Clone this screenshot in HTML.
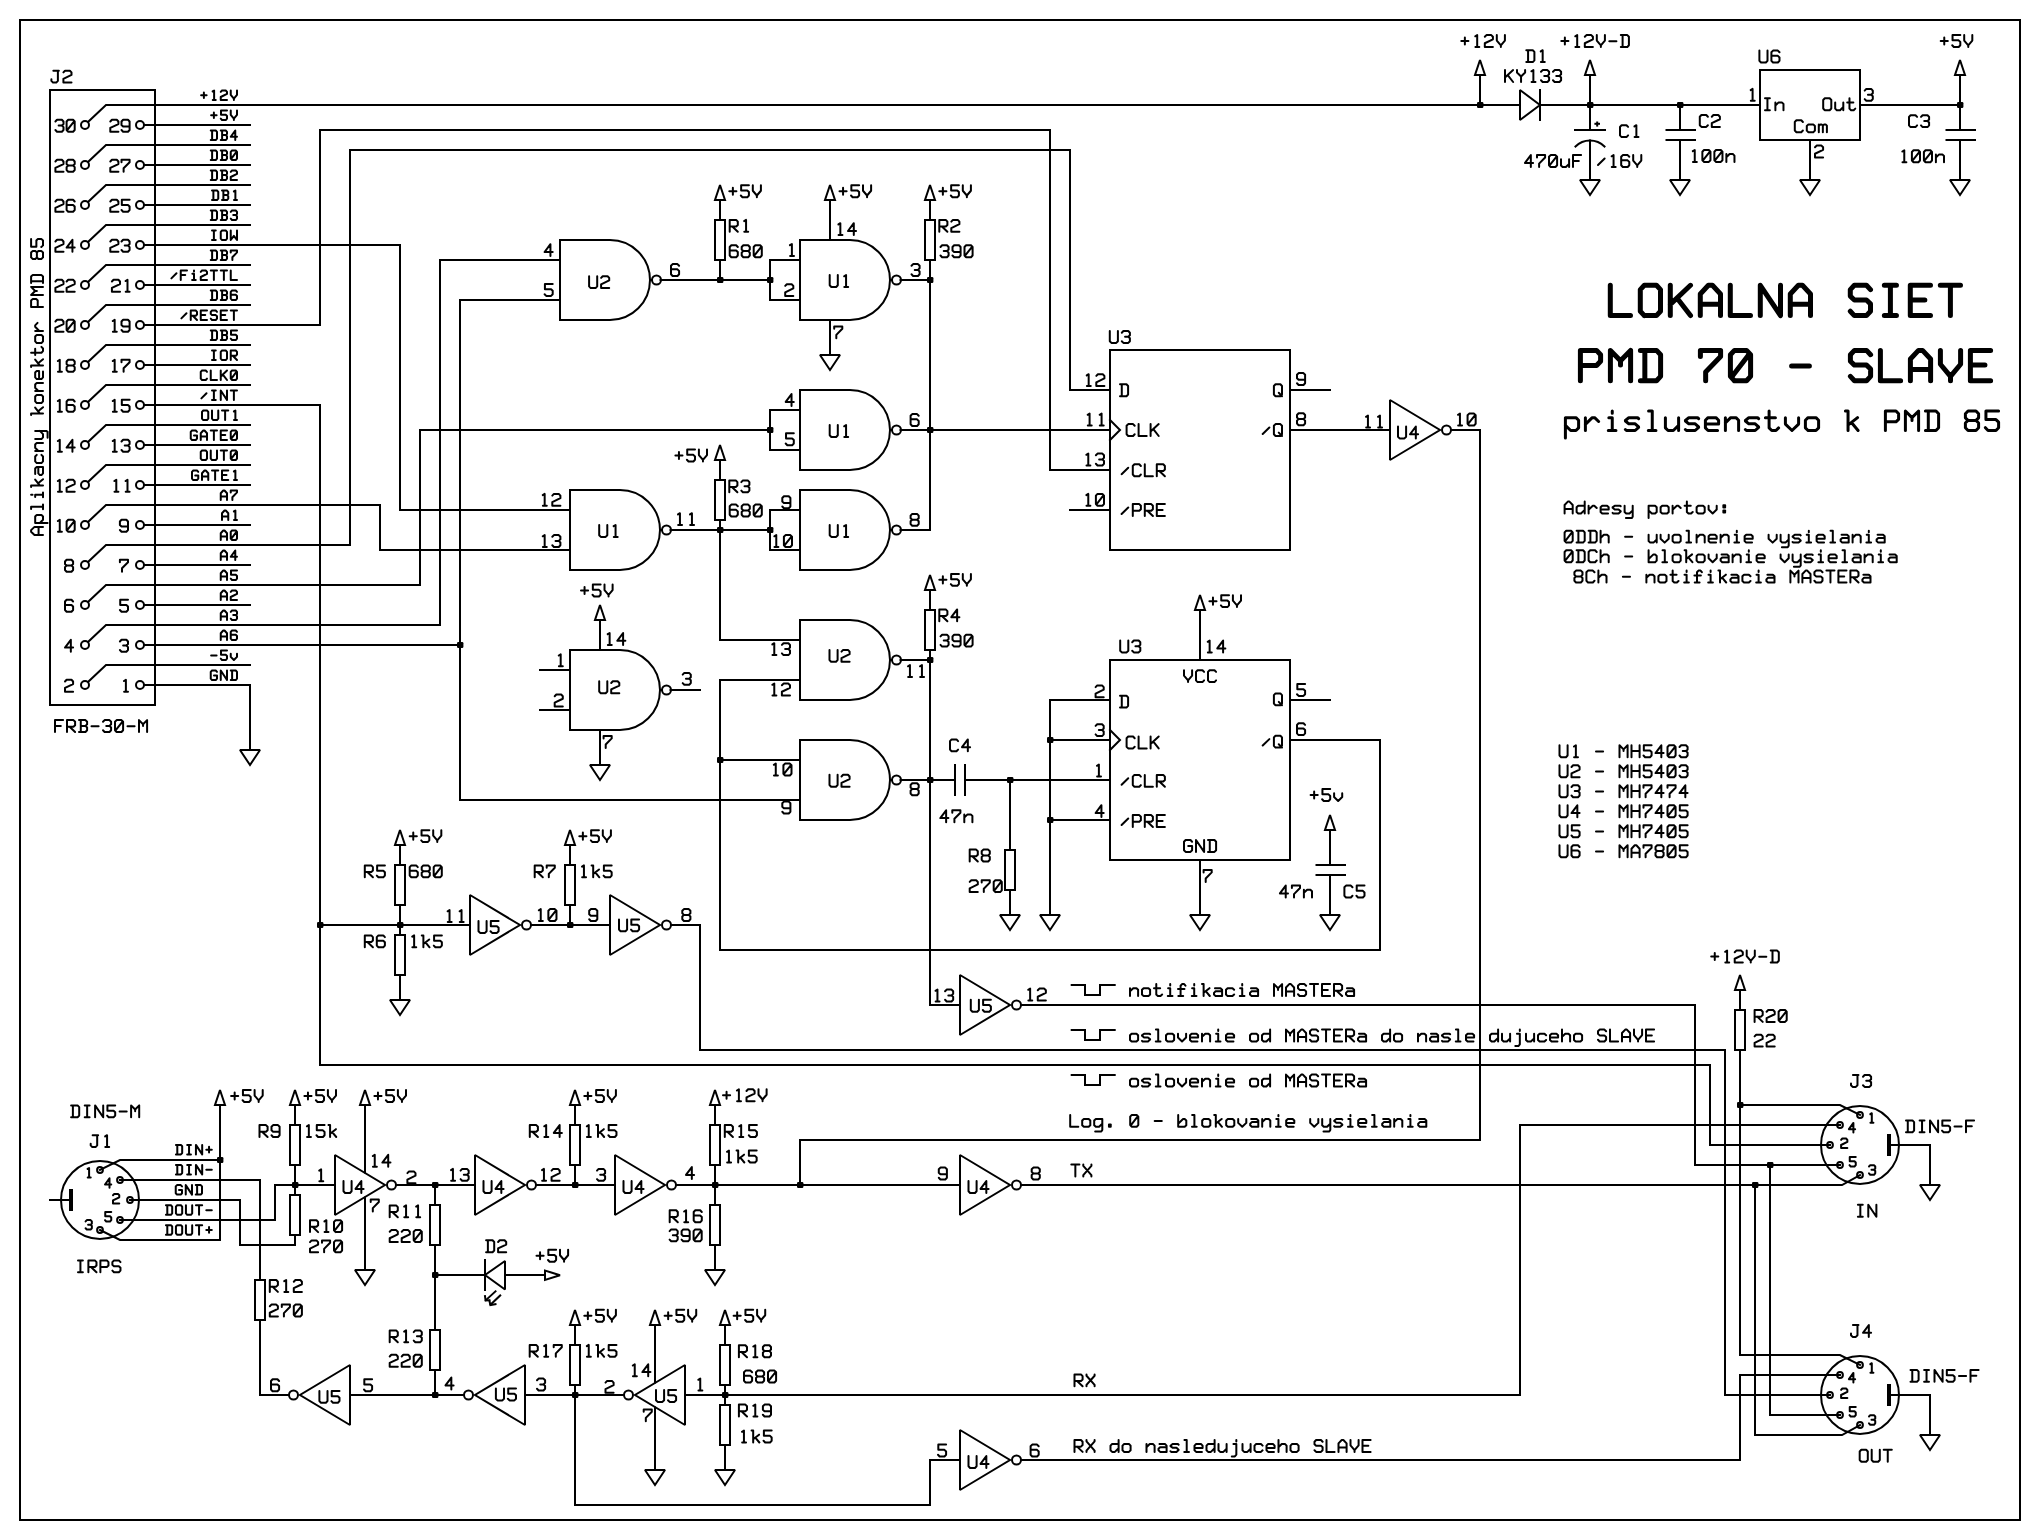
<!DOCTYPE html>
<html><head><meta charset="utf-8"><title>LOKALNA SIET PMD 70 - SLAVE</title>
<style>
html,body{margin:0;padding:0;background:#fff;width:2040px;height:1540px;overflow:hidden;}
svg{display:block;}
.w *{fill:none;stroke:#000;stroke-width:2;stroke-linecap:square;stroke-linejoin:miter;stroke-miterlimit:2;}
.w .d{fill:#000;stroke:none;}
.w .k{stroke-width:4;stroke-linecap:butt;}
body{font-family:"Liberation Mono",monospace;}
.g path{fill:none;stroke:#000;stroke-linecap:round;stroke-linejoin:round;}
</style></head>
<body>
<svg width="2040" height="1540" viewBox="0 0 2040 1540">
<rect x="0" y="0" width="2040" height="1540" fill="#fff"/>
<g class="w">
<rect x="20" y="20" width="2000" height="1500"/>
<rect x="50" y="90" width="105" height="615"/>
<circle cx="140" cy="125" r="4"/>
<circle cx="85" cy="125" r="4"/>
<polyline points="144.5,125 250,125"/>
<circle cx="140" cy="165" r="4"/>
<circle cx="85" cy="165" r="4"/>
<polyline points="144.5,165 250,165"/>
<polyline points="88.2,161.8 106,145 250,145"/>
<circle cx="140" cy="205" r="4"/>
<circle cx="85" cy="205" r="4"/>
<polyline points="144.5,205 250,205"/>
<polyline points="88.2,201.8 106,185 250,185"/>
<circle cx="140" cy="245" r="4"/>
<circle cx="85" cy="245" r="4"/>
<polyline points="88.2,241.8 106,225 250,225"/>
<circle cx="140" cy="285" r="4"/>
<circle cx="85" cy="285" r="4"/>
<polyline points="144.5,285 250,285"/>
<polyline points="88.2,281.8 106,265 250,265"/>
<circle cx="140" cy="325" r="4"/>
<circle cx="85" cy="325" r="4"/>
<polyline points="88.2,321.8 106,305 250,305"/>
<circle cx="140" cy="365" r="4"/>
<circle cx="85" cy="365" r="4"/>
<polyline points="144.5,365 250,365"/>
<polyline points="88.2,361.8 106,345 250,345"/>
<circle cx="140" cy="405" r="4"/>
<circle cx="85" cy="405" r="4"/>
<polyline points="88.2,401.8 106,385 250,385"/>
<circle cx="140" cy="445" r="4"/>
<circle cx="85" cy="445" r="4"/>
<polyline points="144.5,445 250,445"/>
<polyline points="88.2,441.8 106,425 250,425"/>
<circle cx="140" cy="485" r="4"/>
<circle cx="85" cy="485" r="4"/>
<polyline points="144.5,485 250,485"/>
<polyline points="88.2,481.8 106,465 250,465"/>
<circle cx="140" cy="525" r="4"/>
<circle cx="85" cy="525" r="4"/>
<polyline points="144.5,525 250,525"/>
<circle cx="140" cy="565" r="4"/>
<circle cx="85" cy="565" r="4"/>
<polyline points="144.5,565 250,565"/>
<circle cx="140" cy="605" r="4"/>
<circle cx="85" cy="605" r="4"/>
<polyline points="144.5,605 250,605"/>
<circle cx="140" cy="645" r="4"/>
<circle cx="85" cy="645" r="4"/>
<circle cx="140" cy="685" r="4"/>
<circle cx="85" cy="685" r="4"/>
<polyline points="88.2,681.8 106,665 250,665"/>
<polyline points="88.2,121.8 106,105 1520,105"/>
<polyline points="144.5,245 400,245 400,510 570,510"/>
<polyline points="144.5,325 320,325 320,130 1050,130 1050,470 1110,470"/>
<polyline points="144.5,405 320,405 320,1065 1710,1065 1710,1145 1830,1145"/>
<polyline points="88.2,521.8 106,505 380,505 380,550 570,550"/>
<polyline points="88.2,561.8 106,545 350,545 350,150 1070,150 1070,390 1110,390"/>
<polyline points="88.2,601.8 106,585 420,585 420,430 770,430"/>
<polyline points="88.2,641.8 106,625 440,625 440,260 560,260"/>
<polyline points="144.5,645 460,645"/>
<rect class="d" x="457" y="642" width="6.4" height="6" rx="1.2"/>
<polyline points="560,300 460,300 460,800 800,800"/>
<polyline points="144.5,685 250,685 250,750"/>
<polygon points="240,750 260,750 250,765"/>
<path d="M560,240 H610 A40,40 0 0 1 610,320 H560 Z"/>
<circle cx="656.5" cy="280" r="4.5"/>
<polyline points="650,280 652,280"/>
<polyline points="660.5,280 770,280"/>
<rect class="d" x="717" y="277" width="6.4" height="6" rx="1.2"/>
<rect class="d" x="767" y="277" width="6.4" height="6" rx="1.2"/>
<polyline points="800,260 770,260 770,300 800,300"/>
<polygon points="715,200 725,200 720,185"/>
<polyline points="720,200 720,220"/>
<rect x="715" y="220" width="10" height="40"/>
<polyline points="720,260 720,280"/>
<path d="M800,240 H850 A40,40 0 0 1 850,320 H800 Z"/>
<circle cx="896.5" cy="280" r="4.5"/>
<polyline points="890,280 892,280"/>
<polyline points="830,240 830,200"/>
<polygon points="825,200 835,200 830,185"/>
<polyline points="830,320 830,355"/>
<polygon points="820,355 840,355 830,370"/>
<polyline points="900.5,280 930,280"/>
<polygon points="925,200 935,200 930,185"/>
<polyline points="930,200 930,220"/>
<rect x="925" y="220" width="10" height="40"/>
<polyline points="930,260 930,530 900.5,530"/>
<rect class="d" x="927" y="277" width="6.4" height="6" rx="1.2"/>
<rect class="d" x="927" y="427" width="6.4" height="6" rx="1.2"/>
<path d="M800,390 H850 A40,40 0 0 1 850,470 H800 Z"/>
<circle cx="896.5" cy="430" r="4.5"/>
<polyline points="890,430 892,430"/>
<polyline points="800,410 770,410 770,450 800,450"/>
<rect class="d" x="767" y="427" width="6.4" height="6" rx="1.2"/>
<polyline points="900.5,430 1110,430"/>
<path d="M800,490 H850 A40,40 0 0 1 850,570 H800 Z"/>
<circle cx="896.5" cy="530" r="4.5"/>
<polyline points="890,530 892,530"/>
<polyline points="800,510 770,510 770,550 800,550"/>
<rect class="d" x="767" y="527" width="6.4" height="6" rx="1.2"/>
<path d="M570,490 H620 A40,40 0 0 1 620,570 H570 Z"/>
<circle cx="666.5" cy="530" r="4.5"/>
<polyline points="660,530 662,530"/>
<polyline points="670.5,530 770,530"/>
<rect class="d" x="717" y="527" width="6.4" height="6" rx="1.2"/>
<polygon points="715,460 725,460 720,445"/>
<polyline points="720,460 720,480"/>
<rect x="715" y="480" width="10" height="40"/>
<polyline points="720,520 720,640 800,640"/>
<path d="M570,650 H620 A40,40 0 0 1 620,730 H570 Z"/>
<circle cx="666.5" cy="690" r="4.5"/>
<polyline points="660,690 662,690"/>
<polyline points="540,670 570,670"/>
<polyline points="540,710 570,710"/>
<polyline points="670.5,690 700,690"/>
<polyline points="600,650 600,620"/>
<polygon points="595,620 605,620 600,605"/>
<polyline points="600,730 600,765"/>
<polygon points="590,765 610,765 600,780"/>
<path d="M800,620 H850 A40,40 0 0 1 850,700 H800 Z"/>
<circle cx="896.5" cy="660" r="4.5"/>
<polyline points="890,660 892,660"/>
<polyline points="720,680 800,680"/>
<polyline points="900.5,660 930,660"/>
<rect class="d" x="927" y="657" width="6.4" height="6" rx="1.2"/>
<polygon points="925,590 935,590 930,575"/>
<polyline points="930,590 930,610"/>
<rect x="925" y="610" width="10" height="40"/>
<polyline points="930,650 930,1005 960,1005"/>
<rect class="d" x="927" y="777" width="6.4" height="6" rx="1.2"/>
<path d="M800,740 H850 A40,40 0 0 1 850,820 H800 Z"/>
<circle cx="896.5" cy="780" r="4.5"/>
<polyline points="890,780 892,780"/>
<polyline points="720,760 800,760"/>
<rect class="d" x="717" y="757" width="6.4" height="6" rx="1.2"/>
<polyline points="900.5,780 955,780"/>
<polyline points="720,680 720,950 1380,950 1380,740 1290,740"/>
<polyline points="955,765 955,795"/>
<polyline points="965,765 965,795"/>
<polyline points="965,780 1110,780"/>
<rect class="d" x="1007" y="777" width="6.4" height="6" rx="1.2"/>
<polyline points="1010,780 1010,850"/>
<rect x="1005" y="850" width="10" height="40"/>
<polyline points="1010,890 1010,915"/>
<polygon points="1000,915 1020,915 1010,930"/>
<polyline points="1110,700 1050,700 1050,915"/>
<polygon points="1040,915 1060,915 1050,930"/>
<rect class="d" x="1047" y="737" width="6.4" height="6" rx="1.2"/>
<polyline points="1050,740 1110,740"/>
<rect class="d" x="1047" y="817" width="6.4" height="6" rx="1.2"/>
<polyline points="1050,820 1110,820"/>
<rect x="1110" y="350" width="180" height="200"/>
<polyline points="1110,420 1120,430 1110,440"/>
<polyline points="1070,510 1110,510"/>
<polyline points="1290,390 1330,390"/>
<polyline points="1290,430 1390,430"/>
<polygon points="1390,400 1390,460 1440,430"/>
<circle cx="1446.5" cy="430" r="4.5"/>
<polyline points="1451.5,430 1480,430 1480,1140 800,1140 800,1185"/>
<rect x="1110" y="660" width="180" height="200"/>
<polyline points="1110,730 1120,740 1110,750"/>
<polyline points="1200,660 1200,610"/>
<polygon points="1195,610 1205,610 1200,595"/>
<polyline points="1200,860 1200,915"/>
<polygon points="1190,915 1210,915 1200,930"/>
<polyline points="1290,700 1330,700"/>
<polygon points="1325,830 1335,830 1330,815"/>
<polyline points="1330,830 1330,865"/>
<polyline points="1316.5,865 1345,865"/>
<polyline points="1316.5,875 1345,875"/>
<polyline points="1330,875 1330,915"/>
<polygon points="1320,915 1340,915 1330,930"/>
<rect class="d" x="1477" y="102" width="6.4" height="6" rx="1.2"/>
<polyline points="1480,105 1480,75"/>
<polygon points="1475,75 1485,75 1480,60"/>
<polygon points="1520,90 1520,120 1540,105"/>
<polyline points="1540,90 1540,120"/>
<polyline points="1540,105 1760,105"/>
<rect class="d" x="1587" y="102" width="6.4" height="6" rx="1.2"/>
<polyline points="1590,105 1590,75"/>
<polygon points="1585,75 1595,75 1590,60"/>
<polyline points="1590,105 1590,130"/>
<polyline points="1575,130 1605,130"/>
<path d="M1575.5,146.5 A20.5,20.5 0 0 1 1604.5,146.5"/>
<polyline points="1590,140.5 1590,180"/>
<polygon points="1580,180 1600,180 1590,195"/>
<polyline points="1595.4,123.8 1599,123.8"/>
<polyline points="1597.2,122.5 1597.2,125.6"/>
<rect class="d" x="1677" y="102" width="6.4" height="6" rx="1.2"/>
<polyline points="1680,105 1680,130"/>
<polyline points="1666.5,130 1695,130"/>
<polyline points="1666.5,140 1695,140"/>
<polyline points="1680,140 1680,180"/>
<polygon points="1670,180 1690,180 1680,195"/>
<rect x="1760" y="70" width="100" height="70"/>
<polyline points="1810,140 1810,180"/>
<polygon points="1800,180 1820,180 1810,195"/>
<polyline points="1860,105 1960,105"/>
<rect class="d" x="1957" y="102" width="6.4" height="6" rx="1.2"/>
<polyline points="1960,105 1960,75"/>
<polygon points="1955,75 1965,75 1960,60"/>
<polyline points="1960,105 1960,130"/>
<polyline points="1946.5,130 1975,130"/>
<polyline points="1946.5,140 1975,140"/>
<polyline points="1960,140 1960,180"/>
<polygon points="1950,180 1970,180 1960,195"/>
<rect class="d" x="317" y="922" width="6.4" height="6" rx="1.2"/>
<polyline points="320,925 470,925"/>
<rect class="d" x="397" y="922" width="6.4" height="6" rx="1.2"/>
<polygon points="395,845 405,845 400,830"/>
<polyline points="400,845 400,865"/>
<rect x="395" y="865" width="10" height="40"/>
<polyline points="400,905 400,935"/>
<rect x="395" y="935" width="10" height="40"/>
<polyline points="400,975 400,1000"/>
<polygon points="390,1000 410,1000 400,1015"/>
<polygon points="470,895 470,955 520,925"/>
<circle cx="526.5" cy="925" r="4.5"/>
<polyline points="531.5,925 610,925"/>
<rect class="d" x="567" y="922" width="6.4" height="6" rx="1.2"/>
<polygon points="565,845 575,845 570,830"/>
<polyline points="570,845 570,865"/>
<rect x="565" y="865" width="10" height="40"/>
<polyline points="570,905 570,925"/>
<polygon points="610,895 610,955 660,925"/>
<circle cx="666.5" cy="925" r="4.5"/>
<polyline points="671.5,925 700,925 700,1050 1725,1050 1725,1395 1830,1395"/>
<polygon points="960,975 960,1035 1010,1005"/>
<circle cx="1016.5" cy="1005" r="4.5"/>
<polyline points="1021.5,1005 1695,1005 1695,1165 1840,1165"/>
<rect class="d" x="1767" y="1162" width="6.4" height="6" rx="1.2"/>
<polyline points="1770,1165 1770,1415 1840,1415"/>
<polyline points="1071.7,985 1085,985 1085,995 1100,995 1100,985 1114.7,985"/>
<polyline points="1071.7,1030 1085,1030 1085,1040 1100,1040 1100,1030 1114.7,1030"/>
<polyline points="1071.7,1075 1085,1075 1085,1085 1100,1085 1100,1075 1114.7,1075"/>
<circle cx="100" cy="1200" r="39"/>
<circle cx="100" cy="1170" r="2.9"/>
<circle cx="120" cy="1180" r="2.9"/>
<circle cx="130" cy="1200" r="2.9"/>
<circle cx="120" cy="1220" r="2.9"/>
<circle cx="100" cy="1230" r="2.9"/>
<polyline class="k" points="71,1189 71,1211"/>
<polyline points="50,1200 69,1200"/>
<polyline points="100,1170 120,1160 220,1160"/>
<rect class="d" x="217" y="1157" width="6.4" height="6" rx="1.2"/>
<polyline points="100,1230 120,1240 220,1240 220,1105"/>
<polygon points="215,1105 225,1105 220,1090"/>
<polyline points="120,1180 260,1180 260,1280"/>
<rect x="255" y="1280" width="10" height="40"/>
<polyline points="260,1320 260,1395 288.5,1395"/>
<polyline points="130,1200 240,1200 240,1245 295,1245 295,1235"/>
<polyline points="120,1220 275,1220 275,1185 335,1185"/>
<rect class="d" x="292" y="1182" width="6.4" height="6" rx="1.2"/>
<polygon points="290,1105 300,1105 295,1090"/>
<polyline points="295,1105 295,1125"/>
<rect x="290" y="1125" width="10" height="40"/>
<polyline points="295,1165 295,1195"/>
<rect x="290" y="1195" width="10" height="40"/>
<polygon points="335,1155 335,1215 385,1185"/>
<circle cx="391.5" cy="1185" r="4.5"/>
<polygon points="360,1105 370,1105 365,1090"/>
<polyline points="365,1105 365,1172.5"/>
<polyline points="365,1197.5 365,1270"/>
<polygon points="355,1270 375,1270 365,1285"/>
<polyline points="396.5,1185 475,1185"/>
<rect class="d" x="432" y="1182" width="6.4" height="6" rx="1.2"/>
<polyline points="435,1185 435,1205"/>
<rect x="430" y="1205" width="10" height="40"/>
<polyline points="435,1245 435,1330"/>
<rect x="430" y="1330" width="10" height="40"/>
<polyline points="435,1370 435,1395"/>
<rect class="d" x="432" y="1272" width="6.4" height="6" rx="1.2"/>
<rect class="d" x="432" y="1392" width="6.4" height="6" rx="1.2"/>
<polyline points="435,1275 485,1275"/>
<polyline points="485,1260 485,1290"/>
<polygon points="485,1275 505,1261 505,1289.5"/>
<polyline points="505,1275 545,1275"/>
<polygon points="545,1270.5 545,1280 560,1275.2"/>
<polyline points="495.5,1291.3 485.8,1300.2"/>
<polyline points="485,1296.2 485.6,1300.4 489.4,1300.2"/>
<polyline points="500.2,1295.5 490.6,1304.6"/>
<polyline points="489.4,1300.8 490.4,1305 495.5,1304.2"/>
<polygon points="475,1155 475,1215 525,1185"/>
<circle cx="531.5" cy="1185" r="4.5"/>
<polyline points="536.5,1185 615,1185"/>
<rect class="d" x="572" y="1182" width="6.4" height="6" rx="1.2"/>
<polygon points="570,1105 580,1105 575,1090"/>
<polyline points="575,1105 575,1125"/>
<rect x="570" y="1125" width="10" height="40"/>
<polyline points="575,1165 575,1185"/>
<polygon points="615,1155 615,1215 665,1185"/>
<circle cx="671.5" cy="1185" r="4.5"/>
<polyline points="676.5,1185 960,1185"/>
<rect class="d" x="712" y="1182" width="6.4" height="6" rx="1.2"/>
<rect class="d" x="797" y="1182" width="6.4" height="6" rx="1.2"/>
<polygon points="710,1105 720,1105 715,1090"/>
<polyline points="715,1105 715,1125"/>
<rect x="710" y="1125" width="10" height="40"/>
<polyline points="715,1165 715,1205"/>
<rect x="710" y="1205" width="10" height="40"/>
<polyline points="715,1245 715,1270"/>
<polygon points="705,1270 725,1270 715,1285"/>
<polygon points="960,1155 960,1215 1010,1185"/>
<circle cx="1016.5" cy="1185" r="4.5"/>
<polyline points="1021.5,1185 1842,1185 1860,1175"/>
<rect class="d" x="1752" y="1182" width="6.4" height="6" rx="1.2"/>
<polyline points="1755,1185 1755,1435 1842,1435 1860,1425"/>
<polygon points="350,1365 350,1425 300,1395"/>
<circle cx="293.5" cy="1395" r="4.5"/>
<polyline points="350,1395 463.5,1395"/>
<polygon points="525,1365 525,1425 475,1395"/>
<circle cx="468.5" cy="1395" r="4.5"/>
<polyline points="525,1395 623.5,1395"/>
<rect class="d" x="572" y="1392" width="6.4" height="6" rx="1.2"/>
<polygon points="570,1325 580,1325 575,1310"/>
<polyline points="575,1325 575,1345"/>
<rect x="570" y="1345" width="10" height="40"/>
<polyline points="575,1385 575,1505 930,1505 930,1460 960,1460"/>
<polygon points="685,1365 685,1425 635,1395"/>
<circle cx="628.5" cy="1395" r="4.5"/>
<polygon points="650,1325 660,1325 655,1310"/>
<polyline points="655,1325 655,1382.5"/>
<polyline points="655,1407.5 655,1470"/>
<polygon points="645,1470 665,1470 655,1485"/>
<polyline points="685,1395 1520,1395 1520,1125 1840,1125"/>
<rect class="d" x="722" y="1392" width="6.4" height="6" rx="1.2"/>
<polygon points="720,1325 730,1325 725,1310"/>
<polyline points="725,1325 725,1345"/>
<rect x="720" y="1345" width="10" height="40"/>
<polyline points="725,1385 725,1405"/>
<rect x="720" y="1405" width="10" height="40"/>
<polyline points="725,1445 725,1470"/>
<polygon points="715,1470 735,1470 725,1485"/>
<polygon points="960,1430 960,1490 1010,1460"/>
<circle cx="1016.5" cy="1460" r="4.5"/>
<polyline points="1021.5,1460 1740,1460 1740,1375 1840,1375"/>
<polygon points="1735,990 1745,990 1740,975"/>
<polyline points="1740,990 1740,1010"/>
<rect x="1735" y="1010" width="10" height="40"/>
<polyline points="1740,1050 1740,1355 1840,1355 1860,1365"/>
<rect class="d" x="1737" y="1102" width="6.4" height="6" rx="1.2"/>
<polyline points="1740,1105 1840,1105 1860,1115"/>
<circle cx="1860" cy="1145" r="39"/>
<circle cx="1860" cy="1115" r="2.9"/>
<circle cx="1840" cy="1125" r="2.9"/>
<circle cx="1830" cy="1145" r="2.9"/>
<circle cx="1840" cy="1165" r="2.9"/>
<circle cx="1860" cy="1175" r="2.9"/>
<polyline class="k" points="1889,1134 1889,1156"/>
<polyline points="1891,1145 1930,1145 1930,1185"/>
<polygon points="1920,1185 1940,1185 1930,1200"/>
<circle cx="1860" cy="1395" r="39"/>
<circle cx="1860" cy="1365" r="2.9"/>
<circle cx="1840" cy="1375" r="2.9"/>
<circle cx="1830" cy="1395" r="2.9"/>
<circle cx="1840" cy="1415" r="2.9"/>
<circle cx="1860" cy="1425" r="2.9"/>
<polyline class="k" points="1889,1384 1889,1406"/>
<polyline points="1891,1395 1930,1395 1930,1435"/>
<polygon points="1920,1435 1940,1435 1930,1450"/>
</g>
<g class="g" xml:space="preserve">
<g><title>J2</title><path stroke-width="2" d="M53.34,70.7 L58.85,70.7 M57.88,70.7 L57.88,80.9 L56.26,82.6 L53.02,82.6 L51.4,80.9 L51.4,79.2 M63.4,72.4 L65.02,70.7 L69.88,70.7 L71.5,72.4 L71.5,74.95 L63.4,78.86 L63.4,82.6 L71.5,82.6"/></g>
<g><title>FRB-30-M</title><path stroke-width="2" d="M63.1,720.1 L55,720.1 L55,732 M55,725.88 L60.83,725.88 M67,732 L67,720.1 L73.48,720.1 L75.1,721.8 L75.1,725.2 L73.48,726.73 L67,726.73 M69.59,726.73 L75.1,732 M79,720.1 L85.48,720.1 L87.1,721.8 L87.1,724.35 L85.48,725.88 L80.78,725.88 M85.48,725.88 L87.1,727.41 L87.1,730.3 L85.48,732 L79,732 M80.78,732 L80.78,720.1 M91.49,726.22 L98.61,726.22 M103,721.8 L104.62,720.1 L109.48,720.1 L111.1,721.8 L111.1,724.35 L109.48,725.88 L106.24,725.88 M109.48,725.88 L111.1,727.41 L111.1,730.3 L109.48,732 L104.62,732 L103,730.3 M116.62,732 L121.48,732 L123.1,730.3 L123.1,721.8 L121.48,720.1 L116.62,720.1 L115,721.8 L115,730.3 L116.62,732 M115.97,729.96 L122.13,722.14 M127.49,726.22 L134.61,726.22 M139,732 L139,720.1 L143.05,724.18 L147.1,720.1 L147.1,732 M143.05,724.18 L143.05,725.88"/></g>
<g><title>Aplikacny konektor PMD 85</title><path stroke-width="2" transform="rotate(-90 44 536)" d="M45,535 L45,526.5 L48.24,523.1 L49.86,523.1 L53.1,526.5 L53.1,535 M45,530.58 L53.1,530.58 M57,539.59 L57,527.18 L63.48,527.18 L65.1,528.74 L65.1,533.44 L63.48,535 L60.24,535 L57,531.87 M70.94,523.1 L73.21,523.1 L73.21,535 M70.78,535 L75.48,535 M83.11,527.18 L85.21,527.18 L85.21,535 M82.78,535 L87.48,535 M85.21,524.53 L85.21,523.1 M93,523.1 L94.62,523.1 L94.62,535 M100.45,527.18 L94.62,531.72 M96.73,530.15 L100.78,535 M105.97,527.18 L111.48,527.18 L113.1,528.74 L113.1,535 L106.62,535 L105,533.44 L105,531.87 L106.62,530.31 L113.1,530.31 M125.1,528.74 L123.48,527.18 L118.62,527.18 L117,528.74 L117,533.44 L118.62,535 L123.48,535 L125.1,533.44 M129,527.18 L129,535 M129,530.31 L132.24,527.18 L135.48,527.18 L137.1,528.74 L137.1,535 M141,527.18 L141,533.44 L142.62,535 L145.86,535 L149.1,531.87 M149.1,527.18 L149.1,538.19 L148.13,539.59 L142.3,539.59 M165,523.1 L166.62,523.1 L166.62,535 M172.45,527.18 L166.62,531.72 M168.73,530.15 L172.78,535 M178.62,535 L183.48,535 L185.1,533.44 L185.1,528.74 L183.48,527.18 L178.62,527.18 L177,528.74 L177,533.44 L178.62,535 M189,527.18 L189,535 M189,530.31 L192.24,527.18 L195.48,527.18 L197.1,528.74 L197.1,535 M201,531.09 L209.1,531.09 L209.1,528.74 L207.48,527.18 L202.62,527.18 L201,528.74 L201,533.44 L202.62,535 L208.45,535 M213,523.1 L214.62,523.1 L214.62,535 M220.45,527.18 L214.62,531.72 M216.73,530.15 L220.78,535 M227.27,523.1 L227.27,533.44 L228.89,535 L231.48,535 L233.1,533.44 M225,527.18 L231.16,527.18 M238.62,535 L243.48,535 L245.1,533.44 L245.1,528.74 L243.48,527.18 L238.62,527.18 L237,528.74 L237,533.44 L238.62,535 M249,527.18 L249,535 M249,531.25 L253.21,527.18 L254.67,527.18 L257.1,529.53 M273,535 L273,523.1 L279.48,523.1 L281.1,524.8 L281.1,528.2 L279.48,529.73 L273,529.73 M285,535 L285,523.1 L289.05,527.18 L293.1,523.1 L293.1,535 M289.05,527.18 L289.05,528.88 M297,523.1 L303.48,523.1 L305.1,524.8 L305.1,533.3 L303.48,535 L297,535 M298.78,535 L298.78,523.1 M322.62,528.88 L321,527.35 L321,524.8 L322.62,523.1 L327.48,523.1 L329.1,524.8 L329.1,527.35 L327.48,528.88 L322.62,528.88 L321,530.41 L321,533.3 L322.62,535 L327.48,535 L329.1,533.3 L329.1,530.41 L327.48,528.88 M341.1,523.1 L333.32,523.1 L333.32,528.37 L339.48,528.37 L341.1,529.9 L341.1,533.3 L339.48,535 L334.62,535 L333,533.3"/></g>
<g><title>+12V</title><path stroke-width="2" d="M201.12,95.24 L206.62,95.24 M203.88,92.38 L203.88,98.1 M212.62,91.43 L214.12,90.48 L214.12,100 M212.75,100 L215.75,100 M220.75,91.84 L222,90.48 L225.75,90.48 L227,91.84 L227,93.88 L220.75,97.01 L220.75,100 L227,100 M230.75,90.48 L230.75,94.83 L233.88,98.64 L237,94.83 L237,90.48 M233.88,98.64 L233.88,100"/></g>
<g><title>+5V</title><path stroke-width="2" d="M211.12,115.24 L216.62,115.24 M213.88,112.38 L213.88,118.1 M227,110.48 L221,110.48 L221,114.7 L225.75,114.7 L227,115.92 L227,118.64 L225.75,120 L222,120 L220.75,118.64 M230.75,110.48 L230.75,114.83 L233.88,118.64 L237,114.83 L237,110.48 M233.88,118.64 L233.88,120"/></g>
<g><title>DB4</title><path stroke-width="2" d="M210.75,130.48 L215.75,130.48 L217,131.84 L217,138.64 L215.75,140 L210.75,140 M212.12,140 L212.12,130.48 M220.75,130.48 L225.75,130.48 L227,131.84 L227,133.88 L225.75,135.1 L222.12,135.1 M225.75,135.1 L227,136.33 L227,138.64 L225.75,140 L220.75,140 M222.12,140 L222.12,130.48 M235.25,140 L235.25,130.48 L230.75,136.74 L237,136.74"/></g>
<g><title>DB0</title><path stroke-width="2" d="M210.75,150.48 L215.75,150.48 L217,151.84 L217,158.64 L215.75,160 L210.75,160 M212.12,160 L212.12,150.48 M220.75,150.48 L225.75,150.48 L227,151.84 L227,153.88 L225.75,155.1 L222.12,155.1 M225.75,155.1 L227,156.33 L227,158.64 L225.75,160 L220.75,160 M222.12,160 L222.12,150.48 M232,160 L235.75,160 L237,158.64 L237,151.84 L235.75,150.48 L232,150.48 L230.75,151.84 L230.75,158.64 L232,160 M231.5,158.37 L236.25,152.11"/></g>
<g><title>DB2</title><path stroke-width="2" d="M210.75,170.48 L215.75,170.48 L217,171.84 L217,178.64 L215.75,180 L210.75,180 M212.12,180 L212.12,170.48 M220.75,170.48 L225.75,170.48 L227,171.84 L227,173.88 L225.75,175.1 L222.12,175.1 M225.75,175.1 L227,176.33 L227,178.64 L225.75,180 L220.75,180 M222.12,180 L222.12,170.48 M230.75,171.84 L232,170.48 L235.75,170.48 L237,171.84 L237,173.88 L230.75,177.01 L230.75,180 L237,180"/></g>
<g><title>DB1</title><path stroke-width="2" d="M212,190.48 L217,190.48 L218.25,191.84 L218.25,198.64 L217,200 L212,200 M213.38,200 L213.38,190.48 M222,190.48 L227,190.48 L228.25,191.84 L228.25,193.88 L227,195.1 L223.38,195.1 M227,195.1 L228.25,196.33 L228.25,198.64 L227,200 L222,200 M223.38,200 L223.38,190.48 M233.88,191.43 L235.38,190.48 L235.38,200 M234,200 L237,200"/></g>
<g><title>DB3</title><path stroke-width="2" d="M210.75,210.48 L215.75,210.48 L217,211.84 L217,218.64 L215.75,220 L210.75,220 M212.12,220 L212.12,210.48 M220.75,210.48 L225.75,210.48 L227,211.84 L227,213.88 L225.75,215.1 L222.12,215.1 M225.75,215.1 L227,216.33 L227,218.64 L225.75,220 L220.75,220 M222.12,220 L222.12,210.48 M230.75,211.84 L232,210.48 L235.75,210.48 L237,211.84 L237,213.88 L235.75,215.1 L233.25,215.1 M235.75,215.1 L237,216.33 L237,218.64 L235.75,220 L232,220 L230.75,218.64"/></g>
<g><title>IOW</title><path stroke-width="2" d="M212,230.48 L215.75,230.48 M213.88,230.48 L213.88,240 M212,240 L215.75,240 M222,240 L225.75,240 L227,238.64 L227,231.84 L225.75,230.48 L222,230.48 L220.75,231.84 L220.75,238.64 L222,240 M230.75,230.48 L230.75,240 L233.88,235.92 L237,240 L237,230.48"/></g>
<g><title>DB7</title><path stroke-width="2" d="M210.75,250.48 L215.75,250.48 L217,251.84 L217,258.64 L215.75,260 L210.75,260 M212.12,260 L212.12,250.48 M220.75,250.48 L225.75,250.48 L227,251.84 L227,253.88 L225.75,255.1 L222.12,255.1 M225.75,255.1 L227,256.33 L227,258.64 L225.75,260 L220.75,260 M222.12,260 L222.12,250.48 M230.75,252.38 L230.75,250.48 L237,250.48 L237,252.38 L232.38,257.28 L232.38,260"/></g>
<g><title>/Fi2TTL</title><path stroke-width="2" d="M171.38,278.37 L176.5,273.2 M187,270.48 L180.75,270.48 L180.75,280 M180.75,275.1 L185.25,275.1 M192.38,273.74 L194,273.74 L194,280 M192.12,280 L195.75,280 M194,271.62 L194,270.48 M200.75,271.84 L202,270.48 L205.75,270.48 L207,271.84 L207,273.88 L200.75,277.01 L200.75,280 L207,280 M210.75,270.48 L217,270.48 M213.88,270.48 L213.88,280 M220.75,270.48 L227,270.48 M223.88,270.48 L223.88,280 M230.75,270.48 L230.75,280 L237,280"/></g>
<g><title>DB6</title><path stroke-width="2" d="M210.75,290.48 L215.75,290.48 L217,291.84 L217,298.64 L215.75,300 L210.75,300 M212.12,300 L212.12,290.48 M220.75,290.48 L225.75,290.48 L227,291.84 L227,293.88 L225.75,295.1 L222.12,295.1 M225.75,295.1 L227,296.33 L227,298.64 L225.75,300 L220.75,300 M222.12,300 L222.12,290.48 M237,291.84 L235.75,290.48 L232,290.48 L230.75,291.84 L230.75,298.64 L232,300 L235.75,300 L237,298.64 L237,295.92 L235.75,294.7 L230.75,294.7"/></g>
<g><title>/RESET</title><path stroke-width="2" d="M181.38,318.37 L186.5,313.2 M190.75,320 L190.75,310.48 L195.75,310.48 L197,311.84 L197,314.56 L195.75,315.78 L190.75,315.78 M192.75,315.78 L197,320 M207,310.48 L200.75,310.48 L200.75,320 L207,320 M200.75,315.1 L205.25,315.1 M217,311.84 L215.75,310.48 L212,310.48 L210.75,311.84 L210.75,313.88 L212,315.1 L215.75,315.1 L217,316.33 L217,318.64 L215.75,320 L212,320 L210.75,318.64 M227,310.48 L220.75,310.48 L220.75,320 L227,320 M220.75,315.1 L225.25,315.1 M230.75,310.48 L237,310.48 M233.88,310.48 L233.88,320"/></g>
<g><title>DB5</title><path stroke-width="2" d="M210.75,330.48 L215.75,330.48 L217,331.84 L217,338.64 L215.75,340 L210.75,340 M212.12,340 L212.12,330.48 M220.75,330.48 L225.75,330.48 L227,331.84 L227,333.88 L225.75,335.1 L222.12,335.1 M225.75,335.1 L227,336.33 L227,338.64 L225.75,340 L220.75,340 M222.12,340 L222.12,330.48 M237,330.48 L231,330.48 L231,334.7 L235.75,334.7 L237,335.92 L237,338.64 L235.75,340 L232,340 L230.75,338.64"/></g>
<g><title>IOR</title><path stroke-width="2" d="M212,350.48 L215.75,350.48 M213.88,350.48 L213.88,360 M212,360 L215.75,360 M222,360 L225.75,360 L227,358.64 L227,351.84 L225.75,350.48 L222,350.48 L220.75,351.84 L220.75,358.64 L222,360 M230.75,360 L230.75,350.48 L235.75,350.48 L237,351.84 L237,354.56 L235.75,355.78 L230.75,355.78 M232.75,355.78 L237,360"/></g>
<g><title>CLK0</title><path stroke-width="2" d="M207,371.84 L205.75,370.48 L202,370.48 L200.75,371.84 L200.75,378.64 L202,380 L205.75,380 L207,378.64 M210.75,370.48 L210.75,380 L217,380 M220.75,380 L220.75,370.48 M227,370.48 L220.75,376.46 M222.88,374.56 L227,380 M232,380 L235.75,380 L237,378.64 L237,371.84 L235.75,370.48 L232,370.48 L230.75,371.84 L230.75,378.64 L232,380 M231.5,378.37 L236.25,372.11"/></g>
<g><title>/INT</title><path stroke-width="2" d="M201.38,398.37 L206.5,393.2 M212,390.48 L215.75,390.48 M213.88,390.48 L213.88,400 M212,400 L215.75,400 M220.75,400 L220.75,390.48 L227,400 L227,390.48 M230.75,390.48 L237,390.48 M233.88,390.48 L233.88,400"/></g>
<g><title>OUT1</title><path stroke-width="2" d="M203.25,420 L207,420 L208.25,418.64 L208.25,411.84 L207,410.48 L203.25,410.48 L202,411.84 L202,418.64 L203.25,420 M212,410.48 L212,418.64 L213.25,420 L217,420 L218.25,418.64 L218.25,410.48 M222,410.48 L228.25,410.48 M225.12,410.48 L225.12,420 M233.88,411.43 L235.38,410.48 L235.38,420 M234,420 L237,420"/></g>
<g><title>GATE0</title><path stroke-width="2" d="M197,431.84 L195.75,430.48 L192,430.48 L190.75,431.84 L190.75,438.64 L192,440 L195.75,440 L197,438.64 L197,435.38 L194,435.38 M200.75,440 L200.75,433.2 L203.25,430.48 L204.5,430.48 L207,433.2 L207,440 M200.75,436.46 L207,436.46 M210.75,430.48 L217,430.48 M213.88,430.48 L213.88,440 M227,430.48 L220.75,430.48 L220.75,440 L227,440 M220.75,435.1 L225.25,435.1 M232,440 L235.75,440 L237,438.64 L237,431.84 L235.75,430.48 L232,430.48 L230.75,431.84 L230.75,438.64 L232,440 M231.5,438.37 L236.25,432.11"/></g>
<g><title>OUT0</title><path stroke-width="2" d="M202,460 L205.75,460 L207,458.64 L207,451.84 L205.75,450.48 L202,450.48 L200.75,451.84 L200.75,458.64 L202,460 M210.75,450.48 L210.75,458.64 L212,460 L215.75,460 L217,458.64 L217,450.48 M220.75,450.48 L227,450.48 M223.88,450.48 L223.88,460 M232,460 L235.75,460 L237,458.64 L237,451.84 L235.75,450.48 L232,450.48 L230.75,451.84 L230.75,458.64 L232,460 M231.5,458.37 L236.25,452.11"/></g>
<g><title>GATE1</title><path stroke-width="2" d="M198.25,471.84 L197,470.48 L193.25,470.48 L192,471.84 L192,478.64 L193.25,480 L197,480 L198.25,478.64 L198.25,475.38 L195.25,475.38 M202,480 L202,473.2 L204.5,470.48 L205.75,470.48 L208.25,473.2 L208.25,480 M202,476.46 L208.25,476.46 M212,470.48 L218.25,470.48 M215.12,470.48 L215.12,480 M228.25,470.48 L222,470.48 L222,480 L228.25,480 M222,475.1 L226.5,475.1 M233.88,471.43 L235.38,470.48 L235.38,480 M234,480 L237,480"/></g>
<g><title>A7</title><path stroke-width="2" d="M220.75,500 L220.75,493.2 L223.25,490.48 L224.5,490.48 L227,493.2 L227,500 M220.75,496.46 L227,496.46 M230.75,492.38 L230.75,490.48 L237,490.48 L237,492.38 L232.38,497.28 L232.38,500"/></g>
<g><title>A1</title><path stroke-width="2" d="M222,520 L222,513.2 L224.5,510.48 L225.75,510.48 L228.25,513.2 L228.25,520 M222,516.46 L228.25,516.46 M233.88,511.43 L235.38,510.48 L235.38,520 M234,520 L237,520"/></g>
<g><title>A0</title><path stroke-width="2" d="M220.75,540 L220.75,533.2 L223.25,530.48 L224.5,530.48 L227,533.2 L227,540 M220.75,536.46 L227,536.46 M232,540 L235.75,540 L237,538.64 L237,531.84 L235.75,530.48 L232,530.48 L230.75,531.84 L230.75,538.64 L232,540 M231.5,538.37 L236.25,532.11"/></g>
<g><title>A4</title><path stroke-width="2" d="M220.75,560 L220.75,553.2 L223.25,550.48 L224.5,550.48 L227,553.2 L227,560 M220.75,556.46 L227,556.46 M235.25,560 L235.25,550.48 L230.75,556.74 L237,556.74"/></g>
<g><title>A5</title><path stroke-width="2" d="M220.75,580 L220.75,573.2 L223.25,570.48 L224.5,570.48 L227,573.2 L227,580 M220.75,576.46 L227,576.46 M237,570.48 L231,570.48 L231,574.7 L235.75,574.7 L237,575.92 L237,578.64 L235.75,580 L232,580 L230.75,578.64"/></g>
<g><title>A2</title><path stroke-width="2" d="M220.75,600 L220.75,593.2 L223.25,590.48 L224.5,590.48 L227,593.2 L227,600 M220.75,596.46 L227,596.46 M230.75,591.84 L232,590.48 L235.75,590.48 L237,591.84 L237,593.88 L230.75,597.01 L230.75,600 L237,600"/></g>
<g><title>A3</title><path stroke-width="2" d="M220.75,620 L220.75,613.2 L223.25,610.48 L224.5,610.48 L227,613.2 L227,620 M220.75,616.46 L227,616.46 M230.75,611.84 L232,610.48 L235.75,610.48 L237,611.84 L237,613.88 L235.75,615.1 L233.25,615.1 M235.75,615.1 L237,616.33 L237,618.64 L235.75,620 L232,620 L230.75,618.64"/></g>
<g><title>A6</title><path stroke-width="2" d="M220.75,640 L220.75,633.2 L223.25,630.48 L224.5,630.48 L227,633.2 L227,640 M220.75,636.46 L227,636.46 M237,631.84 L235.75,630.48 L232,630.48 L230.75,631.84 L230.75,638.64 L232,640 L235.75,640 L237,638.64 L237,635.92 L235.75,634.7 L230.75,634.7"/></g>
<g><title>-5v</title><path stroke-width="2" d="M211.12,655.38 L216.62,655.38 M227,650.48 L221,650.48 L221,654.7 L225.75,654.7 L227,655.92 L227,658.64 L225.75,660 L222,660 L220.75,658.64 M230.75,653.74 L230.75,656.87 L233.88,660 L237,656.87 L237,653.74"/></g>
<g><title>GND</title><path stroke-width="2" d="M217,671.84 L215.75,670.48 L212,670.48 L210.75,671.84 L210.75,678.64 L212,680 L215.75,680 L217,678.64 L217,675.38 L214,675.38 M220.75,680 L220.75,670.48 L227,680 L227,670.48 M230.75,670.48 L235.75,670.48 L237,671.84 L237,678.64 L235.75,680 L230.75,680 M232.12,680 L232.12,670.48"/></g>
<g><title>29</title><path stroke-width="2" d="M110.3,121.5 L111.92,119.8 L116.78,119.8 L118.4,121.5 L118.4,124.05 L110.3,127.96 L110.3,131.7 L118.4,131.7 M121.5,130 L123.12,131.7 L127.98,131.7 L129.6,130 L129.6,121.5 L127.98,119.8 L123.12,119.8 L121.5,121.5 L121.5,124.9 L123.12,126.43 L129.6,126.43"/></g>
<g><title>30</title><path stroke-width="2" d="M55.4,121.5 L57.02,119.8 L61.88,119.8 L63.5,121.5 L63.5,124.05 L61.88,125.58 L58.64,125.58 M61.88,125.58 L63.5,127.11 L63.5,130 L61.88,131.7 L57.02,131.7 L55.4,130 M68.22,131.7 L73.08,131.7 L74.7,130 L74.7,121.5 L73.08,119.8 L68.22,119.8 L66.6,121.5 L66.6,130 L68.22,131.7 M67.57,129.66 L73.73,121.84"/></g>
<g><title>27</title><path stroke-width="2" d="M110.3,161.5 L111.92,159.8 L116.78,159.8 L118.4,161.5 L118.4,164.05 L110.3,167.96 L110.3,171.7 L118.4,171.7 M121.5,162.18 L121.5,159.8 L129.6,159.8 L129.6,162.18 L123.61,168.3 L123.61,171.7"/></g>
<g><title>28</title><path stroke-width="2" d="M55.4,161.5 L57.02,159.8 L61.88,159.8 L63.5,161.5 L63.5,164.05 L55.4,167.96 L55.4,171.7 L63.5,171.7 M68.22,165.58 L66.6,164.05 L66.6,161.5 L68.22,159.8 L73.08,159.8 L74.7,161.5 L74.7,164.05 L73.08,165.58 L68.22,165.58 L66.6,167.11 L66.6,170 L68.22,171.7 L73.08,171.7 L74.7,170 L74.7,167.11 L73.08,165.58"/></g>
<g><title>25</title><path stroke-width="2" d="M110.3,201.5 L111.92,199.8 L116.78,199.8 L118.4,201.5 L118.4,204.05 L110.3,207.96 L110.3,211.7 L118.4,211.7 M129.6,199.8 L121.82,199.8 L121.82,205.07 L127.98,205.07 L129.6,206.6 L129.6,210 L127.98,211.7 L123.12,211.7 L121.5,210"/></g>
<g><title>26</title><path stroke-width="2" d="M55.4,201.5 L57.02,199.8 L61.88,199.8 L63.5,201.5 L63.5,204.05 L55.4,207.96 L55.4,211.7 L63.5,211.7 M74.7,201.5 L73.08,199.8 L68.22,199.8 L66.6,201.5 L66.6,210 L68.22,211.7 L73.08,211.7 L74.7,210 L74.7,206.6 L73.08,205.07 L66.6,205.07"/></g>
<g><title>23</title><path stroke-width="2" d="M110.3,241.5 L111.92,239.8 L116.78,239.8 L118.4,241.5 L118.4,244.05 L110.3,247.96 L110.3,251.7 L118.4,251.7 M121.5,241.5 L123.12,239.8 L127.98,239.8 L129.6,241.5 L129.6,244.05 L127.98,245.58 L124.74,245.58 M127.98,245.58 L129.6,247.11 L129.6,250 L127.98,251.7 L123.12,251.7 L121.5,250"/></g>
<g><title>24</title><path stroke-width="2" d="M55.4,241.5 L57.02,239.8 L61.88,239.8 L63.5,241.5 L63.5,244.05 L55.4,247.96 L55.4,251.7 L63.5,251.7 M72.43,251.7 L72.43,239.8 L66.6,247.62 L74.7,247.62"/></g>
<g><title>21</title><path stroke-width="2" d="M111.92,281.5 L113.54,279.8 L118.4,279.8 L120.02,281.5 L120.02,284.05 L111.92,287.96 L111.92,291.7 L120.02,291.7 M125.55,280.99 L127.49,279.8 L127.49,291.7 M125.71,291.7 L129.6,291.7"/></g>
<g><title>22</title><path stroke-width="2" d="M55.4,281.5 L57.02,279.8 L61.88,279.8 L63.5,281.5 L63.5,284.05 L55.4,287.96 L55.4,291.7 L63.5,291.7 M66.6,281.5 L68.22,279.8 L73.08,279.8 L74.7,281.5 L74.7,284.05 L66.6,287.96 L66.6,291.7 L74.7,291.7"/></g>
<g><title>19</title><path stroke-width="2" d="M112.73,320.99 L114.67,319.8 L114.67,331.7 M112.89,331.7 L116.78,331.7 M121.5,330 L123.12,331.7 L127.98,331.7 L129.6,330 L129.6,321.5 L127.98,319.8 L123.12,319.8 L121.5,321.5 L121.5,324.9 L123.12,326.43 L129.6,326.43"/></g>
<g><title>20</title><path stroke-width="2" d="M55.4,321.5 L57.02,319.8 L61.88,319.8 L63.5,321.5 L63.5,324.05 L55.4,327.96 L55.4,331.7 L63.5,331.7 M68.22,331.7 L73.08,331.7 L74.7,330 L74.7,321.5 L73.08,319.8 L68.22,319.8 L66.6,321.5 L66.6,330 L68.22,331.7 M67.57,329.66 L73.73,321.84"/></g>
<g><title>17</title><path stroke-width="2" d="M112.73,360.99 L114.67,359.8 L114.67,371.7 M112.89,371.7 L116.78,371.7 M121.5,362.18 L121.5,359.8 L129.6,359.8 L129.6,362.18 L123.61,368.3 L123.61,371.7"/></g>
<g><title>18</title><path stroke-width="2" d="M57.83,360.99 L59.77,359.8 L59.77,371.7 M57.99,371.7 L61.88,371.7 M68.22,365.58 L66.6,364.05 L66.6,361.5 L68.22,359.8 L73.08,359.8 L74.7,361.5 L74.7,364.05 L73.08,365.58 L68.22,365.58 L66.6,367.11 L66.6,370 L68.22,371.7 L73.08,371.7 L74.7,370 L74.7,367.11 L73.08,365.58"/></g>
<g><title>15</title><path stroke-width="2" d="M112.73,400.99 L114.67,399.8 L114.67,411.7 M112.89,411.7 L116.78,411.7 M129.6,399.8 L121.82,399.8 L121.82,405.07 L127.98,405.07 L129.6,406.6 L129.6,410 L127.98,411.7 L123.12,411.7 L121.5,410"/></g>
<g><title>16</title><path stroke-width="2" d="M57.83,400.99 L59.77,399.8 L59.77,411.7 M57.99,411.7 L61.88,411.7 M74.7,401.5 L73.08,399.8 L68.22,399.8 L66.6,401.5 L66.6,410 L68.22,411.7 L73.08,411.7 L74.7,410 L74.7,406.6 L73.08,405.07 L66.6,405.07"/></g>
<g><title>13</title><path stroke-width="2" d="M112.73,440.99 L114.67,439.8 L114.67,451.7 M112.89,451.7 L116.78,451.7 M121.5,441.5 L123.12,439.8 L127.98,439.8 L129.6,441.5 L129.6,444.05 L127.98,445.58 L124.74,445.58 M127.98,445.58 L129.6,447.11 L129.6,450 L127.98,451.7 L123.12,451.7 L121.5,450"/></g>
<g><title>14</title><path stroke-width="2" d="M57.83,440.99 L59.77,439.8 L59.77,451.7 M57.99,451.7 L61.88,451.7 M72.43,451.7 L72.43,439.8 L66.6,447.62 L74.7,447.62"/></g>
<g><title>11</title><path stroke-width="2" d="M114.35,480.99 L116.29,479.8 L116.29,491.7 M114.51,491.7 L118.4,491.7 M125.55,480.99 L127.49,479.8 L127.49,491.7 M125.71,491.7 L129.6,491.7"/></g>
<g><title>12</title><path stroke-width="2" d="M57.83,480.99 L59.77,479.8 L59.77,491.7 M57.99,491.7 L61.88,491.7 M66.6,481.5 L68.22,479.8 L73.08,479.8 L74.7,481.5 L74.7,484.05 L66.6,487.96 L66.6,491.7 L74.7,491.7"/></g>
<g><title>9</title><path stroke-width="2" d="M119.9,530 L121.52,531.7 L126.38,531.7 L128,530 L128,521.5 L126.38,519.8 L121.52,519.8 L119.9,521.5 L119.9,524.9 L121.52,526.43 L128,526.43"/></g>
<g><title>10</title><path stroke-width="2" d="M57.83,520.99 L59.77,519.8 L59.77,531.7 M57.99,531.7 L61.88,531.7 M68.22,531.7 L73.08,531.7 L74.7,530 L74.7,521.5 L73.08,519.8 L68.22,519.8 L66.6,521.5 L66.6,530 L68.22,531.7 M67.57,529.66 L73.73,521.84"/></g>
<g><title>7</title><path stroke-width="2" d="M119.9,562.18 L119.9,559.8 L128,559.8 L128,562.18 L122.01,568.3 L122.01,571.7"/></g>
<g><title>8</title><path stroke-width="2" d="M66.62,565.58 L65,564.05 L65,561.5 L66.62,559.8 L71.48,559.8 L73.1,561.5 L73.1,564.05 L71.48,565.58 L66.62,565.58 L65,567.11 L65,570 L66.62,571.7 L71.48,571.7 L73.1,570 L73.1,567.11 L71.48,565.58"/></g>
<g><title>5</title><path stroke-width="2" d="M128,599.8 L120.22,599.8 L120.22,605.07 L126.38,605.07 L128,606.6 L128,610 L126.38,611.7 L121.52,611.7 L119.9,610"/></g>
<g><title>6</title><path stroke-width="2" d="M73.1,601.5 L71.48,599.8 L66.62,599.8 L65,601.5 L65,610 L66.62,611.7 L71.48,611.7 L73.1,610 L73.1,606.6 L71.48,605.07 L65,605.07"/></g>
<g><title>3</title><path stroke-width="2" d="M119.9,641.5 L121.52,639.8 L126.38,639.8 L128,641.5 L128,644.05 L126.38,645.58 L123.14,645.58 M126.38,645.58 L128,647.11 L128,650 L126.38,651.7 L121.52,651.7 L119.9,650"/></g>
<g><title>4</title><path stroke-width="2" d="M70.83,651.7 L70.83,639.8 L65,647.62 L73.1,647.62"/></g>
<g><title>1</title><path stroke-width="2" d="M123.95,680.99 L125.89,679.8 L125.89,691.7 M124.11,691.7 L128,691.7"/></g>
<g><title>2</title><path stroke-width="2" d="M65,681.5 L66.62,679.8 L71.48,679.8 L73.1,681.5 L73.1,684.05 L65,687.96 L65,691.7 L73.1,691.7"/></g>
<g><title>U2</title><path stroke-width="2" d="M589.1,276.2 L589.1,286.4 L590.72,288.1 L595.58,288.1 L597.2,286.4 L597.2,276.2 M601.1,277.9 L602.72,276.2 L607.58,276.2 L609.2,277.9 L609.2,280.45 L601.1,284.36 L601.1,288.1 L609.2,288.1"/></g>
<g><title>4</title><path stroke-width="2" d="M550.43,256.1 L550.43,244.2 L544.6,252.02 L552.7,252.02"/></g>
<g><title>5</title><path stroke-width="2" d="M552.7,284 L544.92,284 L544.92,289.27 L551.08,289.27 L552.7,290.8 L552.7,294.2 L551.08,295.9 L546.22,295.9 L544.6,294.2"/></g>
<g><title>6</title><path stroke-width="2" d="M679.1,265.8 L677.48,264.1 L672.62,264.1 L671,265.8 L671,274.3 L672.62,276 L677.48,276 L679.1,274.3 L679.1,270.9 L677.48,269.37 L671,269.37"/></g>
<g><title>+5V</title><path stroke-width="2" d="M729.3,191.25 L736.43,191.25 M732.86,187.68 L732.86,194.82 M748.91,185.3 L741.14,185.3 L741.14,190.57 L747.29,190.57 L748.91,192.1 L748.91,195.5 L747.29,197.2 L742.43,197.2 L740.81,195.5 M752.81,185.3 L752.81,190.74 L756.86,195.5 L760.91,190.74 L760.91,185.3 M756.86,195.5 L756.86,197.2"/></g>
<g><title>R1</title><path stroke-width="2" d="M729.7,231.8 L729.7,219.9 L736.18,219.9 L737.8,221.6 L737.8,225 L736.18,226.53 L729.7,226.53 M732.29,226.53 L737.8,231.8 M744.13,221.09 L746.07,219.9 L746.07,231.8 M744.29,231.8 L748.18,231.8"/></g>
<g><title>680</title><path stroke-width="2" d="M737.8,247 L736.18,245.3 L731.32,245.3 L729.7,247 L729.7,255.5 L731.32,257.2 L736.18,257.2 L737.8,255.5 L737.8,252.1 L736.18,250.57 L729.7,250.57 M743.32,251.08 L741.7,249.55 L741.7,247 L743.32,245.3 L748.18,245.3 L749.8,247 L749.8,249.55 L748.18,251.08 L743.32,251.08 L741.7,252.61 L741.7,255.5 L743.32,257.2 L748.18,257.2 L749.8,255.5 L749.8,252.61 L748.18,251.08 M755.32,257.2 L760.18,257.2 L761.8,255.5 L761.8,247 L760.18,245.3 L755.32,245.3 L753.7,247 L753.7,255.5 L755.32,257.2 M754.67,255.16 L760.83,247.34"/></g>
<g><title>U1</title><path stroke-width="2" d="M829.7,275.1 L829.7,285.3 L831.32,287 L836.18,287 L837.8,285.3 L837.8,275.1 M844.13,276.29 L846.07,275.1 L846.07,287 M844.29,287 L848.18,287"/></g>
<g><title>1</title><path stroke-width="2" d="M789.95,245.19 L791.89,244 L791.89,255.9 M790.11,255.9 L794,255.9"/></g>
<g><title>2</title><path stroke-width="2" d="M785.2,285.9 L786.82,284.2 L791.68,284.2 L793.3,285.9 L793.3,288.45 L785.2,292.36 L785.2,296.1 L793.3,296.1"/></g>
<g><title>14</title><path stroke-width="2" d="M838.4,224.39 L840.34,223.2 L840.34,235.1 M838.56,235.1 L842.45,235.1 M853.8,235.1 L853.8,223.2 L847.97,231.02 L856.07,231.02"/></g>
<g><title>7</title><path stroke-width="2" d="M834.2,328.78 L834.2,326.4 L842.3,326.4 L842.3,328.78 L836.31,334.9 L836.31,338.3"/></g>
<g><title>3</title><path stroke-width="2" d="M911.5,265.8 L913.12,264.1 L917.98,264.1 L919.6,265.8 L919.6,268.35 L917.98,269.88 L914.74,269.88 M917.98,269.88 L919.6,271.41 L919.6,274.3 L917.98,276 L913.12,276 L911.5,274.3"/></g>
<g><title>+5V</title><path stroke-width="2" d="M839.5,191.25 L846.63,191.25 M843.06,187.68 L843.06,194.82 M859.11,185.3 L851.34,185.3 L851.34,190.57 L857.49,190.57 L859.11,192.1 L859.11,195.5 L857.49,197.2 L852.63,197.2 L851.01,195.5 M863.01,185.3 L863.01,190.74 L867.06,195.5 L871.11,190.74 L871.11,185.3 M867.06,195.5 L867.06,197.2"/></g>
<g><title>+5V</title><path stroke-width="2" d="M939.3,191.25 L946.43,191.25 M942.86,187.68 L942.86,194.82 M958.91,185.3 L951.14,185.3 L951.14,190.57 L957.29,190.57 L958.91,192.1 L958.91,195.5 L957.29,197.2 L952.43,197.2 L950.81,195.5 M962.81,185.3 L962.81,190.74 L966.86,195.5 L970.91,190.74 L970.91,185.3 M966.86,195.5 L966.86,197.2"/></g>
<g><title>R2</title><path stroke-width="2" d="M939.3,231.8 L939.3,219.9 L945.78,219.9 L947.4,221.6 L947.4,225 L945.78,226.53 L939.3,226.53 M941.89,226.53 L947.4,231.8 M951.3,221.6 L952.92,219.9 L957.78,219.9 L959.4,221.6 L959.4,224.15 L951.3,228.06 L951.3,231.8 L959.4,231.8"/></g>
<g><title>390</title><path stroke-width="2" d="M940.5,247 L942.12,245.3 L946.98,245.3 L948.6,247 L948.6,249.55 L946.98,251.08 L943.74,251.08 M946.98,251.08 L948.6,252.61 L948.6,255.5 L946.98,257.2 L942.12,257.2 L940.5,255.5 M952.5,255.5 L954.12,257.2 L958.98,257.2 L960.6,255.5 L960.6,247 L958.98,245.3 L954.12,245.3 L952.5,247 L952.5,250.4 L954.12,251.93 L960.6,251.93 M966.12,257.2 L970.98,257.2 L972.6,255.5 L972.6,247 L970.98,245.3 L966.12,245.3 L964.5,247 L964.5,255.5 L966.12,257.2 M965.47,255.16 L971.63,247.34"/></g>
<g><title>U1</title><path stroke-width="2" d="M829.7,425.1 L829.7,435.3 L831.32,437 L836.18,437 L837.8,435.3 L837.8,425.1 M844.13,426.29 L846.07,425.1 L846.07,437 M844.29,437 L848.18,437"/></g>
<g><title>4</title><path stroke-width="2" d="M791.53,406 L791.53,394.1 L785.7,401.92 L793.8,401.92"/></g>
<g><title>5</title><path stroke-width="2" d="M793.8,433.3 L786.02,433.3 L786.02,438.57 L792.18,438.57 L793.8,440.1 L793.8,443.5 L792.18,445.2 L787.32,445.2 L785.7,443.5"/></g>
<g><title>6</title><path stroke-width="2" d="M918.7,415.8 L917.08,414.1 L912.22,414.1 L910.6,415.8 L910.6,424.3 L912.22,426 L917.08,426 L918.7,424.3 L918.7,420.9 L917.08,419.37 L910.6,419.37"/></g>
<g><title>U1</title><path stroke-width="2" d="M829.7,525 L829.7,535.2 L831.32,536.9 L836.18,536.9 L837.8,535.2 L837.8,525 M844.13,526.19 L846.07,525 L846.07,536.9 M844.29,536.9 L848.18,536.9"/></g>
<g><title>9</title><path stroke-width="2" d="M782.3,506.5 L783.92,508.2 L788.78,508.2 L790.4,506.5 L790.4,498 L788.78,496.3 L783.92,496.3 L782.3,498 L782.3,501.4 L783.92,502.93 L790.4,502.93"/></g>
<g><title>10</title><path stroke-width="2" d="M774.33,536.29 L776.27,535.1 L776.27,547 M774.49,547 L778.38,547 M785.52,547 L790.38,547 L792,545.3 L792,536.8 L790.38,535.1 L785.52,535.1 L783.9,536.8 L783.9,545.3 L785.52,547 M784.87,544.96 L791.03,537.14"/></g>
<g><title>8</title><path stroke-width="2" d="M912.22,519.68 L910.6,518.15 L910.6,515.6 L912.22,513.9 L917.08,513.9 L918.7,515.6 L918.7,518.15 L917.08,519.68 L912.22,519.68 L910.6,521.21 L910.6,524.1 L912.22,525.8 L917.08,525.8 L918.7,524.1 L918.7,521.21 L917.08,519.68"/></g>
<g><title>U1</title><path stroke-width="2" d="M599.2,525 L599.2,535.2 L600.82,536.9 L605.68,536.9 L607.3,535.2 L607.3,525 M613.63,526.19 L615.57,525 L615.57,536.9 M613.79,536.9 L617.68,536.9"/></g>
<g><title>12</title><path stroke-width="2" d="M542.73,495.09 L544.67,493.9 L544.67,505.8 M542.89,505.8 L546.78,505.8 M552.3,495.6 L553.92,493.9 L558.78,493.9 L560.4,495.6 L560.4,498.15 L552.3,502.06 L552.3,505.8 L560.4,505.8"/></g>
<g><title>13</title><path stroke-width="2" d="M542.73,536.29 L544.67,535.1 L544.67,547 M542.89,547 L546.78,547 M552.3,536.8 L553.92,535.1 L558.78,535.1 L560.4,536.8 L560.4,539.35 L558.78,540.88 L555.54,540.88 M558.78,540.88 L560.4,542.41 L560.4,545.3 L558.78,547 L553.92,547 L552.3,545.3"/></g>
<g><title>11</title><path stroke-width="2" d="M678,514.39 L679.94,513.2 L679.94,525.1 M678.16,525.1 L682.05,525.1 M690,514.39 L691.94,513.2 L691.94,525.1 M690.16,525.1 L694.05,525.1"/></g>
<g><title>+5V</title><path stroke-width="2" d="M675.39,455.55 L682.51,455.55 M678.95,451.98 L678.95,459.12 M695,449.6 L687.22,449.6 L687.22,454.87 L693.38,454.87 L695,456.4 L695,459.8 L693.38,461.5 L688.52,461.5 L686.9,459.8 M698.9,449.6 L698.9,455.04 L702.95,459.8 L707,455.04 L707,449.6 M702.95,459.8 L702.95,461.5"/></g>
<g><title>R3</title><path stroke-width="2" d="M729.3,492.3 L729.3,480.4 L735.78,480.4 L737.4,482.1 L737.4,485.5 L735.78,487.03 L729.3,487.03 M731.89,487.03 L737.4,492.3 M741.3,482.1 L742.92,480.4 L747.78,480.4 L749.4,482.1 L749.4,484.65 L747.78,486.18 L744.54,486.18 M747.78,486.18 L749.4,487.71 L749.4,490.6 L747.78,492.3 L742.92,492.3 L741.3,490.6"/></g>
<g><title>680</title><path stroke-width="2" d="M737.8,506.3 L736.18,504.6 L731.32,504.6 L729.7,506.3 L729.7,514.8 L731.32,516.5 L736.18,516.5 L737.8,514.8 L737.8,511.4 L736.18,509.87 L729.7,509.87 M743.32,510.38 L741.7,508.85 L741.7,506.3 L743.32,504.6 L748.18,504.6 L749.8,506.3 L749.8,508.85 L748.18,510.38 L743.32,510.38 L741.7,511.91 L741.7,514.8 L743.32,516.5 L748.18,516.5 L749.8,514.8 L749.8,511.91 L748.18,510.38 M755.32,516.5 L760.18,516.5 L761.8,514.8 L761.8,506.3 L760.18,504.6 L755.32,504.6 L753.7,506.3 L753.7,514.8 L755.32,516.5 M754.67,514.46 L760.83,506.64"/></g>
<g><title>U2</title><path stroke-width="2" d="M599.2,681.3 L599.2,691.5 L600.82,693.2 L605.68,693.2 L607.3,691.5 L607.3,681.3 M611.2,683 L612.82,681.3 L617.68,681.3 L619.3,683 L619.3,685.55 L611.2,689.46 L611.2,693.2 L619.3,693.2"/></g>
<g><title>1</title><path stroke-width="2" d="M558.75,655.49 L560.69,654.3 L560.69,666.2 M558.91,666.2 L562.8,666.2"/></g>
<g><title>2</title><path stroke-width="2" d="M554.7,696.2 L556.32,694.5 L561.18,694.5 L562.8,696.2 L562.8,698.75 L554.7,702.66 L554.7,706.4 L562.8,706.4"/></g>
<g><title>14</title><path stroke-width="2" d="M607.7,634.19 L609.64,633 L609.64,644.9 M607.86,644.9 L611.75,644.9 M623.1,644.9 L623.1,633 L617.27,640.82 L625.37,640.82"/></g>
<g><title>7</title><path stroke-width="2" d="M603.6,738.38 L603.6,736 L611.7,736 L611.7,738.38 L605.71,744.5 L605.71,747.9"/></g>
<g><title>3</title><path stroke-width="2" d="M682.7,674.6 L684.32,672.9 L689.18,672.9 L690.8,674.6 L690.8,677.15 L689.18,678.68 L685.94,678.68 M689.18,678.68 L690.8,680.21 L690.8,683.1 L689.18,684.8 L684.32,684.8 L682.7,683.1"/></g>
<g><title>+5V</title><path stroke-width="2" d="M581,590.55 L588.13,590.55 M584.56,586.98 L584.56,594.12 M600.61,584.6 L592.84,584.6 L592.84,589.87 L598.99,589.87 L600.61,591.4 L600.61,594.8 L598.99,596.5 L594.13,596.5 L592.51,594.8 M604.51,584.6 L604.51,590.04 L608.56,594.8 L612.61,590.04 L612.61,584.6 M608.56,594.8 L608.56,596.5"/></g>
<g><title>U2</title><path stroke-width="2" d="M829.5,649.9 L829.5,660.1 L831.12,661.8 L835.98,661.8 L837.6,660.1 L837.6,649.9 M841.5,651.6 L843.12,649.9 L847.98,649.9 L849.6,651.6 L849.6,654.15 L841.5,658.06 L841.5,661.8 L849.6,661.8"/></g>
<g><title>13</title><path stroke-width="2" d="M772.33,644.39 L774.27,643.2 L774.27,655.1 M772.49,655.1 L776.38,655.1 M781.9,644.9 L783.52,643.2 L788.38,643.2 L790,644.9 L790,647.45 L788.38,648.98 L785.14,648.98 M788.38,648.98 L790,650.51 L790,653.4 L788.38,655.1 L783.52,655.1 L781.9,653.4"/></g>
<g><title>12</title><path stroke-width="2" d="M772.33,684.79 L774.27,683.6 L774.27,695.5 M772.49,695.5 L776.38,695.5 M781.9,685.3 L783.52,683.6 L788.38,683.6 L790,685.3 L790,687.85 L781.9,691.76 L781.9,695.5 L790,695.5"/></g>
<g><title>11</title><path stroke-width="2" d="M908,666.29 L909.94,665.1 L909.94,677 M908.16,677 L912.05,677 M920,666.29 L921.94,665.1 L921.94,677 M920.16,677 L924.05,677"/></g>
<g><title>+5V</title><path stroke-width="2" d="M939.3,579.85 L946.43,579.85 M942.86,576.28 L942.86,583.42 M958.91,573.9 L951.14,573.9 L951.14,579.17 L957.29,579.17 L958.91,580.7 L958.91,584.1 L957.29,585.8 L952.43,585.8 L950.81,584.1 M962.81,573.9 L962.81,579.34 L966.86,584.1 L970.91,579.34 L970.91,573.9 M966.86,584.1 L966.86,585.8"/></g>
<g><title>R4</title><path stroke-width="2" d="M939.3,621.3 L939.3,609.4 L945.78,609.4 L947.4,611.1 L947.4,614.5 L945.78,616.03 L939.3,616.03 M941.89,616.03 L947.4,621.3 M957.13,621.3 L957.13,609.4 L951.3,617.22 L959.4,617.22"/></g>
<g><title>390</title><path stroke-width="2" d="M940.5,636.4 L942.12,634.7 L946.98,634.7 L948.6,636.4 L948.6,638.95 L946.98,640.48 L943.74,640.48 M946.98,640.48 L948.6,642.01 L948.6,644.9 L946.98,646.6 L942.12,646.6 L940.5,644.9 M952.5,644.9 L954.12,646.6 L958.98,646.6 L960.6,644.9 L960.6,636.4 L958.98,634.7 L954.12,634.7 L952.5,636.4 L952.5,639.8 L954.12,641.33 L960.6,641.33 M966.12,646.6 L970.98,646.6 L972.6,644.9 L972.6,636.4 L970.98,634.7 L966.12,634.7 L964.5,636.4 L964.5,644.9 L966.12,646.6 M965.47,644.56 L971.63,636.74"/></g>
<g><title>U2</title><path stroke-width="2" d="M829.5,774.8 L829.5,785 L831.12,786.7 L835.98,786.7 L837.6,785 L837.6,774.8 M841.5,776.5 L843.12,774.8 L847.98,774.8 L849.6,776.5 L849.6,779.05 L841.5,782.96 L841.5,786.7 L849.6,786.7"/></g>
<g><title>10</title><path stroke-width="2" d="M773.83,764.79 L775.77,763.6 L775.77,775.5 M773.99,775.5 L777.88,775.5 M785.02,775.5 L789.88,775.5 L791.5,773.8 L791.5,765.3 L789.88,763.6 L785.02,763.6 L783.4,765.3 L783.4,773.8 L785.02,775.5 M784.37,773.46 L790.53,765.64"/></g>
<g><title>9</title><path stroke-width="2" d="M782.3,811.8 L783.92,813.5 L788.78,813.5 L790.4,811.8 L790.4,803.3 L788.78,801.6 L783.92,801.6 L782.3,803.3 L782.3,806.7 L783.92,808.23 L790.4,808.23"/></g>
<g><title>8</title><path stroke-width="2" d="M912.22,789.08 L910.6,787.55 L910.6,785 L912.22,783.3 L917.08,783.3 L918.7,785 L918.7,787.55 L917.08,789.08 L912.22,789.08 L910.6,790.61 L910.6,793.5 L912.22,795.2 L917.08,795.2 L918.7,793.5 L918.7,790.61 L917.08,789.08"/></g>
<g><title>C4</title><path stroke-width="2" d="M958.1,741.1 L956.48,739.4 L951.62,739.4 L950,741.1 L950,749.6 L951.62,751.3 L956.48,751.3 L958.1,749.6 M967.83,751.3 L967.83,739.4 L962,747.22 L970.1,747.22"/></g>
<g><title>47n</title><path stroke-width="2" d="M946.13,822.2 L946.13,810.3 L940.3,818.12 L948.4,818.12 M952.3,812.68 L952.3,810.3 L960.4,810.3 L960.4,812.68 L954.41,818.8 L954.41,822.2 M964.3,814.38 L964.3,822.2 M964.3,817.51 L967.54,814.38 L970.78,814.38 L972.4,815.94 L972.4,822.2"/></g>
<g><title>R8</title><path stroke-width="2" d="M969.7,861.5 L969.7,849.6 L976.18,849.6 L977.8,851.3 L977.8,854.7 L976.18,856.23 L969.7,856.23 M972.29,856.23 L977.8,861.5 M983.32,855.38 L981.7,853.85 L981.7,851.3 L983.32,849.6 L988.18,849.6 L989.8,851.3 L989.8,853.85 L988.18,855.38 L983.32,855.38 L981.7,856.91 L981.7,859.8 L983.32,861.5 L988.18,861.5 L989.8,859.8 L989.8,856.91 L988.18,855.38"/></g>
<g><title>270</title><path stroke-width="2" d="M969.7,881.9 L971.32,880.2 L976.18,880.2 L977.8,881.9 L977.8,884.45 L969.7,888.36 L969.7,892.1 L977.8,892.1 M981.7,882.58 L981.7,880.2 L989.8,880.2 L989.8,882.58 L983.81,888.7 L983.81,892.1 M995.32,892.1 L1000.18,892.1 L1001.8,890.4 L1001.8,881.9 L1000.18,880.2 L995.32,880.2 L993.7,881.9 L993.7,890.4 L995.32,892.1 M994.67,890.06 L1000.83,882.24"/></g>
<g><title>U3</title><path stroke-width="2" d="M1109.8,331 L1109.8,341.2 L1111.42,342.9 L1116.28,342.9 L1117.9,341.2 L1117.9,331 M1121.8,332.7 L1123.42,331 L1128.28,331 L1129.9,332.7 L1129.9,335.25 L1128.28,336.78 L1125.04,336.78 M1128.28,336.78 L1129.9,338.31 L1129.9,341.2 L1128.28,342.9 L1123.42,342.9 L1121.8,341.2"/></g>
<g><title>12</title><path stroke-width="2" d="M1086.73,375.39 L1088.67,374.2 L1088.67,386.1 M1086.89,386.1 L1090.78,386.1 M1096.3,375.9 L1097.92,374.2 L1102.78,374.2 L1104.4,375.9 L1104.4,378.45 L1096.3,382.36 L1096.3,386.1 L1104.4,386.1"/></g>
<g><title>11</title><path stroke-width="2" d="M1087.65,414.79 L1089.59,413.6 L1089.59,425.5 M1087.81,425.5 L1091.7,425.5 M1099.65,414.79 L1101.59,413.6 L1101.59,425.5 M1099.81,425.5 L1103.7,425.5"/></g>
<g><title>13</title><path stroke-width="2" d="M1086.33,454.79 L1088.27,453.6 L1088.27,465.5 M1086.49,465.5 L1090.38,465.5 M1095.9,455.3 L1097.52,453.6 L1102.38,453.6 L1104,455.3 L1104,457.85 L1102.38,459.38 L1099.14,459.38 M1102.38,459.38 L1104,460.91 L1104,463.8 L1102.38,465.5 L1097.52,465.5 L1095.9,463.8"/></g>
<g><title>10</title><path stroke-width="2" d="M1086.33,495.09 L1088.27,493.9 L1088.27,505.8 M1086.49,505.8 L1090.38,505.8 M1097.52,505.8 L1102.38,505.8 L1104,504.1 L1104,495.6 L1102.38,493.9 L1097.52,493.9 L1095.9,495.6 L1095.9,504.1 L1097.52,505.8 M1096.87,503.76 L1103.03,495.94"/></g>
<g><title>D</title><path stroke-width="2" d="M1120,384.3 L1126.48,384.3 L1128.1,386 L1128.1,394.5 L1126.48,396.2 L1120,396.2 M1121.78,396.2 L1121.78,384.3"/></g>
<g><title>CLK</title><path stroke-width="2" d="M1134.7,425.8 L1133.08,424.1 L1128.22,424.1 L1126.6,425.8 L1126.6,434.3 L1128.22,436 L1133.08,436 L1134.7,434.3 M1138.6,424.1 L1138.6,436 L1146.7,436 M1150.6,436 L1150.6,424.1 M1158.7,424.1 L1150.6,431.58 M1153.35,429.2 L1158.7,436"/></g>
<g><title>/CLR</title><path stroke-width="2" d="M1121.6,474.16 L1128.24,467.7 M1140.89,466 L1139.27,464.3 L1134.41,464.3 L1132.79,466 L1132.79,474.5 L1134.41,476.2 L1139.27,476.2 L1140.89,474.5 M1144.79,464.3 L1144.79,476.2 L1152.89,476.2 M1156.79,476.2 L1156.79,464.3 L1163.27,464.3 L1164.89,466 L1164.89,469.4 L1163.27,470.93 L1156.79,470.93 M1159.38,470.93 L1164.89,476.2"/></g>
<g><title>/PRE</title><path stroke-width="2" d="M1121.6,513.96 L1128.24,507.5 M1132.79,516 L1132.79,504.1 L1139.27,504.1 L1140.89,505.8 L1140.89,509.2 L1139.27,510.73 L1132.79,510.73 M1144.79,516 L1144.79,504.1 L1151.27,504.1 L1152.89,505.8 L1152.89,509.2 L1151.27,510.73 L1144.79,510.73 M1147.38,510.73 L1152.89,516 M1164.89,504.1 L1156.79,504.1 L1156.79,516 L1164.89,516 M1156.79,509.88 L1162.62,509.88"/></g>
<g><title>Q</title><path stroke-width="2" d="M1275.52,396.2 L1280.38,396.2 L1282,394.5 L1282,386 L1280.38,384.3 L1275.52,384.3 L1273.9,386 L1273.9,394.5 L1275.52,396.2 M1278.76,392.8 L1282,396.2"/></g>
<g><title>/Q</title><path stroke-width="2" d="M1262.71,433.96 L1269.35,427.5 M1275.52,436 L1280.38,436 L1282,434.3 L1282,425.8 L1280.38,424.1 L1275.52,424.1 L1273.9,425.8 L1273.9,434.3 L1275.52,436 M1278.76,432.6 L1282,436"/></g>
<g><title>9</title><path stroke-width="2" d="M1297,383.3 L1298.62,385 L1303.48,385 L1305.1,383.3 L1305.1,374.8 L1303.48,373.1 L1298.62,373.1 L1297,374.8 L1297,378.2 L1298.62,379.73 L1305.1,379.73"/></g>
<g><title>8</title><path stroke-width="2" d="M1298.62,419.08 L1297,417.55 L1297,415 L1298.62,413.3 L1303.48,413.3 L1305.1,415 L1305.1,417.55 L1303.48,419.08 L1298.62,419.08 L1297,420.61 L1297,423.5 L1298.62,425.2 L1303.48,425.2 L1305.1,423.5 L1305.1,420.61 L1303.48,419.08"/></g>
<g><title>11</title><path stroke-width="2" d="M1366,416.79 L1367.94,415.6 L1367.94,427.5 M1366.16,427.5 L1370.05,427.5 M1378,416.79 L1379.94,415.6 L1379.94,427.5 M1378.16,427.5 L1382.05,427.5"/></g>
<g><title>U4</title><path stroke-width="2" d="M1398,426.5 L1398,436.7 L1399.62,438.4 L1404.48,438.4 L1406.1,436.7 L1406.1,426.5 M1415.83,438.4 L1415.83,426.5 L1410,434.32 L1418.1,434.32"/></g>
<g><title>10</title><path stroke-width="2" d="M1458,414.79 L1459.94,413.6 L1459.94,425.5 M1458.16,425.5 L1462.05,425.5 M1469.19,425.5 L1474.05,425.5 L1475.67,423.8 L1475.67,415.3 L1474.05,413.6 L1469.19,413.6 L1467.57,415.3 L1467.57,423.8 L1469.19,425.5 M1468.54,423.46 L1474.7,415.64"/></g>
<g><title>U3</title><path stroke-width="2" d="M1120.2,640.5 L1120.2,650.7 L1121.82,652.4 L1126.68,652.4 L1128.3,650.7 L1128.3,640.5 M1132.2,642.2 L1133.82,640.5 L1138.68,640.5 L1140.3,642.2 L1140.3,644.75 L1138.68,646.28 L1135.44,646.28 M1138.68,646.28 L1140.3,647.81 L1140.3,650.7 L1138.68,652.4 L1133.82,652.4 L1132.2,650.7"/></g>
<g><title>14</title><path stroke-width="2" d="M1207.7,641.79 L1209.64,640.6 L1209.64,652.5 M1207.86,652.5 L1211.75,652.5 M1223.1,652.5 L1223.1,640.6 L1217.27,648.42 L1225.37,648.42"/></g>
<g><title>VCC</title><path stroke-width="2" d="M1184,670.2 L1184,675.64 L1188.05,680.4 L1192.1,675.64 L1192.1,670.2 M1188.05,680.4 L1188.05,682.1 M1204.1,671.9 L1202.48,670.2 L1197.62,670.2 L1196,671.9 L1196,680.4 L1197.62,682.1 L1202.48,682.1 L1204.1,680.4 M1216.1,671.9 L1214.48,670.2 L1209.62,670.2 L1208,671.9 L1208,680.4 L1209.62,682.1 L1214.48,682.1 L1216.1,680.4"/></g>
<g><title>GND</title><path stroke-width="2" d="M1192.1,841.7 L1190.48,840 L1185.62,840 L1184,841.7 L1184,850.2 L1185.62,851.9 L1190.48,851.9 L1192.1,850.2 L1192.1,846.12 L1188.21,846.12 M1196,851.9 L1196,840 L1204.1,851.9 L1204.1,840 M1208,840 L1214.48,840 L1216.1,841.7 L1216.1,850.2 L1214.48,851.9 L1208,851.9 M1209.78,851.9 L1209.78,840"/></g>
<g><title>7</title><path stroke-width="2" d="M1203.6,872.38 L1203.6,870 L1211.7,870 L1211.7,872.38 L1205.71,878.5 L1205.71,881.9"/></g>
<g><title>2</title><path stroke-width="2" d="M1095.6,687.1 L1097.22,685.4 L1102.08,685.4 L1103.7,687.1 L1103.7,689.65 L1095.6,693.56 L1095.6,697.3 L1103.7,697.3"/></g>
<g><title>3</title><path stroke-width="2" d="M1095.6,725.9 L1097.22,724.2 L1102.08,724.2 L1103.7,725.9 L1103.7,728.45 L1102.08,729.98 L1098.84,729.98 M1102.08,729.98 L1103.7,731.51 L1103.7,734.4 L1102.08,736.1 L1097.22,736.1 L1095.6,734.4"/></g>
<g><title>1</title><path stroke-width="2" d="M1096.95,765.79 L1098.89,764.6 L1098.89,776.5 M1097.11,776.5 L1101,776.5"/></g>
<g><title>4</title><path stroke-width="2" d="M1101.43,817.1 L1101.43,805.2 L1095.6,813.02 L1103.7,813.02"/></g>
<g><title>D</title><path stroke-width="2" d="M1120,695.7 L1126.48,695.7 L1128.1,697.4 L1128.1,705.9 L1126.48,707.6 L1120,707.6 M1121.78,707.6 L1121.78,695.7"/></g>
<g><title>CLK</title><path stroke-width="2" d="M1134.7,738.2 L1133.08,736.5 L1128.22,736.5 L1126.6,738.2 L1126.6,746.7 L1128.22,748.4 L1133.08,748.4 L1134.7,746.7 M1138.6,736.5 L1138.6,748.4 L1146.7,748.4 M1150.6,748.4 L1150.6,736.5 M1158.7,736.5 L1150.6,743.98 M1153.35,741.6 L1158.7,748.4"/></g>
<g><title>/CLR</title><path stroke-width="2" d="M1121.6,784.76 L1128.24,778.3 M1140.89,776.6 L1139.27,774.9 L1134.41,774.9 L1132.79,776.6 L1132.79,785.1 L1134.41,786.8 L1139.27,786.8 L1140.89,785.1 M1144.79,774.9 L1144.79,786.8 L1152.89,786.8 M1156.79,786.8 L1156.79,774.9 L1163.27,774.9 L1164.89,776.6 L1164.89,780 L1163.27,781.53 L1156.79,781.53 M1159.38,781.53 L1164.89,786.8"/></g>
<g><title>/PRE</title><path stroke-width="2" d="M1121.6,824.96 L1128.24,818.5 M1132.79,827 L1132.79,815.1 L1139.27,815.1 L1140.89,816.8 L1140.89,820.2 L1139.27,821.73 L1132.79,821.73 M1144.79,827 L1144.79,815.1 L1151.27,815.1 L1152.89,816.8 L1152.89,820.2 L1151.27,821.73 L1144.79,821.73 M1147.38,821.73 L1152.89,827 M1164.89,815.1 L1156.79,815.1 L1156.79,827 L1164.89,827 M1156.79,820.88 L1162.62,820.88"/></g>
<g><title>Q</title><path stroke-width="2" d="M1275.52,705.3 L1280.38,705.3 L1282,703.6 L1282,695.1 L1280.38,693.4 L1275.52,693.4 L1273.9,695.1 L1273.9,703.6 L1275.52,705.3 M1278.76,701.9 L1282,705.3"/></g>
<g><title>/Q</title><path stroke-width="2" d="M1262.71,745.56 L1269.35,739.1 M1275.52,747.6 L1280.38,747.6 L1282,745.9 L1282,737.4 L1280.38,735.7 L1275.52,735.7 L1273.9,737.4 L1273.9,745.9 L1275.52,747.6 M1278.76,744.2 L1282,747.6"/></g>
<g><title>5</title><path stroke-width="2" d="M1305.1,684 L1297.32,684 L1297.32,689.27 L1303.48,689.27 L1305.1,690.8 L1305.1,694.2 L1303.48,695.9 L1298.62,695.9 L1297,694.2"/></g>
<g><title>6</title><path stroke-width="2" d="M1305.1,724.9 L1303.48,723.2 L1298.62,723.2 L1297,724.9 L1297,733.4 L1298.62,735.1 L1303.48,735.1 L1305.1,733.4 L1305.1,730 L1303.48,728.47 L1297,728.47"/></g>
<g><title>+5V</title><path stroke-width="2" d="M1209.4,601.15 L1216.53,601.15 M1212.96,597.58 L1212.96,604.72 M1229.01,595.2 L1221.24,595.2 L1221.24,600.47 L1227.39,600.47 L1229.01,602 L1229.01,605.4 L1227.39,607.1 L1222.53,607.1 L1220.91,605.4 M1232.91,595.2 L1232.91,600.64 L1236.96,605.4 L1241.01,600.64 L1241.01,595.2 M1236.96,605.4 L1236.96,607.1"/></g>
<g><title>+5v</title><path stroke-width="2" d="M1310.6,795.05 L1317.73,795.05 M1314.16,791.48 L1314.16,798.62 M1330.21,789.1 L1322.44,789.1 L1322.44,794.37 L1328.59,794.37 L1330.21,795.9 L1330.21,799.3 L1328.59,801 L1323.73,801 L1322.11,799.3 M1334.11,793.18 L1334.11,797.09 L1338.16,801 L1342.21,797.09 L1342.21,793.18"/></g>
<g><title>47n</title><path stroke-width="2" d="M1285.73,897.5 L1285.73,885.6 L1279.9,893.42 L1288,893.42 M1291.9,887.98 L1291.9,885.6 L1300,885.6 L1300,887.98 L1294.01,894.1 L1294.01,897.5 M1303.9,889.68 L1303.9,897.5 M1303.9,892.81 L1307.14,889.68 L1310.38,889.68 L1312,891.24 L1312,897.5"/></g>
<g><title>C5</title><path stroke-width="2" d="M1352.5,887.3 L1350.88,885.6 L1346.02,885.6 L1344.4,887.3 L1344.4,895.8 L1346.02,897.5 L1350.88,897.5 L1352.5,895.8 M1364.5,885.6 L1356.72,885.6 L1356.72,890.87 L1362.88,890.87 L1364.5,892.4 L1364.5,895.8 L1362.88,897.5 L1358.02,897.5 L1356.4,895.8"/></g>
<g><title>+12V</title><path stroke-width="2" d="M1461.3,41.05 L1468.43,41.05 M1464.86,37.48 L1464.86,44.62 M1475.24,36.29 L1477.19,35.1 L1477.19,47 M1475.41,47 L1479.29,47 M1484.81,36.8 L1486.43,35.1 L1491.29,35.1 L1492.91,36.8 L1492.91,39.35 L1484.81,43.26 L1484.81,47 L1492.91,47 M1496.81,35.1 L1496.81,40.54 L1500.86,45.3 L1504.91,40.54 L1504.91,35.1 M1500.86,45.3 L1500.86,47"/></g>
<g><title>D1</title><path stroke-width="2" d="M1526.3,50.2 L1532.78,50.2 L1534.4,51.9 L1534.4,60.4 L1532.78,62.1 L1526.3,62.1 M1528.08,62.1 L1528.08,50.2 M1540.73,51.39 L1542.67,50.2 L1542.67,62.1 M1540.89,62.1 L1544.78,62.1"/></g>
<g><title>KY133</title><path stroke-width="2" d="M1505,82 L1505,70.1 M1513.1,70.1 L1505,77.58 M1507.75,75.2 L1513.1,82 M1517,70.1 L1517,72.48 L1521.05,76.56 L1525.1,72.48 L1525.1,70.1 M1521.05,76.56 L1521.05,82 M1531.43,71.29 L1533.37,70.1 L1533.37,82 M1531.59,82 L1535.48,82 M1541,71.8 L1542.62,70.1 L1547.48,70.1 L1549.1,71.8 L1549.1,74.35 L1547.48,75.88 L1544.24,75.88 M1547.48,75.88 L1549.1,77.41 L1549.1,80.3 L1547.48,82 L1542.62,82 L1541,80.3 M1553,71.8 L1554.62,70.1 L1559.48,70.1 L1561.1,71.8 L1561.1,74.35 L1559.48,75.88 L1556.24,75.88 M1559.48,75.88 L1561.1,77.41 L1561.1,80.3 L1559.48,82 L1554.62,82 L1553,80.3"/></g>
<g><title>+12V-D</title><path stroke-width="2" d="M1561.3,41.05 L1568.43,41.05 M1564.86,37.48 L1564.86,44.62 M1575.24,36.29 L1577.19,35.1 L1577.19,47 M1575.41,47 L1579.29,47 M1584.81,36.8 L1586.43,35.1 L1591.29,35.1 L1592.91,36.8 L1592.91,39.35 L1584.81,43.26 L1584.81,47 L1592.91,47 M1596.81,35.1 L1596.81,40.54 L1600.86,45.3 L1604.91,40.54 L1604.91,35.1 M1600.86,45.3 L1600.86,47 M1609.3,41.22 L1616.43,41.22 M1620.81,35.1 L1627.29,35.1 L1628.91,36.8 L1628.91,45.3 L1627.29,47 L1620.81,47 M1622.6,47 L1622.6,35.1"/></g>
<g><title>C1</title><path stroke-width="2" d="M1628.1,126.9 L1626.48,125.2 L1621.62,125.2 L1620,126.9 L1620,135.4 L1621.62,137.1 L1626.48,137.1 L1628.1,135.4 M1634.43,126.39 L1636.37,125.2 L1636.37,137.1 M1634.59,137.1 L1638.48,137.1"/></g>
<g><title>470uF</title><path stroke-width="2" d="M1530.83,167 L1530.83,155.1 L1525,162.92 L1533.1,162.92 M1537,157.48 L1537,155.1 L1545.1,155.1 L1545.1,157.48 L1539.11,163.6 L1539.11,167 M1550.62,167 L1555.48,167 L1557.1,165.3 L1557.1,156.8 L1555.48,155.1 L1550.62,155.1 L1549,156.8 L1549,165.3 L1550.62,167 M1549.97,164.96 L1556.13,157.14 M1561,159.18 L1561,165.44 L1562.62,167 L1565.86,167 L1569.1,163.87 M1569.1,159.18 L1569.1,167 M1581.1,155.1 L1573,155.1 L1573,167 M1573,160.88 L1578.83,160.88"/></g>
<g><title>/16V</title><path stroke-width="2" d="M1598,164.96 L1604.64,158.5 M1611.62,156.29 L1613.56,155.1 L1613.56,167 M1611.78,167 L1615.67,167 M1629.29,156.8 L1627.67,155.1 L1622.81,155.1 L1621.19,156.8 L1621.19,165.3 L1622.81,167 L1627.67,167 L1629.29,165.3 L1629.29,161.9 L1627.67,160.37 L1621.19,160.37 M1633.19,155.1 L1633.19,160.54 L1637.24,165.3 L1641.29,160.54 L1641.29,155.1 M1637.24,165.3 L1637.24,167"/></g>
<g><title>C2</title><path stroke-width="2" d="M1707.9,116.7 L1706.28,115 L1701.42,115 L1699.8,116.7 L1699.8,125.2 L1701.42,126.9 L1706.28,126.9 L1707.9,125.2 M1711.8,116.7 L1713.42,115 L1718.28,115 L1719.9,116.7 L1719.9,119.25 L1711.8,123.16 L1711.8,126.9 L1719.9,126.9"/></g>
<g><title>100n</title><path stroke-width="2" d="M1692.8,151.19 L1694.74,150 L1694.74,161.9 M1692.96,161.9 L1696.85,161.9 M1703.99,161.9 L1708.85,161.9 L1710.47,160.2 L1710.47,151.7 L1708.85,150 L1703.99,150 L1702.37,151.7 L1702.37,160.2 L1703.99,161.9 M1703.34,159.86 L1709.5,152.04 M1715.99,161.9 L1720.85,161.9 L1722.47,160.2 L1722.47,151.7 L1720.85,150 L1715.99,150 L1714.37,151.7 L1714.37,160.2 L1715.99,161.9 M1715.34,159.86 L1721.5,152.04 M1726.37,154.08 L1726.37,161.9 M1726.37,157.21 L1729.61,154.08 L1732.85,154.08 L1734.47,155.64 L1734.47,161.9"/></g>
<g><title>U6</title><path stroke-width="2" d="M1759.4,50.6 L1759.4,60.8 L1761.02,62.5 L1765.88,62.5 L1767.5,60.8 L1767.5,50.6 M1779.5,52.3 L1777.88,50.6 L1773.02,50.6 L1771.4,52.3 L1771.4,60.8 L1773.02,62.5 L1777.88,62.5 L1779.5,60.8 L1779.5,57.4 L1777.88,55.87 L1771.4,55.87"/></g>
<g><title>In</title><path stroke-width="2" d="M1765,98.3 L1769.86,98.3 M1767.43,98.3 L1767.43,110.2 M1765,110.2 L1769.86,110.2 M1775.38,102.38 L1775.38,110.2 M1775.38,105.51 L1778.62,102.38 L1781.86,102.38 L1783.48,103.94 L1783.48,110.2"/></g>
<g><title>Out</title><path stroke-width="2" d="M1824.82,110.2 L1829.68,110.2 L1831.3,108.5 L1831.3,100 L1829.68,98.3 L1824.82,98.3 L1823.2,100 L1823.2,108.5 L1824.82,110.2 M1835.2,102.38 L1835.2,108.64 L1836.82,110.2 L1840.06,110.2 L1843.3,107.07 M1843.3,102.38 L1843.3,110.2 M1849.47,98.3 L1849.47,108.64 L1851.09,110.2 L1853.68,110.2 L1855.3,108.64 M1847.2,102.38 L1853.36,102.38"/></g>
<g><title>Com</title><path stroke-width="2" d="M1802.9,122 L1801.28,120.3 L1796.42,120.3 L1794.8,122 L1794.8,130.5 L1796.42,132.2 L1801.28,132.2 L1802.9,130.5 M1808.42,132.2 L1813.28,132.2 L1814.9,130.64 L1814.9,125.94 L1813.28,124.38 L1808.42,124.38 L1806.8,125.94 L1806.8,130.64 L1808.42,132.2 M1818.8,124.38 L1818.8,132.2 M1818.8,125.94 L1820.42,124.38 L1821.55,124.38 L1822.85,125.63 L1822.85,132.2 M1822.85,125.63 L1824.15,124.38 L1825.6,124.38 L1826.9,125.63 L1826.9,132.2"/></g>
<g><title>1</title><path stroke-width="2" d="M1750.65,90.09 L1752.59,88.9 L1752.59,100.8 M1750.81,100.8 L1754.7,100.8"/></g>
<g><title>3</title><path stroke-width="2" d="M1864.7,90.6 L1866.32,88.9 L1871.18,88.9 L1872.8,90.6 L1872.8,93.15 L1871.18,94.68 L1867.94,94.68 M1871.18,94.68 L1872.8,96.21 L1872.8,99.1 L1871.18,100.8 L1866.32,100.8 L1864.7,99.1"/></g>
<g><title>2</title><path stroke-width="2" d="M1815,147.3 L1816.62,145.6 L1821.48,145.6 L1823.1,147.3 L1823.1,149.85 L1815,153.76 L1815,157.5 L1823.1,157.5"/></g>
<g><title>+5V</title><path stroke-width="2" d="M1940.7,41.05 L1947.83,41.05 M1944.26,37.48 L1944.26,44.62 M1960.31,35.1 L1952.54,35.1 L1952.54,40.37 L1958.69,40.37 L1960.31,41.9 L1960.31,45.3 L1958.69,47 L1953.83,47 L1952.21,45.3 M1964.21,35.1 L1964.21,40.54 L1968.26,45.3 L1972.31,40.54 L1972.31,35.1 M1968.26,45.3 L1968.26,47"/></g>
<g><title>C3</title><path stroke-width="2" d="M1917.1,116.9 L1915.48,115.2 L1910.62,115.2 L1909,116.9 L1909,125.4 L1910.62,127.1 L1915.48,127.1 L1917.1,125.4 M1921,116.9 L1922.62,115.2 L1927.48,115.2 L1929.1,116.9 L1929.1,119.45 L1927.48,120.98 L1924.24,120.98 M1927.48,120.98 L1929.1,122.51 L1929.1,125.4 L1927.48,127.1 L1922.62,127.1 L1921,125.4"/></g>
<g><title>100n</title><path stroke-width="2" d="M1902.33,151.49 L1904.27,150.3 L1904.27,162.2 M1902.49,162.2 L1906.38,162.2 M1913.52,162.2 L1918.38,162.2 L1920,160.5 L1920,152 L1918.38,150.3 L1913.52,150.3 L1911.9,152 L1911.9,160.5 L1913.52,162.2 M1912.87,160.16 L1919.03,152.34 M1925.52,162.2 L1930.38,162.2 L1932,160.5 L1932,152 L1930.38,150.3 L1925.52,150.3 L1923.9,152 L1923.9,160.5 L1925.52,162.2 M1924.87,160.16 L1931.03,152.34 M1935.9,154.38 L1935.9,162.2 M1935.9,157.51 L1939.14,154.38 L1942.38,154.38 L1944,155.94 L1944,162.2"/></g>
<g><title>LOKALNA SIET</title><path stroke-width="5" d="M1610.3,285.29 L1610.3,315.6 L1630.5,315.6 M1644.34,315.6 L1656.46,315.6 L1660.5,311.27 L1660.5,289.62 L1656.46,285.29 L1644.34,285.29 L1640.3,289.62 L1640.3,311.27 L1644.34,315.6 M1670.3,315.6 L1670.3,285.29 M1690.5,285.29 L1670.3,304.34 M1677.17,298.28 L1690.5,315.6 M1700.3,315.6 L1700.3,293.95 L1708.38,285.29 L1712.42,285.29 L1720.5,293.95 L1720.5,315.6 M1700.3,304.34 L1720.5,304.34 M1730.3,285.29 L1730.3,315.6 L1750.5,315.6 M1760.3,315.6 L1760.3,285.29 L1780.5,315.6 L1780.5,285.29 M1790.3,315.6 L1790.3,293.95 L1798.38,285.29 L1802.42,285.29 L1810.5,293.95 L1810.5,315.6 M1790.3,304.34 L1810.5,304.34 M1870.5,289.62 L1866.46,285.29 L1854.34,285.29 L1850.3,289.62 L1850.3,296.12 L1854.34,300.01 L1866.46,300.01 L1870.5,303.91 L1870.5,311.27 L1866.46,315.6 L1854.34,315.6 L1850.3,311.27 M1884.34,285.29 L1896.46,285.29 M1890.4,285.29 L1890.4,315.6 M1884.34,315.6 L1896.46,315.6 M1930.5,285.29 L1910.3,285.29 L1910.3,315.6 L1930.5,315.6 M1910.3,300.01 L1924.84,300.01 M1940.3,285.29 L1960.5,285.29 M1950.4,285.29 L1950.4,315.6"/></g>
<g><title>PMD 70 - SLAVE</title><path stroke-width="5" d="M1580.4,380.7 L1580.4,350.39 L1596.56,350.39 L1600.6,354.72 L1600.6,361.21 L1596.56,365.54 L1580.4,365.54 M1610.4,380.7 L1610.4,350.39 L1620.5,360.78 L1630.6,350.39 L1630.6,380.7 M1620.5,360.78 L1620.5,365.11 M1640.4,350.39 L1656.56,350.39 L1660.6,354.72 L1660.6,376.37 L1656.56,380.7 L1640.4,380.7 M1644.84,380.7 L1644.84,350.39 M1700.4,356.45 L1700.4,350.39 L1720.6,350.39 L1720.6,356.45 L1705.65,372.04 L1705.65,380.7 M1734.44,380.7 L1746.56,380.7 L1750.6,376.37 L1750.6,354.72 L1746.56,350.39 L1734.44,350.39 L1730.4,354.72 L1730.4,376.37 L1734.44,380.7 M1732.82,375.5 L1748.18,355.59 M1791.61,365.98 L1809.39,365.98 M1870.6,354.72 L1866.56,350.39 L1854.44,350.39 L1850.4,354.72 L1850.4,361.21 L1854.44,365.11 L1866.56,365.11 L1870.6,369.01 L1870.6,376.37 L1866.56,380.7 L1854.44,380.7 L1850.4,376.37 M1880.4,350.39 L1880.4,380.7 L1900.6,380.7 M1910.4,380.7 L1910.4,359.05 L1918.48,350.39 L1922.52,350.39 L1930.6,359.05 L1930.6,380.7 M1910.4,369.44 L1930.6,369.44 M1940.4,350.39 L1940.4,364.25 L1950.5,376.37 L1960.6,364.25 L1960.6,350.39 M1950.5,376.37 L1950.5,380.7 M1990.6,350.39 L1970.4,350.39 L1970.4,380.7 L1990.6,380.7 M1970.4,365.11 L1984.94,365.11"/></g>
<g><title>prislusenstvo k PMD 85</title><path stroke-width="3" d="M1565.4,438.03 L1565.4,417.67 L1575.96,417.67 L1578.6,420.23 L1578.6,427.93 L1575.96,430.5 L1570.68,430.5 L1565.4,425.37 M1585.4,417.67 L1585.4,430.5 M1585.4,424.34 L1592.26,417.67 L1594.64,417.67 L1598.6,421.52 M1608.83,417.67 L1612.26,417.67 L1612.26,430.5 M1608.3,430.5 L1615.96,430.5 M1612.26,413.31 L1612.26,410.97 M1638.6,418.69 L1637.54,417.67 L1628.83,417.67 L1625.4,420.49 L1625.4,421 L1628.83,423.83 L1635.17,423.83 L1638.6,426.91 L1638.6,427.42 L1635.17,430.5 L1626.46,430.5 L1625.4,429.47 M1648.57,410.97 L1652.26,410.97 L1652.26,430.5 M1648.3,430.5 L1655.96,430.5 M1665.4,417.67 L1665.4,427.93 L1668.04,430.5 L1673.32,430.5 L1678.6,425.37 M1678.6,417.67 L1678.6,430.5 M1698.6,418.69 L1697.54,417.67 L1688.83,417.67 L1685.4,420.49 L1685.4,421 L1688.83,423.83 L1695.17,423.83 L1698.6,426.91 L1698.6,427.42 L1695.17,430.5 L1686.46,430.5 L1685.4,429.47 M1705.4,424.08 L1718.6,424.08 L1718.6,420.23 L1715.96,417.67 L1708.04,417.67 L1705.4,420.23 L1705.4,427.93 L1708.04,430.5 L1717.54,430.5 M1725.4,417.67 L1725.4,430.5 M1725.4,422.8 L1730.68,417.67 L1735.96,417.67 L1738.6,420.23 L1738.6,430.5 M1758.6,418.69 L1757.54,417.67 L1748.83,417.67 L1745.4,420.49 L1745.4,421 L1748.83,423.83 L1755.17,423.83 L1758.6,426.91 L1758.6,427.42 L1755.17,430.5 L1746.46,430.5 L1745.4,429.47 M1769.1,410.97 L1769.1,427.93 L1771.74,430.5 L1775.96,430.5 L1778.6,427.93 M1765.4,417.67 L1775.43,417.67 M1785.4,417.67 L1785.4,424.08 L1792,430.5 L1798.6,424.08 L1798.6,417.67 M1808.04,430.5 L1815.96,430.5 L1818.6,427.93 L1818.6,420.23 L1815.96,417.67 L1808.04,417.67 L1805.4,420.23 L1805.4,427.93 L1808.04,430.5 M1845.4,410.97 L1848.04,410.97 L1848.04,430.5 M1857.54,417.67 L1848.04,425.11 M1851.47,422.54 L1858.07,430.5 M1885.4,430.5 L1885.4,410.97 L1895.96,410.97 L1898.6,413.76 L1898.6,419.34 L1895.96,421.85 L1885.4,421.85 M1905.4,430.5 L1905.4,410.97 L1912,417.67 L1918.6,410.97 L1918.6,430.5 M1912,417.67 L1912,420.46 M1925.4,410.97 L1935.96,410.97 L1938.6,413.76 L1938.6,427.71 L1935.96,430.5 L1925.4,430.5 M1928.3,430.5 L1928.3,410.97 M1968.04,420.46 L1965.4,417.94 L1965.4,413.76 L1968.04,410.97 L1975.96,410.97 L1978.6,413.76 L1978.6,417.94 L1975.96,420.46 L1968.04,420.46 L1965.4,422.97 L1965.4,427.71 L1968.04,430.5 L1975.96,430.5 L1978.6,427.71 L1978.6,422.97 L1975.96,420.46 M1998.6,410.97 L1985.93,410.97 L1985.93,419.62 L1995.96,419.62 L1998.6,422.13 L1998.6,427.71 L1995.96,430.5 L1988.04,430.5 L1985.4,427.71"/></g>
<g><title>Adresy portov:</title><path stroke-width="2" d="M1564.6,513.5 L1564.6,505 L1567.84,501.6 L1569.46,501.6 L1572.7,505 L1572.7,513.5 M1564.6,509.08 L1572.7,509.08 M1584.7,501.6 L1584.7,513.5 M1584.7,505.68 L1578.22,505.68 L1576.6,507.24 L1576.6,511.94 L1578.22,513.5 L1580.97,513.5 L1584.7,509.9 M1588.6,505.68 L1588.6,513.5 M1588.6,509.75 L1592.81,505.68 L1594.27,505.68 L1596.7,508.03 M1600.6,509.59 L1608.7,509.59 L1608.7,507.24 L1607.08,505.68 L1602.22,505.68 L1600.6,507.24 L1600.6,511.94 L1602.22,513.5 L1608.05,513.5 M1620.7,506.31 L1620.05,505.68 L1614.71,505.68 L1612.6,507.4 L1612.6,507.71 L1614.71,509.43 L1618.59,509.43 L1620.7,511.31 L1620.7,511.62 L1618.59,513.5 L1613.25,513.5 L1612.6,512.87 M1624.6,505.68 L1624.6,511.94 L1626.22,513.5 L1629.46,513.5 L1632.7,510.37 M1632.7,505.68 L1632.7,516.69 L1631.73,518.09 L1625.9,518.09 M1648.6,518.09 L1648.6,505.68 L1655.08,505.68 L1656.7,507.24 L1656.7,511.94 L1655.08,513.5 L1651.84,513.5 L1648.6,510.37 M1662.22,513.5 L1667.08,513.5 L1668.7,511.94 L1668.7,507.24 L1667.08,505.68 L1662.22,505.68 L1660.6,507.24 L1660.6,511.94 L1662.22,513.5 M1672.6,505.68 L1672.6,513.5 M1672.6,509.75 L1676.81,505.68 L1678.27,505.68 L1680.7,508.03 M1686.87,501.6 L1686.87,511.94 L1688.49,513.5 L1691.08,513.5 L1692.7,511.94 M1684.6,505.68 L1690.76,505.68 M1698.22,513.5 L1703.08,513.5 L1704.7,511.94 L1704.7,507.24 L1703.08,505.68 L1698.22,505.68 L1696.6,507.24 L1696.6,511.94 L1698.22,513.5 M1708.6,505.68 L1708.6,509.59 L1712.65,513.5 L1716.7,509.59 L1716.7,505.68 M1723.35,512.48 L1725.14,512.48 L1725.14,510.44 L1723.35,510.44 L1723.35,512.48 L1725.14,510.44 M1723.35,507.38 L1725.14,507.38 L1725.14,505.34 L1723.35,505.34 L1723.35,507.38 L1725.14,505.34"/></g>
<g><title>0DDh - uvolnenie vysielania</title><path stroke-width="2" d="M1566.22,542.6 L1571.08,542.6 L1572.7,540.9 L1572.7,532.4 L1571.08,530.7 L1566.22,530.7 L1564.6,532.4 L1564.6,540.9 L1566.22,542.6 M1565.57,540.56 L1571.73,532.74 M1576.6,530.7 L1583.08,530.7 L1584.7,532.4 L1584.7,540.9 L1583.08,542.6 L1576.6,542.6 M1578.38,542.6 L1578.38,530.7 M1588.6,530.7 L1595.08,530.7 L1596.7,532.4 L1596.7,540.9 L1595.08,542.6 L1588.6,542.6 M1590.38,542.6 L1590.38,530.7 M1600.6,530.7 L1600.6,542.6 M1600.6,537.91 L1603.84,534.78 L1607.08,534.78 L1608.7,536.34 L1608.7,542.6 M1625.09,536.82 L1632.21,536.82 M1648.6,534.78 L1648.6,541.04 L1650.22,542.6 L1653.46,542.6 L1656.7,539.47 M1656.7,534.78 L1656.7,542.6 M1660.6,534.78 L1660.6,538.69 L1664.65,542.6 L1668.7,538.69 L1668.7,534.78 M1674.22,542.6 L1679.08,542.6 L1680.7,541.04 L1680.7,536.34 L1679.08,534.78 L1674.22,534.78 L1672.6,536.34 L1672.6,541.04 L1674.22,542.6 M1686.54,530.7 L1688.81,530.7 L1688.81,542.6 M1686.38,542.6 L1691.08,542.6 M1696.6,534.78 L1696.6,542.6 M1696.6,537.91 L1699.84,534.78 L1703.08,534.78 L1704.7,536.34 L1704.7,542.6 M1708.6,538.69 L1716.7,538.69 L1716.7,536.34 L1715.08,534.78 L1710.22,534.78 L1708.6,536.34 L1708.6,541.04 L1710.22,542.6 L1716.05,542.6 M1720.6,534.78 L1720.6,542.6 M1720.6,537.91 L1723.84,534.78 L1727.08,534.78 L1728.7,536.34 L1728.7,542.6 M1734.71,534.78 L1736.81,534.78 L1736.81,542.6 M1734.38,542.6 L1739.08,542.6 M1736.81,532.13 L1736.81,530.7 M1744.6,538.69 L1752.7,538.69 L1752.7,536.34 L1751.08,534.78 L1746.22,534.78 L1744.6,536.34 L1744.6,541.04 L1746.22,542.6 L1752.05,542.6 M1768.6,534.78 L1768.6,538.69 L1772.65,542.6 L1776.7,538.69 L1776.7,534.78 M1780.6,534.78 L1780.6,541.04 L1782.22,542.6 L1785.46,542.6 L1788.7,539.47 M1788.7,534.78 L1788.7,545.79 L1787.73,547.19 L1781.9,547.19 M1800.7,535.41 L1800.05,534.78 L1794.71,534.78 L1792.6,536.5 L1792.6,536.81 L1794.71,538.53 L1798.59,538.53 L1800.7,540.41 L1800.7,540.72 L1798.59,542.6 L1793.25,542.6 L1792.6,541.97 M1806.71,534.78 L1808.81,534.78 L1808.81,542.6 M1806.38,542.6 L1811.08,542.6 M1808.81,532.13 L1808.81,530.7 M1816.6,538.69 L1824.7,538.69 L1824.7,536.34 L1823.08,534.78 L1818.22,534.78 L1816.6,536.34 L1816.6,541.04 L1818.22,542.6 L1824.05,542.6 M1830.54,530.7 L1832.81,530.7 L1832.81,542.6 M1830.38,542.6 L1835.08,542.6 M1841.57,534.78 L1847.08,534.78 L1848.7,536.34 L1848.7,542.6 L1842.22,542.6 L1840.6,541.04 L1840.6,539.47 L1842.22,537.91 L1848.7,537.91 M1852.6,534.78 L1852.6,542.6 M1852.6,537.91 L1855.84,534.78 L1859.08,534.78 L1860.7,536.34 L1860.7,542.6 M1866.71,534.78 L1868.81,534.78 L1868.81,542.6 M1866.38,542.6 L1871.08,542.6 M1868.81,532.13 L1868.81,530.7 M1877.57,534.78 L1883.08,534.78 L1884.7,536.34 L1884.7,542.6 L1878.22,542.6 L1876.6,541.04 L1876.6,539.47 L1878.22,537.91 L1884.7,537.91"/></g>
<g><title>0DCh - blokovanie vysielania</title><path stroke-width="2" d="M1566.22,562.2 L1571.08,562.2 L1572.7,560.5 L1572.7,552 L1571.08,550.3 L1566.22,550.3 L1564.6,552 L1564.6,560.5 L1566.22,562.2 M1565.57,560.16 L1571.73,552.34 M1576.6,550.3 L1583.08,550.3 L1584.7,552 L1584.7,560.5 L1583.08,562.2 L1576.6,562.2 M1578.38,562.2 L1578.38,550.3 M1596.7,552 L1595.08,550.3 L1590.22,550.3 L1588.6,552 L1588.6,560.5 L1590.22,562.2 L1595.08,562.2 L1596.7,560.5 M1600.6,550.3 L1600.6,562.2 M1600.6,557.51 L1603.84,554.38 L1607.08,554.38 L1608.7,555.94 L1608.7,562.2 M1625.09,556.42 L1632.21,556.42 M1648.6,550.3 L1648.6,562.2 L1655.08,562.2 L1656.7,560.64 L1656.7,555.94 L1655.08,554.38 L1653.46,554.38 L1648.6,559.07 M1662.54,550.3 L1664.81,550.3 L1664.81,562.2 M1662.38,562.2 L1667.08,562.2 M1674.22,562.2 L1679.08,562.2 L1680.7,560.64 L1680.7,555.94 L1679.08,554.38 L1674.22,554.38 L1672.6,555.94 L1672.6,560.64 L1674.22,562.2 M1684.6,550.3 L1686.22,550.3 L1686.22,562.2 M1692.05,554.38 L1686.22,558.92 M1688.33,557.35 L1692.38,562.2 M1698.22,562.2 L1703.08,562.2 L1704.7,560.64 L1704.7,555.94 L1703.08,554.38 L1698.22,554.38 L1696.6,555.94 L1696.6,560.64 L1698.22,562.2 M1708.6,554.38 L1708.6,558.29 L1712.65,562.2 L1716.7,558.29 L1716.7,554.38 M1721.57,554.38 L1727.08,554.38 L1728.7,555.94 L1728.7,562.2 L1722.22,562.2 L1720.6,560.64 L1720.6,559.07 L1722.22,557.51 L1728.7,557.51 M1732.6,554.38 L1732.6,562.2 M1732.6,557.51 L1735.84,554.38 L1739.08,554.38 L1740.7,555.94 L1740.7,562.2 M1746.71,554.38 L1748.81,554.38 L1748.81,562.2 M1746.38,562.2 L1751.08,562.2 M1748.81,551.73 L1748.81,550.3 M1756.6,558.29 L1764.7,558.29 L1764.7,555.94 L1763.08,554.38 L1758.22,554.38 L1756.6,555.94 L1756.6,560.64 L1758.22,562.2 L1764.05,562.2 M1780.6,554.38 L1780.6,558.29 L1784.65,562.2 L1788.7,558.29 L1788.7,554.38 M1792.6,554.38 L1792.6,560.64 L1794.22,562.2 L1797.46,562.2 L1800.7,559.07 M1800.7,554.38 L1800.7,565.39 L1799.73,566.79 L1793.9,566.79 M1812.7,555.01 L1812.05,554.38 L1806.71,554.38 L1804.6,556.1 L1804.6,556.41 L1806.71,558.13 L1810.59,558.13 L1812.7,560.01 L1812.7,560.32 L1810.59,562.2 L1805.25,562.2 L1804.6,561.57 M1818.71,554.38 L1820.81,554.38 L1820.81,562.2 M1818.38,562.2 L1823.08,562.2 M1820.81,551.73 L1820.81,550.3 M1828.6,558.29 L1836.7,558.29 L1836.7,555.94 L1835.08,554.38 L1830.22,554.38 L1828.6,555.94 L1828.6,560.64 L1830.22,562.2 L1836.05,562.2 M1842.54,550.3 L1844.81,550.3 L1844.81,562.2 M1842.38,562.2 L1847.08,562.2 M1853.57,554.38 L1859.08,554.38 L1860.7,555.94 L1860.7,562.2 L1854.22,562.2 L1852.6,560.64 L1852.6,559.07 L1854.22,557.51 L1860.7,557.51 M1864.6,554.38 L1864.6,562.2 M1864.6,557.51 L1867.84,554.38 L1871.08,554.38 L1872.7,555.94 L1872.7,562.2 M1878.71,554.38 L1880.81,554.38 L1880.81,562.2 M1878.38,562.2 L1883.08,562.2 M1880.81,551.73 L1880.81,550.3 M1889.57,554.38 L1895.08,554.38 L1896.7,555.94 L1896.7,562.2 L1890.22,562.2 L1888.6,560.64 L1888.6,559.07 L1890.22,557.51 L1896.7,557.51"/></g>
<g><title>8Ch - notifikacia MASTERa</title><path stroke-width="2" d="M1576.02,576.38 L1574.4,574.85 L1574.4,572.3 L1576.02,570.6 L1580.88,570.6 L1582.5,572.3 L1582.5,574.85 L1580.88,576.38 L1576.02,576.38 L1574.4,577.91 L1574.4,580.8 L1576.02,582.5 L1580.88,582.5 L1582.5,580.8 L1582.5,577.91 L1580.88,576.38 M1594.5,572.3 L1592.88,570.6 L1588.02,570.6 L1586.4,572.3 L1586.4,580.8 L1588.02,582.5 L1592.88,582.5 L1594.5,580.8 M1598.4,570.6 L1598.4,582.5 M1598.4,577.81 L1601.64,574.68 L1604.88,574.68 L1606.5,576.24 L1606.5,582.5 M1622.89,576.72 L1630.01,576.72 M1646.4,574.68 L1646.4,582.5 M1646.4,577.81 L1649.64,574.68 L1652.88,574.68 L1654.5,576.24 L1654.5,582.5 M1660.02,582.5 L1664.88,582.5 L1666.5,580.94 L1666.5,576.24 L1664.88,574.68 L1660.02,574.68 L1658.4,576.24 L1658.4,580.94 L1660.02,582.5 M1672.67,570.6 L1672.67,580.94 L1674.29,582.5 L1676.88,582.5 L1678.5,580.94 M1670.4,574.68 L1676.56,574.68 M1684.51,574.68 L1686.61,574.68 L1686.61,582.5 M1684.18,582.5 L1688.88,582.5 M1686.61,572.03 L1686.61,570.6 M1701.85,572.23 L1700.56,570.6 L1698.45,570.6 L1696.99,572.23 L1696.99,582.5 M1694.4,575.46 L1700.88,575.46 M1694.72,582.5 L1699.58,582.5 M1708.51,574.68 L1710.61,574.68 L1710.61,582.5 M1708.18,582.5 L1712.88,582.5 M1710.61,572.03 L1710.61,570.6 M1718.4,570.6 L1720.02,570.6 L1720.02,582.5 M1725.85,574.68 L1720.02,579.22 M1722.13,577.65 L1726.18,582.5 M1731.37,574.68 L1736.88,574.68 L1738.5,576.24 L1738.5,582.5 L1732.02,582.5 L1730.4,580.94 L1730.4,579.37 L1732.02,577.81 L1738.5,577.81 M1750.5,576.24 L1748.88,574.68 L1744.02,574.68 L1742.4,576.24 L1742.4,580.94 L1744.02,582.5 L1748.88,582.5 L1750.5,580.94 M1756.51,574.68 L1758.61,574.68 L1758.61,582.5 M1756.18,582.5 L1760.88,582.5 M1758.61,572.03 L1758.61,570.6 M1767.37,574.68 L1772.88,574.68 L1774.5,576.24 L1774.5,582.5 L1768.02,582.5 L1766.4,580.94 L1766.4,579.37 L1768.02,577.81 L1774.5,577.81 M1790.4,582.5 L1790.4,570.6 L1794.45,574.68 L1798.5,570.6 L1798.5,582.5 M1794.45,574.68 L1794.45,576.38 M1802.4,582.5 L1802.4,574 L1805.64,570.6 L1807.26,570.6 L1810.5,574 L1810.5,582.5 M1802.4,578.08 L1810.5,578.08 M1822.5,572.3 L1820.88,570.6 L1816.02,570.6 L1814.4,572.3 L1814.4,574.85 L1816.02,576.38 L1820.88,576.38 L1822.5,577.91 L1822.5,580.8 L1820.88,582.5 L1816.02,582.5 L1814.4,580.8 M1826.4,570.6 L1834.5,570.6 M1830.45,570.6 L1830.45,582.5 M1846.5,570.6 L1838.4,570.6 L1838.4,582.5 L1846.5,582.5 M1838.4,576.38 L1844.23,576.38 M1850.4,582.5 L1850.4,570.6 L1856.88,570.6 L1858.5,572.3 L1858.5,575.7 L1856.88,577.23 L1850.4,577.23 M1852.99,577.23 L1858.5,582.5 M1863.37,574.68 L1868.88,574.68 L1870.5,576.24 L1870.5,582.5 L1864.02,582.5 L1862.4,580.94 L1862.4,579.37 L1864.02,577.81 L1870.5,577.81"/></g>
<g><title>U1 - MH5403</title><path stroke-width="2" d="M1559.5,745.3 L1559.5,755.5 L1561.12,757.2 L1565.98,757.2 L1567.6,755.5 L1567.6,745.3 M1573.93,746.49 L1575.87,745.3 L1575.87,757.2 M1574.09,757.2 L1577.98,757.2 M1595.99,751.42 L1603.11,751.42 M1619.5,757.2 L1619.5,745.3 L1623.55,749.38 L1627.6,745.3 L1627.6,757.2 M1623.55,749.38 L1623.55,751.08 M1631.5,757.2 L1631.5,745.3 M1639.6,757.2 L1639.6,745.3 M1631.5,751.08 L1639.6,751.08 M1651.6,745.3 L1643.82,745.3 L1643.82,750.57 L1649.98,750.57 L1651.6,752.1 L1651.6,755.5 L1649.98,757.2 L1645.12,757.2 L1643.5,755.5 M1661.33,757.2 L1661.33,745.3 L1655.5,753.12 L1663.6,753.12 M1669.12,757.2 L1673.98,757.2 L1675.6,755.5 L1675.6,747 L1673.98,745.3 L1669.12,745.3 L1667.5,747 L1667.5,755.5 L1669.12,757.2 M1668.47,755.16 L1674.63,747.34 M1679.5,747 L1681.12,745.3 L1685.98,745.3 L1687.6,747 L1687.6,749.55 L1685.98,751.08 L1682.74,751.08 M1685.98,751.08 L1687.6,752.61 L1687.6,755.5 L1685.98,757.2 L1681.12,757.2 L1679.5,755.5"/></g>
<g><title>U2 - MH5403</title><path stroke-width="2" d="M1559.5,765.3 L1559.5,775.5 L1561.12,777.2 L1565.98,777.2 L1567.6,775.5 L1567.6,765.3 M1571.5,767 L1573.12,765.3 L1577.98,765.3 L1579.6,767 L1579.6,769.55 L1571.5,773.46 L1571.5,777.2 L1579.6,777.2 M1595.99,771.42 L1603.11,771.42 M1619.5,777.2 L1619.5,765.3 L1623.55,769.38 L1627.6,765.3 L1627.6,777.2 M1623.55,769.38 L1623.55,771.08 M1631.5,777.2 L1631.5,765.3 M1639.6,777.2 L1639.6,765.3 M1631.5,771.08 L1639.6,771.08 M1651.6,765.3 L1643.82,765.3 L1643.82,770.57 L1649.98,770.57 L1651.6,772.1 L1651.6,775.5 L1649.98,777.2 L1645.12,777.2 L1643.5,775.5 M1661.33,777.2 L1661.33,765.3 L1655.5,773.12 L1663.6,773.12 M1669.12,777.2 L1673.98,777.2 L1675.6,775.5 L1675.6,767 L1673.98,765.3 L1669.12,765.3 L1667.5,767 L1667.5,775.5 L1669.12,777.2 M1668.47,775.16 L1674.63,767.34 M1679.5,767 L1681.12,765.3 L1685.98,765.3 L1687.6,767 L1687.6,769.55 L1685.98,771.08 L1682.74,771.08 M1685.98,771.08 L1687.6,772.61 L1687.6,775.5 L1685.98,777.2 L1681.12,777.2 L1679.5,775.5"/></g>
<g><title>U3 - MH7474</title><path stroke-width="2" d="M1559.5,785.3 L1559.5,795.5 L1561.12,797.2 L1565.98,797.2 L1567.6,795.5 L1567.6,785.3 M1571.5,787 L1573.12,785.3 L1577.98,785.3 L1579.6,787 L1579.6,789.55 L1577.98,791.08 L1574.74,791.08 M1577.98,791.08 L1579.6,792.61 L1579.6,795.5 L1577.98,797.2 L1573.12,797.2 L1571.5,795.5 M1595.99,791.42 L1603.11,791.42 M1619.5,797.2 L1619.5,785.3 L1623.55,789.38 L1627.6,785.3 L1627.6,797.2 M1623.55,789.38 L1623.55,791.08 M1631.5,797.2 L1631.5,785.3 M1639.6,797.2 L1639.6,785.3 M1631.5,791.08 L1639.6,791.08 M1643.5,787.68 L1643.5,785.3 L1651.6,785.3 L1651.6,787.68 L1645.61,793.8 L1645.61,797.2 M1661.33,797.2 L1661.33,785.3 L1655.5,793.12 L1663.6,793.12 M1667.5,787.68 L1667.5,785.3 L1675.6,785.3 L1675.6,787.68 L1669.61,793.8 L1669.61,797.2 M1685.33,797.2 L1685.33,785.3 L1679.5,793.12 L1687.6,793.12"/></g>
<g><title>U4 - MH7405</title><path stroke-width="2" d="M1559.5,805.3 L1559.5,815.5 L1561.12,817.2 L1565.98,817.2 L1567.6,815.5 L1567.6,805.3 M1577.33,817.2 L1577.33,805.3 L1571.5,813.12 L1579.6,813.12 M1595.99,811.42 L1603.11,811.42 M1619.5,817.2 L1619.5,805.3 L1623.55,809.38 L1627.6,805.3 L1627.6,817.2 M1623.55,809.38 L1623.55,811.08 M1631.5,817.2 L1631.5,805.3 M1639.6,817.2 L1639.6,805.3 M1631.5,811.08 L1639.6,811.08 M1643.5,807.68 L1643.5,805.3 L1651.6,805.3 L1651.6,807.68 L1645.61,813.8 L1645.61,817.2 M1661.33,817.2 L1661.33,805.3 L1655.5,813.12 L1663.6,813.12 M1669.12,817.2 L1673.98,817.2 L1675.6,815.5 L1675.6,807 L1673.98,805.3 L1669.12,805.3 L1667.5,807 L1667.5,815.5 L1669.12,817.2 M1668.47,815.16 L1674.63,807.34 M1687.6,805.3 L1679.82,805.3 L1679.82,810.57 L1685.98,810.57 L1687.6,812.1 L1687.6,815.5 L1685.98,817.2 L1681.12,817.2 L1679.5,815.5"/></g>
<g><title>U5 - MH7405</title><path stroke-width="2" d="M1559.5,825.3 L1559.5,835.5 L1561.12,837.2 L1565.98,837.2 L1567.6,835.5 L1567.6,825.3 M1579.6,825.3 L1571.82,825.3 L1571.82,830.57 L1577.98,830.57 L1579.6,832.1 L1579.6,835.5 L1577.98,837.2 L1573.12,837.2 L1571.5,835.5 M1595.99,831.42 L1603.11,831.42 M1619.5,837.2 L1619.5,825.3 L1623.55,829.38 L1627.6,825.3 L1627.6,837.2 M1623.55,829.38 L1623.55,831.08 M1631.5,837.2 L1631.5,825.3 M1639.6,837.2 L1639.6,825.3 M1631.5,831.08 L1639.6,831.08 M1643.5,827.68 L1643.5,825.3 L1651.6,825.3 L1651.6,827.68 L1645.61,833.8 L1645.61,837.2 M1661.33,837.2 L1661.33,825.3 L1655.5,833.12 L1663.6,833.12 M1669.12,837.2 L1673.98,837.2 L1675.6,835.5 L1675.6,827 L1673.98,825.3 L1669.12,825.3 L1667.5,827 L1667.5,835.5 L1669.12,837.2 M1668.47,835.16 L1674.63,827.34 M1687.6,825.3 L1679.82,825.3 L1679.82,830.57 L1685.98,830.57 L1687.6,832.1 L1687.6,835.5 L1685.98,837.2 L1681.12,837.2 L1679.5,835.5"/></g>
<g><title>U6 - MA7805</title><path stroke-width="2" d="M1559.5,845.3 L1559.5,855.5 L1561.12,857.2 L1565.98,857.2 L1567.6,855.5 L1567.6,845.3 M1579.6,847 L1577.98,845.3 L1573.12,845.3 L1571.5,847 L1571.5,855.5 L1573.12,857.2 L1577.98,857.2 L1579.6,855.5 L1579.6,852.1 L1577.98,850.57 L1571.5,850.57 M1595.99,851.42 L1603.11,851.42 M1619.5,857.2 L1619.5,845.3 L1623.55,849.38 L1627.6,845.3 L1627.6,857.2 M1623.55,849.38 L1623.55,851.08 M1631.5,857.2 L1631.5,848.7 L1634.74,845.3 L1636.36,845.3 L1639.6,848.7 L1639.6,857.2 M1631.5,852.78 L1639.6,852.78 M1643.5,847.68 L1643.5,845.3 L1651.6,845.3 L1651.6,847.68 L1645.61,853.8 L1645.61,857.2 M1657.12,851.08 L1655.5,849.55 L1655.5,847 L1657.12,845.3 L1661.98,845.3 L1663.6,847 L1663.6,849.55 L1661.98,851.08 L1657.12,851.08 L1655.5,852.61 L1655.5,855.5 L1657.12,857.2 L1661.98,857.2 L1663.6,855.5 L1663.6,852.61 L1661.98,851.08 M1669.12,857.2 L1673.98,857.2 L1675.6,855.5 L1675.6,847 L1673.98,845.3 L1669.12,845.3 L1667.5,847 L1667.5,855.5 L1669.12,857.2 M1668.47,855.16 L1674.63,847.34 M1687.6,845.3 L1679.82,845.3 L1679.82,850.57 L1685.98,850.57 L1687.6,852.1 L1687.6,855.5 L1685.98,857.2 L1681.12,857.2 L1679.5,855.5"/></g>
<g><title>+5V</title><path stroke-width="2" d="M409.7,836.15 L416.83,836.15 M413.26,832.58 L413.26,839.72 M429.31,830.2 L421.54,830.2 L421.54,835.47 L427.69,835.47 L429.31,837 L429.31,840.4 L427.69,842.1 L422.83,842.1 L421.21,840.4 M433.21,830.2 L433.21,835.64 L437.26,840.4 L441.31,835.64 L441.31,830.2 M437.26,840.4 L437.26,842.1"/></g>
<g><title>R5</title><path stroke-width="2" d="M364.8,877.3 L364.8,865.4 L371.28,865.4 L372.9,867.1 L372.9,870.5 L371.28,872.03 L364.8,872.03 M367.39,872.03 L372.9,877.3 M384.9,865.4 L377.12,865.4 L377.12,870.67 L383.28,870.67 L384.9,872.2 L384.9,875.6 L383.28,877.3 L378.42,877.3 L376.8,875.6"/></g>
<g><title>680</title><path stroke-width="2" d="M417.8,867.1 L416.18,865.4 L411.32,865.4 L409.7,867.1 L409.7,875.6 L411.32,877.3 L416.18,877.3 L417.8,875.6 L417.8,872.2 L416.18,870.67 L409.7,870.67 M423.32,871.18 L421.7,869.65 L421.7,867.1 L423.32,865.4 L428.18,865.4 L429.8,867.1 L429.8,869.65 L428.18,871.18 L423.32,871.18 L421.7,872.71 L421.7,875.6 L423.32,877.3 L428.18,877.3 L429.8,875.6 L429.8,872.71 L428.18,871.18 M435.32,877.3 L440.18,877.3 L441.8,875.6 L441.8,867.1 L440.18,865.4 L435.32,865.4 L433.7,867.1 L433.7,875.6 L435.32,877.3 M434.67,875.26 L440.83,867.44"/></g>
<g><title>R6</title><path stroke-width="2" d="M364.8,947.3 L364.8,935.4 L371.28,935.4 L372.9,937.1 L372.9,940.5 L371.28,942.03 L364.8,942.03 M367.39,942.03 L372.9,947.3 M384.9,937.1 L383.28,935.4 L378.42,935.4 L376.8,937.1 L376.8,945.6 L378.42,947.3 L383.28,947.3 L384.9,945.6 L384.9,942.2 L383.28,940.67 L376.8,940.67"/></g>
<g><title>1k5</title><path stroke-width="2" d="M412.2,936.59 L414.14,935.4 L414.14,947.3 M412.36,947.3 L416.25,947.3 M421.77,935.4 L423.39,935.4 L423.39,947.3 M429.22,939.48 L423.39,944.02 M425.5,942.45 L429.55,947.3 M441.87,935.4 L434.09,935.4 L434.09,940.67 L440.25,940.67 L441.87,942.2 L441.87,945.6 L440.25,947.3 L435.39,947.3 L433.77,945.6"/></g>
<g><title>11</title><path stroke-width="2" d="M447.6,911.29 L449.54,910.1 L449.54,922 M447.76,922 L451.65,922 M459.6,911.29 L461.54,910.1 L461.54,922 M459.76,922 L463.65,922"/></g>
<g><title>U5</title><path stroke-width="2" d="M478.5,921 L478.5,931.2 L480.12,932.9 L484.98,932.9 L486.6,931.2 L486.6,921 M498.6,921 L490.82,921 L490.82,926.27 L496.98,926.27 L498.6,927.8 L498.6,931.2 L496.98,932.9 L492.12,932.9 L490.5,931.2"/></g>
<g><title>10</title><path stroke-width="2" d="M538.8,910.29 L540.74,909.1 L540.74,921 M538.96,921 L542.85,921 M549.99,921 L554.85,921 L556.47,919.3 L556.47,910.8 L554.85,909.1 L549.99,909.1 L548.37,910.8 L548.37,919.3 L549.99,921 M549.34,918.96 L555.5,911.14"/></g>
<g><title>+5V</title><path stroke-width="2" d="M579.3,836.15 L586.43,836.15 M582.86,832.58 L582.86,839.72 M598.91,830.2 L591.14,830.2 L591.14,835.47 L597.29,835.47 L598.91,837 L598.91,840.4 L597.29,842.1 L592.43,842.1 L590.81,840.4 M602.81,830.2 L602.81,835.64 L606.86,840.4 L610.91,835.64 L610.91,830.2 M606.86,840.4 L606.86,842.1"/></g>
<g><title>R7</title><path stroke-width="2" d="M534.7,877.3 L534.7,865.4 L541.18,865.4 L542.8,867.1 L542.8,870.5 L541.18,872.03 L534.7,872.03 M537.29,872.03 L542.8,877.3 M546.7,867.78 L546.7,865.4 L554.8,865.4 L554.8,867.78 L548.81,873.9 L548.81,877.3"/></g>
<g><title>1k5</title><path stroke-width="2" d="M582,866.59 L583.94,865.4 L583.94,877.3 M582.16,877.3 L586.05,877.3 M591.57,865.4 L593.19,865.4 L593.19,877.3 M599.02,869.48 L593.19,874.02 M595.3,872.45 L599.35,877.3 M611.67,865.4 L603.89,865.4 L603.89,870.67 L610.05,870.67 L611.67,872.2 L611.67,875.6 L610.05,877.3 L605.19,877.3 L603.57,875.6"/></g>
<g><title>9</title><path stroke-width="2" d="M589.2,919.3 L590.82,921 L595.68,921 L597.3,919.3 L597.3,910.8 L595.68,909.1 L590.82,909.1 L589.2,910.8 L589.2,914.2 L590.82,915.73 L597.3,915.73"/></g>
<g><title>U5</title><path stroke-width="2" d="M619,919.4 L619,929.6 L620.62,931.3 L625.48,931.3 L627.1,929.6 L627.1,919.4 M639.1,919.4 L631.32,919.4 L631.32,924.67 L637.48,924.67 L639.1,926.2 L639.1,929.6 L637.48,931.3 L632.62,931.3 L631,929.6"/></g>
<g><title>8</title><path stroke-width="2" d="M683.92,914.88 L682.3,913.35 L682.3,910.8 L683.92,909.1 L688.78,909.1 L690.4,910.8 L690.4,913.35 L688.78,914.88 L683.92,914.88 L682.3,916.41 L682.3,919.3 L683.92,921 L688.78,921 L690.4,919.3 L690.4,916.41 L688.78,914.88"/></g>
<g><title>13</title><path stroke-width="2" d="M935.5,990.79 L937.44,989.6 L937.44,1001.5 M935.66,1001.5 L939.55,1001.5 M945.07,991.3 L946.69,989.6 L951.55,989.6 L953.17,991.3 L953.17,993.85 L951.55,995.38 L948.31,995.38 M951.55,995.38 L953.17,996.91 L953.17,999.8 L951.55,1001.5 L946.69,1001.5 L945.07,999.8"/></g>
<g><title>U5</title><path stroke-width="2" d="M970.8,999.8 L970.8,1010 L972.42,1011.7 L977.28,1011.7 L978.9,1010 L978.9,999.8 M990.9,999.8 L983.12,999.8 L983.12,1005.07 L989.28,1005.07 L990.9,1006.6 L990.9,1010 L989.28,1011.7 L984.42,1011.7 L982.8,1010"/></g>
<g><title>12</title><path stroke-width="2" d="M1028.2,989.79 L1030.14,988.6 L1030.14,1000.5 M1028.36,1000.5 L1032.25,1000.5 M1037.77,990.3 L1039.39,988.6 L1044.25,988.6 L1045.87,990.3 L1045.87,992.85 L1037.77,996.76 L1037.77,1000.5 L1045.87,1000.5"/></g>
<g><title>notifikacia MASTERa</title><path stroke-width="2" d="M1130,988.18 L1130,996 M1130,991.31 L1133.24,988.18 L1136.48,988.18 L1138.1,989.74 L1138.1,996 M1143.62,996 L1148.48,996 L1150.1,994.44 L1150.1,989.74 L1148.48,988.18 L1143.62,988.18 L1142,989.74 L1142,994.44 L1143.62,996 M1156.27,984.1 L1156.27,994.44 L1157.89,996 L1160.48,996 L1162.1,994.44 M1154,988.18 L1160.16,988.18 M1168.11,988.18 L1170.21,988.18 L1170.21,996 M1167.78,996 L1172.48,996 M1170.21,985.53 L1170.21,984.1 M1185.45,985.73 L1184.16,984.1 L1182.05,984.1 L1180.59,985.73 L1180.59,996 M1178,988.96 L1184.48,988.96 M1178.32,996 L1183.18,996 M1192.11,988.18 L1194.21,988.18 L1194.21,996 M1191.78,996 L1196.48,996 M1194.21,985.53 L1194.21,984.1 M1202,984.1 L1203.62,984.1 L1203.62,996 M1209.45,988.18 L1203.62,992.72 M1205.73,991.15 L1209.78,996 M1214.97,988.18 L1220.48,988.18 L1222.1,989.74 L1222.1,996 L1215.62,996 L1214,994.44 L1214,992.87 L1215.62,991.31 L1222.1,991.31 M1234.1,989.74 L1232.48,988.18 L1227.62,988.18 L1226,989.74 L1226,994.44 L1227.62,996 L1232.48,996 L1234.1,994.44 M1240.11,988.18 L1242.21,988.18 L1242.21,996 M1239.78,996 L1244.48,996 M1242.21,985.53 L1242.21,984.1 M1250.97,988.18 L1256.48,988.18 L1258.1,989.74 L1258.1,996 L1251.62,996 L1250,994.44 L1250,992.87 L1251.62,991.31 L1258.1,991.31 M1274,996 L1274,984.1 L1278.05,988.18 L1282.1,984.1 L1282.1,996 M1278.05,988.18 L1278.05,989.88 M1286,996 L1286,987.5 L1289.24,984.1 L1290.86,984.1 L1294.1,987.5 L1294.1,996 M1286,991.58 L1294.1,991.58 M1306.1,985.8 L1304.48,984.1 L1299.62,984.1 L1298,985.8 L1298,988.35 L1299.62,989.88 L1304.48,989.88 L1306.1,991.41 L1306.1,994.3 L1304.48,996 L1299.62,996 L1298,994.3 M1310,984.1 L1318.1,984.1 M1314.05,984.1 L1314.05,996 M1330.1,984.1 L1322,984.1 L1322,996 L1330.1,996 M1322,989.88 L1327.83,989.88 M1334,996 L1334,984.1 L1340.48,984.1 L1342.1,985.8 L1342.1,989.2 L1340.48,990.73 L1334,990.73 M1336.59,990.73 L1342.1,996 M1346.97,988.18 L1352.48,988.18 L1354.1,989.74 L1354.1,996 L1347.62,996 L1346,994.44 L1346,992.87 L1347.62,991.31 L1354.1,991.31"/></g>
<g><title>oslovenie od MASTERa do nasle dujuceho SLAVE</title><path stroke-width="2" d="M1131.62,1041.5 L1136.48,1041.5 L1138.1,1039.94 L1138.1,1035.24 L1136.48,1033.68 L1131.62,1033.68 L1130,1035.24 L1130,1039.94 L1131.62,1041.5 M1150.1,1034.31 L1149.45,1033.68 L1144.11,1033.68 L1142,1035.4 L1142,1035.71 L1144.11,1037.43 L1147.99,1037.43 L1150.1,1039.31 L1150.1,1039.62 L1147.99,1041.5 L1142.65,1041.5 L1142,1040.87 M1155.94,1029.6 L1158.21,1029.6 L1158.21,1041.5 M1155.78,1041.5 L1160.48,1041.5 M1167.62,1041.5 L1172.48,1041.5 L1174.1,1039.94 L1174.1,1035.24 L1172.48,1033.68 L1167.62,1033.68 L1166,1035.24 L1166,1039.94 L1167.62,1041.5 M1178,1033.68 L1178,1037.59 L1182.05,1041.5 L1186.1,1037.59 L1186.1,1033.68 M1190,1037.59 L1198.1,1037.59 L1198.1,1035.24 L1196.48,1033.68 L1191.62,1033.68 L1190,1035.24 L1190,1039.94 L1191.62,1041.5 L1197.45,1041.5 M1202,1033.68 L1202,1041.5 M1202,1036.81 L1205.24,1033.68 L1208.48,1033.68 L1210.1,1035.24 L1210.1,1041.5 M1216.11,1033.68 L1218.21,1033.68 L1218.21,1041.5 M1215.78,1041.5 L1220.48,1041.5 M1218.21,1031.03 L1218.21,1029.6 M1226,1037.59 L1234.1,1037.59 L1234.1,1035.24 L1232.48,1033.68 L1227.62,1033.68 L1226,1035.24 L1226,1039.94 L1227.62,1041.5 L1233.45,1041.5 M1251.62,1041.5 L1256.48,1041.5 L1258.1,1039.94 L1258.1,1035.24 L1256.48,1033.68 L1251.62,1033.68 L1250,1035.24 L1250,1039.94 L1251.62,1041.5 M1270.1,1029.6 L1270.1,1041.5 M1270.1,1033.68 L1263.62,1033.68 L1262,1035.24 L1262,1039.94 L1263.62,1041.5 L1266.37,1041.5 L1270.1,1037.9 M1286,1041.5 L1286,1029.6 L1290.05,1033.68 L1294.1,1029.6 L1294.1,1041.5 M1290.05,1033.68 L1290.05,1035.38 M1298,1041.5 L1298,1033 L1301.24,1029.6 L1302.86,1029.6 L1306.1,1033 L1306.1,1041.5 M1298,1037.08 L1306.1,1037.08 M1318.1,1031.3 L1316.48,1029.6 L1311.62,1029.6 L1310,1031.3 L1310,1033.85 L1311.62,1035.38 L1316.48,1035.38 L1318.1,1036.91 L1318.1,1039.8 L1316.48,1041.5 L1311.62,1041.5 L1310,1039.8 M1322,1029.6 L1330.1,1029.6 M1326.05,1029.6 L1326.05,1041.5 M1342.1,1029.6 L1334,1029.6 L1334,1041.5 L1342.1,1041.5 M1334,1035.38 L1339.83,1035.38 M1346,1041.5 L1346,1029.6 L1352.48,1029.6 L1354.1,1031.3 L1354.1,1034.7 L1352.48,1036.23 L1346,1036.23 M1348.59,1036.23 L1354.1,1041.5 M1358.97,1033.68 L1364.48,1033.68 L1366.1,1035.24 L1366.1,1041.5 L1359.62,1041.5 L1358,1039.94 L1358,1038.37 L1359.62,1036.81 L1366.1,1036.81 M1390.1,1029.6 L1390.1,1041.5 M1390.1,1033.68 L1383.62,1033.68 L1382,1035.24 L1382,1039.94 L1383.62,1041.5 L1386.37,1041.5 L1390.1,1037.9 M1395.62,1041.5 L1400.48,1041.5 L1402.1,1039.94 L1402.1,1035.24 L1400.48,1033.68 L1395.62,1033.68 L1394,1035.24 L1394,1039.94 L1395.62,1041.5 M1418,1033.68 L1418,1041.5 M1418,1036.81 L1421.24,1033.68 L1424.48,1033.68 L1426.1,1035.24 L1426.1,1041.5 M1430.97,1033.68 L1436.48,1033.68 L1438.1,1035.24 L1438.1,1041.5 L1431.62,1041.5 L1430,1039.94 L1430,1038.37 L1431.62,1036.81 L1438.1,1036.81 M1450.1,1034.31 L1449.45,1033.68 L1444.11,1033.68 L1442,1035.4 L1442,1035.71 L1444.11,1037.43 L1447.99,1037.43 L1450.1,1039.31 L1450.1,1039.62 L1447.99,1041.5 L1442.65,1041.5 L1442,1040.87 M1455.94,1029.6 L1458.21,1029.6 L1458.21,1041.5 M1455.78,1041.5 L1460.48,1041.5 M1466,1037.59 L1474.1,1037.59 L1474.1,1035.24 L1472.48,1033.68 L1467.62,1033.68 L1466,1035.24 L1466,1039.94 L1467.62,1041.5 L1473.45,1041.5 M1498.1,1029.6 L1498.1,1041.5 M1498.1,1033.68 L1491.62,1033.68 L1490,1035.24 L1490,1039.94 L1491.62,1041.5 L1494.37,1041.5 L1498.1,1037.9 M1502,1033.68 L1502,1039.94 L1503.62,1041.5 L1506.86,1041.5 L1510.1,1038.37 M1510.1,1033.68 L1510.1,1041.5 M1516.92,1033.68 L1519.83,1033.68 L1519.83,1044.29 L1518.37,1046.09 L1515.3,1046.09 M1519.83,1031.03 L1519.83,1029.6 M1526,1033.68 L1526,1039.94 L1527.62,1041.5 L1530.86,1041.5 L1534.1,1038.37 M1534.1,1033.68 L1534.1,1041.5 M1546.1,1035.24 L1544.48,1033.68 L1539.62,1033.68 L1538,1035.24 L1538,1039.94 L1539.62,1041.5 L1544.48,1041.5 L1546.1,1039.94 M1550,1037.59 L1558.1,1037.59 L1558.1,1035.24 L1556.48,1033.68 L1551.62,1033.68 L1550,1035.24 L1550,1039.94 L1551.62,1041.5 L1557.45,1041.5 M1562,1029.6 L1562,1041.5 M1562,1036.81 L1565.24,1033.68 L1568.48,1033.68 L1570.1,1035.24 L1570.1,1041.5 M1575.62,1041.5 L1580.48,1041.5 L1582.1,1039.94 L1582.1,1035.24 L1580.48,1033.68 L1575.62,1033.68 L1574,1035.24 L1574,1039.94 L1575.62,1041.5 M1606.1,1031.3 L1604.48,1029.6 L1599.62,1029.6 L1598,1031.3 L1598,1033.85 L1599.62,1035.38 L1604.48,1035.38 L1606.1,1036.91 L1606.1,1039.8 L1604.48,1041.5 L1599.62,1041.5 L1598,1039.8 M1610,1029.6 L1610,1041.5 L1618.1,1041.5 M1622,1041.5 L1622,1033 L1625.24,1029.6 L1626.86,1029.6 L1630.1,1033 L1630.1,1041.5 M1622,1037.08 L1630.1,1037.08 M1634,1029.6 L1634,1035.04 L1638.05,1039.8 L1642.1,1035.04 L1642.1,1029.6 M1638.05,1039.8 L1638.05,1041.5 M1654.1,1029.6 L1646,1029.6 L1646,1041.5 L1654.1,1041.5 M1646,1035.38 L1651.83,1035.38"/></g>
<g><title>oslovenie od MASTERa</title><path stroke-width="2" d="M1131.62,1086.5 L1136.48,1086.5 L1138.1,1084.94 L1138.1,1080.24 L1136.48,1078.68 L1131.62,1078.68 L1130,1080.24 L1130,1084.94 L1131.62,1086.5 M1150.1,1079.31 L1149.45,1078.68 L1144.11,1078.68 L1142,1080.4 L1142,1080.71 L1144.11,1082.43 L1147.99,1082.43 L1150.1,1084.31 L1150.1,1084.62 L1147.99,1086.5 L1142.65,1086.5 L1142,1085.87 M1155.94,1074.6 L1158.21,1074.6 L1158.21,1086.5 M1155.78,1086.5 L1160.48,1086.5 M1167.62,1086.5 L1172.48,1086.5 L1174.1,1084.94 L1174.1,1080.24 L1172.48,1078.68 L1167.62,1078.68 L1166,1080.24 L1166,1084.94 L1167.62,1086.5 M1178,1078.68 L1178,1082.59 L1182.05,1086.5 L1186.1,1082.59 L1186.1,1078.68 M1190,1082.59 L1198.1,1082.59 L1198.1,1080.24 L1196.48,1078.68 L1191.62,1078.68 L1190,1080.24 L1190,1084.94 L1191.62,1086.5 L1197.45,1086.5 M1202,1078.68 L1202,1086.5 M1202,1081.81 L1205.24,1078.68 L1208.48,1078.68 L1210.1,1080.24 L1210.1,1086.5 M1216.11,1078.68 L1218.21,1078.68 L1218.21,1086.5 M1215.78,1086.5 L1220.48,1086.5 M1218.21,1076.03 L1218.21,1074.6 M1226,1082.59 L1234.1,1082.59 L1234.1,1080.24 L1232.48,1078.68 L1227.62,1078.68 L1226,1080.24 L1226,1084.94 L1227.62,1086.5 L1233.45,1086.5 M1251.62,1086.5 L1256.48,1086.5 L1258.1,1084.94 L1258.1,1080.24 L1256.48,1078.68 L1251.62,1078.68 L1250,1080.24 L1250,1084.94 L1251.62,1086.5 M1270.1,1074.6 L1270.1,1086.5 M1270.1,1078.68 L1263.62,1078.68 L1262,1080.24 L1262,1084.94 L1263.62,1086.5 L1266.37,1086.5 L1270.1,1082.9 M1286,1086.5 L1286,1074.6 L1290.05,1078.68 L1294.1,1074.6 L1294.1,1086.5 M1290.05,1078.68 L1290.05,1080.38 M1298,1086.5 L1298,1078 L1301.24,1074.6 L1302.86,1074.6 L1306.1,1078 L1306.1,1086.5 M1298,1082.08 L1306.1,1082.08 M1318.1,1076.3 L1316.48,1074.6 L1311.62,1074.6 L1310,1076.3 L1310,1078.85 L1311.62,1080.38 L1316.48,1080.38 L1318.1,1081.91 L1318.1,1084.8 L1316.48,1086.5 L1311.62,1086.5 L1310,1084.8 M1322,1074.6 L1330.1,1074.6 M1326.05,1074.6 L1326.05,1086.5 M1342.1,1074.6 L1334,1074.6 L1334,1086.5 L1342.1,1086.5 M1334,1080.38 L1339.83,1080.38 M1346,1086.5 L1346,1074.6 L1352.48,1074.6 L1354.1,1076.3 L1354.1,1079.7 L1352.48,1081.23 L1346,1081.23 M1348.59,1081.23 L1354.1,1086.5 M1358.97,1078.68 L1364.48,1078.68 L1366.1,1080.24 L1366.1,1086.5 L1359.62,1086.5 L1358,1084.94 L1358,1083.37 L1359.62,1081.81 L1366.1,1081.81"/></g>
<g><title>Log. 0 - blokovanie vysielania</title><path stroke-width="2" d="M1070.2,1114.9 L1070.2,1126.8 L1078.3,1126.8 M1083.82,1126.8 L1088.68,1126.8 L1090.3,1125.24 L1090.3,1120.54 L1088.68,1118.98 L1083.82,1118.98 L1082.2,1120.54 L1082.2,1125.24 L1083.82,1126.8 M1102.3,1118.98 L1102.3,1129.99 L1101.33,1131.39 L1095.17,1131.39 M1102.3,1118.98 L1095.82,1118.98 L1094.2,1120.54 L1094.2,1125.24 L1095.82,1126.8 L1099.06,1126.8 L1102.3,1123.67 M1108.95,1126.63 L1110.74,1126.63 L1110.74,1124.59 L1108.95,1124.59 L1108.95,1126.63 L1110.74,1124.59 M1131.82,1126.8 L1136.68,1126.8 L1138.3,1125.1 L1138.3,1116.6 L1136.68,1114.9 L1131.82,1114.9 L1130.2,1116.6 L1130.2,1125.1 L1131.82,1126.8 M1131.17,1124.76 L1137.33,1116.94 M1154.69,1121.02 L1161.81,1121.02 M1178.2,1114.9 L1178.2,1126.8 L1184.68,1126.8 L1186.3,1125.24 L1186.3,1120.54 L1184.68,1118.98 L1183.06,1118.98 L1178.2,1123.67 M1192.14,1114.9 L1194.41,1114.9 L1194.41,1126.8 M1191.98,1126.8 L1196.68,1126.8 M1203.82,1126.8 L1208.68,1126.8 L1210.3,1125.24 L1210.3,1120.54 L1208.68,1118.98 L1203.82,1118.98 L1202.2,1120.54 L1202.2,1125.24 L1203.82,1126.8 M1214.2,1114.9 L1215.82,1114.9 L1215.82,1126.8 M1221.65,1118.98 L1215.82,1123.52 M1217.93,1121.95 L1221.98,1126.8 M1227.82,1126.8 L1232.68,1126.8 L1234.3,1125.24 L1234.3,1120.54 L1232.68,1118.98 L1227.82,1118.98 L1226.2,1120.54 L1226.2,1125.24 L1227.82,1126.8 M1238.2,1118.98 L1238.2,1122.89 L1242.25,1126.8 L1246.3,1122.89 L1246.3,1118.98 M1251.17,1118.98 L1256.68,1118.98 L1258.3,1120.54 L1258.3,1126.8 L1251.82,1126.8 L1250.2,1125.24 L1250.2,1123.67 L1251.82,1122.11 L1258.3,1122.11 M1262.2,1118.98 L1262.2,1126.8 M1262.2,1122.11 L1265.44,1118.98 L1268.68,1118.98 L1270.3,1120.54 L1270.3,1126.8 M1276.31,1118.98 L1278.41,1118.98 L1278.41,1126.8 M1275.98,1126.8 L1280.68,1126.8 M1278.41,1116.33 L1278.41,1114.9 M1286.2,1122.89 L1294.3,1122.89 L1294.3,1120.54 L1292.68,1118.98 L1287.82,1118.98 L1286.2,1120.54 L1286.2,1125.24 L1287.82,1126.8 L1293.65,1126.8 M1310.2,1118.98 L1310.2,1122.89 L1314.25,1126.8 L1318.3,1122.89 L1318.3,1118.98 M1322.2,1118.98 L1322.2,1125.24 L1323.82,1126.8 L1327.06,1126.8 L1330.3,1123.67 M1330.3,1118.98 L1330.3,1129.99 L1329.33,1131.39 L1323.5,1131.39 M1342.3,1119.61 L1341.65,1118.98 L1336.31,1118.98 L1334.2,1120.7 L1334.2,1121.01 L1336.31,1122.73 L1340.19,1122.73 L1342.3,1124.61 L1342.3,1124.92 L1340.19,1126.8 L1334.85,1126.8 L1334.2,1126.17 M1348.31,1118.98 L1350.41,1118.98 L1350.41,1126.8 M1347.98,1126.8 L1352.68,1126.8 M1350.41,1116.33 L1350.41,1114.9 M1358.2,1122.89 L1366.3,1122.89 L1366.3,1120.54 L1364.68,1118.98 L1359.82,1118.98 L1358.2,1120.54 L1358.2,1125.24 L1359.82,1126.8 L1365.65,1126.8 M1372.14,1114.9 L1374.41,1114.9 L1374.41,1126.8 M1371.98,1126.8 L1376.68,1126.8 M1383.17,1118.98 L1388.68,1118.98 L1390.3,1120.54 L1390.3,1126.8 L1383.82,1126.8 L1382.2,1125.24 L1382.2,1123.67 L1383.82,1122.11 L1390.3,1122.11 M1394.2,1118.98 L1394.2,1126.8 M1394.2,1122.11 L1397.44,1118.98 L1400.68,1118.98 L1402.3,1120.54 L1402.3,1126.8 M1408.31,1118.98 L1410.41,1118.98 L1410.41,1126.8 M1407.98,1126.8 L1412.68,1126.8 M1410.41,1116.33 L1410.41,1114.9 M1419.17,1118.98 L1424.68,1118.98 L1426.3,1120.54 L1426.3,1126.8 L1419.82,1126.8 L1418.2,1125.24 L1418.2,1123.67 L1419.82,1122.11 L1426.3,1122.11"/></g>
<g><title>TX</title><path stroke-width="2" d="M1071.3,1164.6 L1079.4,1164.6 M1075.35,1164.6 L1075.35,1176.5 M1083.3,1164.6 L1083.3,1165.96 L1091.4,1175.14 L1091.4,1176.5 M1091.4,1164.6 L1091.4,1165.96 L1083.3,1175.14 L1083.3,1176.5"/></g>
<g><title>RX</title><path stroke-width="2" d="M1074.5,1386.3 L1074.5,1374.4 L1080.98,1374.4 L1082.6,1376.1 L1082.6,1379.5 L1080.98,1381.03 L1074.5,1381.03 M1077.09,1381.03 L1082.6,1386.3 M1086.5,1374.4 L1086.5,1375.76 L1094.6,1384.94 L1094.6,1386.3 M1094.6,1374.4 L1094.6,1375.76 L1086.5,1384.94 L1086.5,1386.3"/></g>
<g><title>RX do nasledujuceho SLAVE</title><path stroke-width="2" d="M1074.5,1451.9 L1074.5,1440 L1080.98,1440 L1082.6,1441.7 L1082.6,1445.1 L1080.98,1446.63 L1074.5,1446.63 M1077.09,1446.63 L1082.6,1451.9 M1086.5,1440 L1086.5,1441.36 L1094.6,1450.54 L1094.6,1451.9 M1094.6,1440 L1094.6,1441.36 L1086.5,1450.54 L1086.5,1451.9 M1118.6,1440 L1118.6,1451.9 M1118.6,1444.08 L1112.12,1444.08 L1110.5,1445.64 L1110.5,1450.34 L1112.12,1451.9 L1114.87,1451.9 L1118.6,1448.3 M1124.12,1451.9 L1128.98,1451.9 L1130.6,1450.34 L1130.6,1445.64 L1128.98,1444.08 L1124.12,1444.08 L1122.5,1445.64 L1122.5,1450.34 L1124.12,1451.9 M1146.5,1444.08 L1146.5,1451.9 M1146.5,1447.21 L1149.74,1444.08 L1152.98,1444.08 L1154.6,1445.64 L1154.6,1451.9 M1159.47,1444.08 L1164.98,1444.08 L1166.6,1445.64 L1166.6,1451.9 L1160.12,1451.9 L1158.5,1450.34 L1158.5,1448.77 L1160.12,1447.21 L1166.6,1447.21 M1178.6,1444.71 L1177.95,1444.08 L1172.61,1444.08 L1170.5,1445.8 L1170.5,1446.11 L1172.61,1447.83 L1176.49,1447.83 L1178.6,1449.71 L1178.6,1450.02 L1176.49,1451.9 L1171.15,1451.9 L1170.5,1451.27 M1184.44,1440 L1186.71,1440 L1186.71,1451.9 M1184.28,1451.9 L1188.98,1451.9 M1194.5,1447.99 L1202.6,1447.99 L1202.6,1445.64 L1200.98,1444.08 L1196.12,1444.08 L1194.5,1445.64 L1194.5,1450.34 L1196.12,1451.9 L1201.95,1451.9 M1214.6,1440 L1214.6,1451.9 M1214.6,1444.08 L1208.12,1444.08 L1206.5,1445.64 L1206.5,1450.34 L1208.12,1451.9 L1210.87,1451.9 L1214.6,1448.3 M1218.5,1444.08 L1218.5,1450.34 L1220.12,1451.9 L1223.36,1451.9 L1226.6,1448.77 M1226.6,1444.08 L1226.6,1451.9 M1233.42,1444.08 L1236.33,1444.08 L1236.33,1454.69 L1234.87,1456.49 L1231.8,1456.49 M1236.33,1441.43 L1236.33,1440 M1242.5,1444.08 L1242.5,1450.34 L1244.12,1451.9 L1247.36,1451.9 L1250.6,1448.77 M1250.6,1444.08 L1250.6,1451.9 M1262.6,1445.64 L1260.98,1444.08 L1256.12,1444.08 L1254.5,1445.64 L1254.5,1450.34 L1256.12,1451.9 L1260.98,1451.9 L1262.6,1450.34 M1266.5,1447.99 L1274.6,1447.99 L1274.6,1445.64 L1272.98,1444.08 L1268.12,1444.08 L1266.5,1445.64 L1266.5,1450.34 L1268.12,1451.9 L1273.95,1451.9 M1278.5,1440 L1278.5,1451.9 M1278.5,1447.21 L1281.74,1444.08 L1284.98,1444.08 L1286.6,1445.64 L1286.6,1451.9 M1292.12,1451.9 L1296.98,1451.9 L1298.6,1450.34 L1298.6,1445.64 L1296.98,1444.08 L1292.12,1444.08 L1290.5,1445.64 L1290.5,1450.34 L1292.12,1451.9 M1322.6,1441.7 L1320.98,1440 L1316.12,1440 L1314.5,1441.7 L1314.5,1444.25 L1316.12,1445.78 L1320.98,1445.78 L1322.6,1447.31 L1322.6,1450.2 L1320.98,1451.9 L1316.12,1451.9 L1314.5,1450.2 M1326.5,1440 L1326.5,1451.9 L1334.6,1451.9 M1338.5,1451.9 L1338.5,1443.4 L1341.74,1440 L1343.36,1440 L1346.6,1443.4 L1346.6,1451.9 M1338.5,1447.48 L1346.6,1447.48 M1350.5,1440 L1350.5,1445.44 L1354.55,1450.2 L1358.6,1445.44 L1358.6,1440 M1354.55,1450.2 L1354.55,1451.9 M1370.6,1440 L1362.5,1440 L1362.5,1451.9 L1370.6,1451.9 M1362.5,1445.78 L1368.33,1445.78"/></g>
<g><title>DIN5-M</title><path stroke-width="2" d="M71.1,1105.4 L77.58,1105.4 L79.2,1107.1 L79.2,1115.6 L77.58,1117.3 L71.1,1117.3 M72.88,1117.3 L72.88,1105.4 M84.72,1105.4 L89.58,1105.4 M87.15,1105.4 L87.15,1117.3 M84.72,1117.3 L89.58,1117.3 M95.1,1117.3 L95.1,1105.4 L103.2,1117.3 L103.2,1105.4 M115.2,1105.4 L107.42,1105.4 L107.42,1110.67 L113.58,1110.67 L115.2,1112.2 L115.2,1115.6 L113.58,1117.3 L108.72,1117.3 L107.1,1115.6 M119.59,1111.52 L126.71,1111.52 M131.1,1117.3 L131.1,1105.4 L135.15,1109.48 L139.2,1105.4 L139.2,1117.3 M135.15,1109.48 L135.15,1111.18"/></g>
<g><title>J1</title><path stroke-width="2" d="M92.64,1135.2 L98.15,1135.2 M97.18,1135.2 L97.18,1145.4 L95.56,1147.1 L92.32,1147.1 L90.7,1145.4 L90.7,1143.7 M105.13,1136.39 L107.07,1135.2 L107.07,1147.1 M105.29,1147.1 L109.18,1147.1"/></g>
<g><title>IRPS</title><path stroke-width="2" d="M78,1260.4 L82.86,1260.4 M80.43,1260.4 L80.43,1272.3 M78,1272.3 L82.86,1272.3 M88.38,1272.3 L88.38,1260.4 L94.86,1260.4 L96.48,1262.1 L96.48,1265.5 L94.86,1267.03 L88.38,1267.03 M90.97,1267.03 L96.48,1272.3 M100.38,1272.3 L100.38,1260.4 L106.86,1260.4 L108.48,1262.1 L108.48,1265.5 L106.86,1267.03 L100.38,1267.03 M120.48,1262.1 L118.86,1260.4 L114,1260.4 L112.38,1262.1 L112.38,1264.65 L114,1266.18 L118.86,1266.18 L120.48,1267.71 L120.48,1270.6 L118.86,1272.3 L114,1272.3 L112.38,1270.6"/></g>
<g><title>DIN+</title><path stroke-width="2" d="M175.93,1144.88 L180.93,1144.88 L182.18,1146.24 L182.18,1153.04 L180.93,1154.4 L175.93,1154.4 M177.3,1154.4 L177.3,1144.88 M187.18,1144.88 L190.93,1144.88 M189.05,1144.88 L189.05,1154.4 M187.18,1154.4 L190.93,1154.4 M195.93,1154.4 L195.93,1144.88 L202.18,1154.4 L202.18,1144.88 M206.3,1149.64 L211.8,1149.64 M209.05,1146.78 L209.05,1152.5"/></g>
<g><title>DIN-</title><path stroke-width="2" d="M175.93,1164.88 L180.93,1164.88 L182.18,1166.24 L182.18,1173.04 L180.93,1174.4 L175.93,1174.4 M177.3,1174.4 L177.3,1164.88 M187.18,1164.88 L190.93,1164.88 M189.05,1164.88 L189.05,1174.4 M187.18,1174.4 L190.93,1174.4 M195.93,1174.4 L195.93,1164.88 L202.18,1174.4 L202.18,1164.88 M206.3,1169.78 L211.8,1169.78"/></g>
<g><title>GND</title><path stroke-width="2" d="M182,1186.44 L180.75,1185.08 L177,1185.08 L175.75,1186.44 L175.75,1193.24 L177,1194.6 L180.75,1194.6 L182,1193.24 L182,1189.98 L179,1189.98 M185.75,1194.6 L185.75,1185.08 L192,1194.6 L192,1185.08 M195.75,1185.08 L200.75,1185.08 L202,1186.44 L202,1193.24 L200.75,1194.6 L195.75,1194.6 M197.12,1194.6 L197.12,1185.08"/></g>
<g><title>DOUT-</title><path stroke-width="2" d="M165.93,1205.28 L170.93,1205.28 L172.18,1206.64 L172.18,1213.44 L170.93,1214.8 L165.93,1214.8 M167.3,1214.8 L167.3,1205.28 M177.18,1214.8 L180.93,1214.8 L182.18,1213.44 L182.18,1206.64 L180.93,1205.28 L177.18,1205.28 L175.93,1206.64 L175.93,1213.44 L177.18,1214.8 M185.93,1205.28 L185.93,1213.44 L187.18,1214.8 L190.93,1214.8 L192.18,1213.44 L192.18,1205.28 M195.93,1205.28 L202.18,1205.28 M199.05,1205.28 L199.05,1214.8 M206.3,1210.18 L211.8,1210.18"/></g>
<g><title>DOUT+</title><path stroke-width="2" d="M165.93,1225.18 L170.93,1225.18 L172.18,1226.54 L172.18,1233.34 L170.93,1234.7 L165.93,1234.7 M167.3,1234.7 L167.3,1225.18 M177.18,1234.7 L180.93,1234.7 L182.18,1233.34 L182.18,1226.54 L180.93,1225.18 L177.18,1225.18 L175.93,1226.54 L175.93,1233.34 L177.18,1234.7 M185.93,1225.18 L185.93,1233.34 L187.18,1234.7 L190.93,1234.7 L192.18,1233.34 L192.18,1225.18 M195.93,1225.18 L202.18,1225.18 M199.05,1225.18 L199.05,1234.7 M206.3,1229.94 L211.8,1229.94 M209.05,1227.08 L209.05,1232.8"/></g>
<g><title>1</title><path stroke-width="2" d="M87.6,1168.93 L89.1,1167.98 L89.1,1177.5 M87.72,1177.5 L90.72,1177.5"/></g>
<g><title>4</title><path stroke-width="2" d="M109.5,1187.8 L109.5,1178.28 L105,1184.54 L111.25,1184.54"/></g>
<g><title>2</title><path stroke-width="2" d="M113,1195.24 L114.25,1193.88 L118,1193.88 L119.25,1195.24 L119.25,1197.28 L113,1200.41 L113,1203.4 L119.25,1203.4"/></g>
<g><title>5</title><path stroke-width="2" d="M111.25,1211.98 L105.25,1211.98 L105.25,1216.2 L110,1216.2 L111.25,1217.42 L111.25,1220.14 L110,1221.5 L106.25,1221.5 L105,1220.14"/></g>
<g><title>3</title><path stroke-width="2" d="M85.6,1221.44 L86.85,1220.08 L90.6,1220.08 L91.85,1221.44 L91.85,1223.48 L90.6,1224.7 L88.1,1224.7 M90.6,1224.7 L91.85,1225.93 L91.85,1228.24 L90.6,1229.6 L86.85,1229.6 L85.6,1228.24"/></g>
<g><title>+5V</title><path stroke-width="2" d="M231.1,1096.05 L238.23,1096.05 M234.66,1092.48 L234.66,1099.62 M250.71,1090.1 L242.94,1090.1 L242.94,1095.37 L249.09,1095.37 L250.71,1096.9 L250.71,1100.3 L249.09,1102 L244.23,1102 L242.61,1100.3 M254.61,1090.1 L254.61,1095.54 L258.66,1100.3 L262.71,1095.54 L262.71,1090.1 M258.66,1100.3 L258.66,1102"/></g>
<g><title>+5V</title><path stroke-width="2" d="M304.4,1096.05 L311.53,1096.05 M307.96,1092.48 L307.96,1099.62 M324.01,1090.1 L316.24,1090.1 L316.24,1095.37 L322.39,1095.37 L324.01,1096.9 L324.01,1100.3 L322.39,1102 L317.53,1102 L315.91,1100.3 M327.91,1090.1 L327.91,1095.54 L331.96,1100.3 L336.01,1095.54 L336.01,1090.1 M331.96,1100.3 L331.96,1102"/></g>
<g><title>+5V</title><path stroke-width="2" d="M374.4,1096.05 L381.53,1096.05 M377.96,1092.48 L377.96,1099.62 M394.01,1090.1 L386.24,1090.1 L386.24,1095.37 L392.39,1095.37 L394.01,1096.9 L394.01,1100.3 L392.39,1102 L387.53,1102 L385.91,1100.3 M397.91,1090.1 L397.91,1095.54 L401.96,1100.3 L406.01,1095.54 L406.01,1090.1 M401.96,1100.3 L401.96,1102"/></g>
<g><title>R9</title><path stroke-width="2" d="M259.5,1137 L259.5,1125.1 L265.98,1125.1 L267.6,1126.8 L267.6,1130.2 L265.98,1131.73 L259.5,1131.73 M262.09,1131.73 L267.6,1137 M271.5,1135.3 L273.12,1137 L277.98,1137 L279.6,1135.3 L279.6,1126.8 L277.98,1125.1 L273.12,1125.1 L271.5,1126.8 L271.5,1130.2 L273.12,1131.73 L279.6,1131.73"/></g>
<g><title>15k</title><path stroke-width="2" d="M306.9,1126.29 L308.84,1125.1 L308.84,1137 M307.06,1137 L310.95,1137 M324.57,1125.1 L316.79,1125.1 L316.79,1130.37 L322.95,1130.37 L324.57,1131.9 L324.57,1135.3 L322.95,1137 L318.09,1137 L316.47,1135.3 M328.47,1125.1 L330.09,1125.1 L330.09,1137 M335.92,1129.18 L330.09,1133.72 M332.2,1132.15 L336.25,1137"/></g>
<g><title>R10</title><path stroke-width="2" d="M310,1232.1 L310,1220.2 L316.48,1220.2 L318.1,1221.9 L318.1,1225.3 L316.48,1226.83 L310,1226.83 M312.59,1226.83 L318.1,1232.1 M324.43,1221.39 L326.37,1220.2 L326.37,1232.1 M324.59,1232.1 L328.48,1232.1 M335.62,1232.1 L340.48,1232.1 L342.1,1230.4 L342.1,1221.9 L340.48,1220.2 L335.62,1220.2 L334,1221.9 L334,1230.4 L335.62,1232.1 M334.97,1230.06 L341.13,1222.24"/></g>
<g><title>270</title><path stroke-width="2" d="M310,1242.1 L311.62,1240.4 L316.48,1240.4 L318.1,1242.1 L318.1,1244.65 L310,1248.56 L310,1252.3 L318.1,1252.3 M322,1242.78 L322,1240.4 L330.1,1240.4 L330.1,1242.78 L324.11,1248.9 L324.11,1252.3 M335.62,1252.3 L340.48,1252.3 L342.1,1250.6 L342.1,1242.1 L340.48,1240.4 L335.62,1240.4 L334,1242.1 L334,1250.6 L335.62,1252.3 M334.97,1250.26 L341.13,1242.44"/></g>
<g><title>R12</title><path stroke-width="2" d="M269.8,1291.9 L269.8,1280 L276.28,1280 L277.9,1281.7 L277.9,1285.1 L276.28,1286.63 L269.8,1286.63 M272.39,1286.63 L277.9,1291.9 M284.23,1281.19 L286.17,1280 L286.17,1291.9 M284.39,1291.9 L288.28,1291.9 M293.8,1281.7 L295.42,1280 L300.28,1280 L301.9,1281.7 L301.9,1284.25 L293.8,1288.16 L293.8,1291.9 L301.9,1291.9"/></g>
<g><title>270</title><path stroke-width="2" d="M269.8,1306.3 L271.42,1304.6 L276.28,1304.6 L277.9,1306.3 L277.9,1308.85 L269.8,1312.76 L269.8,1316.5 L277.9,1316.5 M281.8,1306.98 L281.8,1304.6 L289.9,1304.6 L289.9,1306.98 L283.91,1313.1 L283.91,1316.5 M295.42,1316.5 L300.28,1316.5 L301.9,1314.8 L301.9,1306.3 L300.28,1304.6 L295.42,1304.6 L293.8,1306.3 L293.8,1314.8 L295.42,1316.5 M294.77,1314.46 L300.93,1306.64"/></g>
<g><title>1</title><path stroke-width="2" d="M319.2,1170.59 L321.14,1169.4 L321.14,1181.3 M319.36,1181.3 L323.25,1181.3"/></g>
<g><title>14</title><path stroke-width="2" d="M372.8,1155.99 L374.74,1154.8 L374.74,1166.7 M372.96,1166.7 L376.85,1166.7 M388.2,1166.7 L388.2,1154.8 L382.37,1162.62 L390.47,1162.62"/></g>
<g><title>U4</title><path stroke-width="2" d="M343.5,1181.1 L343.5,1191.3 L345.12,1193 L349.98,1193 L351.6,1191.3 L351.6,1181.1 M361.33,1193 L361.33,1181.1 L355.5,1188.92 L363.6,1188.92"/></g>
<g><title>2</title><path stroke-width="2" d="M407.4,1173.1 L409.02,1171.4 L413.88,1171.4 L415.5,1173.1 L415.5,1175.65 L407.4,1179.56 L407.4,1183.3 L415.5,1183.3"/></g>
<g><title>7</title><path stroke-width="2" d="M370.7,1201.98 L370.7,1199.6 L378.8,1199.6 L378.8,1201.98 L372.81,1208.1 L372.81,1211.5"/></g>
<g><title>R11</title><path stroke-width="2" d="M389.7,1217.3 L389.7,1205.4 L396.18,1205.4 L397.8,1207.1 L397.8,1210.5 L396.18,1212.03 L389.7,1212.03 M392.29,1212.03 L397.8,1217.3 M404.13,1206.59 L406.07,1205.4 L406.07,1217.3 M404.29,1217.3 L408.18,1217.3 M416.13,1206.59 L418.07,1205.4 L418.07,1217.3 M416.29,1217.3 L420.18,1217.3"/></g>
<g><title>220</title><path stroke-width="2" d="M389.7,1231.8 L391.32,1230.1 L396.18,1230.1 L397.8,1231.8 L397.8,1234.35 L389.7,1238.26 L389.7,1242 L397.8,1242 M401.7,1231.8 L403.32,1230.1 L408.18,1230.1 L409.8,1231.8 L409.8,1234.35 L401.7,1238.26 L401.7,1242 L409.8,1242 M415.32,1242 L420.18,1242 L421.8,1240.3 L421.8,1231.8 L420.18,1230.1 L415.32,1230.1 L413.7,1231.8 L413.7,1240.3 L415.32,1242 M414.67,1239.96 L420.83,1232.14"/></g>
<g><title>R13</title><path stroke-width="2" d="M389.7,1342.3 L389.7,1330.4 L396.18,1330.4 L397.8,1332.1 L397.8,1335.5 L396.18,1337.03 L389.7,1337.03 M392.29,1337.03 L397.8,1342.3 M404.13,1331.59 L406.07,1330.4 L406.07,1342.3 M404.29,1342.3 L408.18,1342.3 M413.7,1332.1 L415.32,1330.4 L420.18,1330.4 L421.8,1332.1 L421.8,1334.65 L420.18,1336.18 L416.94,1336.18 M420.18,1336.18 L421.8,1337.71 L421.8,1340.6 L420.18,1342.3 L415.32,1342.3 L413.7,1340.6"/></g>
<g><title>220</title><path stroke-width="2" d="M389.7,1356.5 L391.32,1354.8 L396.18,1354.8 L397.8,1356.5 L397.8,1359.05 L389.7,1362.96 L389.7,1366.7 L397.8,1366.7 M401.7,1356.5 L403.32,1354.8 L408.18,1354.8 L409.8,1356.5 L409.8,1359.05 L401.7,1362.96 L401.7,1366.7 L409.8,1366.7 M415.32,1366.7 L420.18,1366.7 L421.8,1365 L421.8,1356.5 L420.18,1354.8 L415.32,1354.8 L413.7,1356.5 L413.7,1365 L415.32,1366.7 M414.67,1364.66 L420.83,1356.84"/></g>
<g><title>D2</title><path stroke-width="2" d="M486.1,1240.3 L492.58,1240.3 L494.2,1242 L494.2,1250.5 L492.58,1252.2 L486.1,1252.2 M487.88,1252.2 L487.88,1240.3 M498.1,1242 L499.72,1240.3 L504.58,1240.3 L506.2,1242 L506.2,1244.55 L498.1,1248.46 L498.1,1252.2 L506.2,1252.2"/></g>
<g><title>+5V</title><path stroke-width="2" d="M536.5,1255.75 L543.63,1255.75 M540.06,1252.18 L540.06,1259.32 M556.11,1249.8 L548.34,1249.8 L548.34,1255.07 L554.49,1255.07 L556.11,1256.6 L556.11,1260 L554.49,1261.7 L549.63,1261.7 L548.01,1260 M560.01,1249.8 L560.01,1255.24 L564.06,1260 L568.11,1255.24 L568.11,1249.8 M564.06,1260 L564.06,1261.7"/></g>
<g><title>13</title><path stroke-width="2" d="M451,1170.09 L452.94,1168.9 L452.94,1180.8 M451.16,1180.8 L455.05,1180.8 M460.57,1170.6 L462.19,1168.9 L467.05,1168.9 L468.67,1170.6 L468.67,1173.15 L467.05,1174.68 L463.81,1174.68 M467.05,1174.68 L468.67,1176.21 L468.67,1179.1 L467.05,1180.8 L462.19,1180.8 L460.57,1179.1"/></g>
<g><title>U4</title><path stroke-width="2" d="M483.5,1181.1 L483.5,1191.3 L485.12,1193 L489.98,1193 L491.6,1191.3 L491.6,1181.1 M501.33,1193 L501.33,1181.1 L495.5,1188.92 L503.6,1188.92"/></g>
<g><title>12</title><path stroke-width="2" d="M542,1170.09 L543.94,1168.9 L543.94,1180.8 M542.16,1180.8 L546.05,1180.8 M551.57,1170.6 L553.19,1168.9 L558.05,1168.9 L559.67,1170.6 L559.67,1173.15 L551.57,1177.06 L551.57,1180.8 L559.67,1180.8"/></g>
<g><title>R14</title><path stroke-width="2" d="M529.8,1137 L529.8,1125.1 L536.28,1125.1 L537.9,1126.8 L537.9,1130.2 L536.28,1131.73 L529.8,1131.73 M532.39,1131.73 L537.9,1137 M544.23,1126.29 L546.17,1125.1 L546.17,1137 M544.39,1137 L548.28,1137 M559.63,1137 L559.63,1125.1 L553.8,1132.92 L561.9,1132.92"/></g>
<g><title>1k5</title><path stroke-width="2" d="M586.8,1126.29 L588.74,1125.1 L588.74,1137 M586.96,1137 L590.85,1137 M596.37,1125.1 L597.99,1125.1 L597.99,1137 M603.82,1129.18 L597.99,1133.72 M600.1,1132.15 L604.15,1137 M616.47,1125.1 L608.69,1125.1 L608.69,1130.37 L614.85,1130.37 L616.47,1131.9 L616.47,1135.3 L614.85,1137 L609.99,1137 L608.37,1135.3"/></g>
<g><title>+5V</title><path stroke-width="2" d="M584.3,1096.05 L591.43,1096.05 M587.86,1092.48 L587.86,1099.62 M603.91,1090.1 L596.14,1090.1 L596.14,1095.37 L602.29,1095.37 L603.91,1096.9 L603.91,1100.3 L602.29,1102 L597.43,1102 L595.81,1100.3 M607.81,1090.1 L607.81,1095.54 L611.86,1100.3 L615.91,1095.54 L615.91,1090.1 M611.86,1100.3 L611.86,1102"/></g>
<g><title>3</title><path stroke-width="2" d="M597,1170.6 L598.62,1168.9 L603.48,1168.9 L605.1,1170.6 L605.1,1173.15 L603.48,1174.68 L600.24,1174.68 M603.48,1174.68 L605.1,1176.21 L605.1,1179.1 L603.48,1180.8 L598.62,1180.8 L597,1179.1"/></g>
<g><title>U4</title><path stroke-width="2" d="M623.5,1181.1 L623.5,1191.3 L625.12,1193 L629.98,1193 L631.6,1191.3 L631.6,1181.1 M641.33,1193 L641.33,1181.1 L635.5,1188.92 L643.6,1188.92"/></g>
<g><title>4</title><path stroke-width="2" d="M691.83,1179 L691.83,1167.1 L686,1174.92 L694.1,1174.92"/></g>
<g><title>+12V</title><path stroke-width="2" d="M723,1095.25 L730.13,1095.25 M726.56,1091.68 L726.56,1098.82 M736.94,1090.49 L738.89,1089.3 L738.89,1101.2 M737.11,1101.2 L740.99,1101.2 M746.51,1091 L748.13,1089.3 L752.99,1089.3 L754.61,1091 L754.61,1093.55 L746.51,1097.46 L746.51,1101.2 L754.61,1101.2 M758.51,1089.3 L758.51,1094.74 L762.56,1099.5 L766.61,1094.74 L766.61,1089.3 M762.56,1099.5 L762.56,1101.2"/></g>
<g><title>R15</title><path stroke-width="2" d="M724.8,1137 L724.8,1125.1 L731.28,1125.1 L732.9,1126.8 L732.9,1130.2 L731.28,1131.73 L724.8,1131.73 M727.39,1131.73 L732.9,1137 M739.23,1126.29 L741.17,1125.1 L741.17,1137 M739.39,1137 L743.28,1137 M756.9,1125.1 L749.12,1125.1 L749.12,1130.37 L755.28,1130.37 L756.9,1131.9 L756.9,1135.3 L755.28,1137 L750.42,1137 L748.8,1135.3"/></g>
<g><title>1k5</title><path stroke-width="2" d="M727,1151.79 L728.94,1150.6 L728.94,1162.5 M727.16,1162.5 L731.05,1162.5 M736.57,1150.6 L738.19,1150.6 L738.19,1162.5 M744.02,1154.68 L738.19,1159.22 M740.3,1157.65 L744.35,1162.5 M756.67,1150.6 L748.89,1150.6 L748.89,1155.87 L755.05,1155.87 L756.67,1157.4 L756.67,1160.8 L755.05,1162.5 L750.19,1162.5 L748.57,1160.8"/></g>
<g><title>R16</title><path stroke-width="2" d="M669.7,1222.2 L669.7,1210.3 L676.18,1210.3 L677.8,1212 L677.8,1215.4 L676.18,1216.93 L669.7,1216.93 M672.29,1216.93 L677.8,1222.2 M684.13,1211.49 L686.07,1210.3 L686.07,1222.2 M684.29,1222.2 L688.18,1222.2 M701.8,1212 L700.18,1210.3 L695.32,1210.3 L693.7,1212 L693.7,1220.5 L695.32,1222.2 L700.18,1222.2 L701.8,1220.5 L701.8,1217.1 L700.18,1215.57 L693.7,1215.57"/></g>
<g><title>390</title><path stroke-width="2" d="M669.6,1231.1 L671.22,1229.4 L676.08,1229.4 L677.7,1231.1 L677.7,1233.65 L676.08,1235.18 L672.84,1235.18 M676.08,1235.18 L677.7,1236.71 L677.7,1239.6 L676.08,1241.3 L671.22,1241.3 L669.6,1239.6 M681.6,1239.6 L683.22,1241.3 L688.08,1241.3 L689.7,1239.6 L689.7,1231.1 L688.08,1229.4 L683.22,1229.4 L681.6,1231.1 L681.6,1234.5 L683.22,1236.03 L689.7,1236.03 M695.22,1241.3 L700.08,1241.3 L701.7,1239.6 L701.7,1231.1 L700.08,1229.4 L695.22,1229.4 L693.6,1231.1 L693.6,1239.6 L695.22,1241.3 M694.57,1239.26 L700.73,1231.44"/></g>
<g><title>9</title><path stroke-width="2" d="M938.8,1177.8 L940.42,1179.5 L945.28,1179.5 L946.9,1177.8 L946.9,1169.3 L945.28,1167.6 L940.42,1167.6 L938.8,1169.3 L938.8,1172.7 L940.42,1174.23 L946.9,1174.23"/></g>
<g><title>U4</title><path stroke-width="2" d="M968.5,1181.1 L968.5,1191.3 L970.12,1193 L974.98,1193 L976.6,1191.3 L976.6,1181.1 M986.33,1193 L986.33,1181.1 L980.5,1188.92 L988.6,1188.92"/></g>
<g><title>8</title><path stroke-width="2" d="M1033.32,1173.38 L1031.7,1171.85 L1031.7,1169.3 L1033.32,1167.6 L1038.18,1167.6 L1039.8,1169.3 L1039.8,1171.85 L1038.18,1173.38 L1033.32,1173.38 L1031.7,1174.91 L1031.7,1177.8 L1033.32,1179.5 L1038.18,1179.5 L1039.8,1177.8 L1039.8,1174.91 L1038.18,1173.38"/></g>
<g><title>6</title><path stroke-width="2" d="M279.1,1381 L277.48,1379.3 L272.62,1379.3 L271,1381 L271,1389.5 L272.62,1391.2 L277.48,1391.2 L279.1,1389.5 L279.1,1386.1 L277.48,1384.57 L271,1384.57"/></g>
<g><title>U5</title><path stroke-width="2" d="M319.4,1390.9 L319.4,1401.1 L321.02,1402.8 L325.88,1402.8 L327.5,1401.1 L327.5,1390.9 M339.5,1390.9 L331.72,1390.9 L331.72,1396.17 L337.88,1396.17 L339.5,1397.7 L339.5,1401.1 L337.88,1402.8 L333.02,1402.8 L331.4,1401.1"/></g>
<g><title>5</title><path stroke-width="2" d="M372.1,1379.3 L364.32,1379.3 L364.32,1384.57 L370.48,1384.57 L372.1,1386.1 L372.1,1389.5 L370.48,1391.2 L365.62,1391.2 L364,1389.5"/></g>
<g><title>4</title><path stroke-width="2" d="M451.33,1389.5 L451.33,1377.6 L445.5,1385.42 L453.6,1385.42"/></g>
<g><title>U5</title><path stroke-width="2" d="M495.9,1388.5 L495.9,1398.7 L497.52,1400.4 L502.38,1400.4 L504,1398.7 L504,1388.5 M516,1388.5 L508.22,1388.5 L508.22,1393.77 L514.38,1393.77 L516,1395.3 L516,1398.7 L514.38,1400.4 L509.52,1400.4 L507.9,1398.7"/></g>
<g><title>3</title><path stroke-width="2" d="M537,1380.3 L538.62,1378.6 L543.48,1378.6 L545.1,1380.3 L545.1,1382.85 L543.48,1384.38 L540.24,1384.38 M543.48,1384.38 L545.1,1385.91 L545.1,1388.8 L543.48,1390.5 L538.62,1390.5 L537,1388.8"/></g>
<g><title>R17</title><path stroke-width="2" d="M529.7,1356.8 L529.7,1344.9 L536.18,1344.9 L537.8,1346.6 L537.8,1350 L536.18,1351.53 L529.7,1351.53 M532.29,1351.53 L537.8,1356.8 M544.13,1346.09 L546.07,1344.9 L546.07,1356.8 M544.29,1356.8 L548.18,1356.8 M553.7,1347.28 L553.7,1344.9 L561.8,1344.9 L561.8,1347.28 L555.81,1353.4 L555.81,1356.8"/></g>
<g><title>1k5</title><path stroke-width="2" d="M586.8,1346.09 L588.74,1344.9 L588.74,1356.8 M586.96,1356.8 L590.85,1356.8 M596.37,1344.9 L597.99,1344.9 L597.99,1356.8 M603.82,1348.98 L597.99,1353.52 M600.1,1351.95 L604.15,1356.8 M616.47,1344.9 L608.69,1344.9 L608.69,1350.17 L614.85,1350.17 L616.47,1351.7 L616.47,1355.1 L614.85,1356.8 L609.99,1356.8 L608.37,1355.1"/></g>
<g><title>+5V</title><path stroke-width="2" d="M584.3,1315.75 L591.43,1315.75 M587.86,1312.18 L587.86,1319.32 M603.91,1309.8 L596.14,1309.8 L596.14,1315.07 L602.29,1315.07 L603.91,1316.6 L603.91,1320 L602.29,1321.7 L597.43,1321.7 L595.81,1320 M607.81,1309.8 L607.81,1315.24 L611.86,1320 L615.91,1315.24 L615.91,1309.8 M611.86,1320 L611.86,1321.7"/></g>
<g><title>2</title><path stroke-width="2" d="M605.5,1382.6 L607.12,1380.9 L611.98,1380.9 L613.6,1382.6 L613.6,1385.15 L605.5,1389.06 L605.5,1392.8 L613.6,1392.8"/></g>
<g><title>U5</title><path stroke-width="2" d="M656,1390 L656,1400.2 L657.62,1401.9 L662.48,1401.9 L664.1,1400.2 L664.1,1390 M676.1,1390 L668.32,1390 L668.32,1395.27 L674.48,1395.27 L676.1,1396.8 L676.1,1400.2 L674.48,1401.9 L669.62,1401.9 L668,1400.2"/></g>
<g><title>1</title><path stroke-width="2" d="M698.3,1379.79 L700.24,1378.6 L700.24,1390.5 M698.46,1390.5 L702.35,1390.5"/></g>
<g><title>14</title><path stroke-width="2" d="M632.8,1365.49 L634.74,1364.3 L634.74,1376.2 M632.96,1376.2 L636.85,1376.2 M648.2,1376.2 L648.2,1364.3 L642.37,1372.12 L650.47,1372.12"/></g>
<g><title>7</title><path stroke-width="2" d="M643.7,1411.78 L643.7,1409.4 L651.8,1409.4 L651.8,1411.78 L645.81,1417.9 L645.81,1421.3"/></g>
<g><title>+5V</title><path stroke-width="2" d="M664.6,1315.75 L671.73,1315.75 M668.16,1312.18 L668.16,1319.32 M684.21,1309.8 L676.44,1309.8 L676.44,1315.07 L682.59,1315.07 L684.21,1316.6 L684.21,1320 L682.59,1321.7 L677.73,1321.7 L676.11,1320 M688.11,1309.8 L688.11,1315.24 L692.16,1320 L696.21,1315.24 L696.21,1309.8 M692.16,1320 L692.16,1321.7"/></g>
<g><title>+5V</title><path stroke-width="2" d="M733.6,1315.75 L740.73,1315.75 M737.16,1312.18 L737.16,1319.32 M753.21,1309.8 L745.44,1309.8 L745.44,1315.07 L751.59,1315.07 L753.21,1316.6 L753.21,1320 L751.59,1321.7 L746.73,1321.7 L745.11,1320 M757.11,1309.8 L757.11,1315.24 L761.16,1320 L765.21,1315.24 L765.21,1309.8 M761.16,1320 L761.16,1321.7"/></g>
<g><title>R18</title><path stroke-width="2" d="M738.9,1357.2 L738.9,1345.3 L745.38,1345.3 L747,1347 L747,1350.4 L745.38,1351.93 L738.9,1351.93 M741.49,1351.93 L747,1357.2 M753.33,1346.49 L755.27,1345.3 L755.27,1357.2 M753.49,1357.2 L757.38,1357.2 M764.52,1351.08 L762.9,1349.55 L762.9,1347 L764.52,1345.3 L769.38,1345.3 L771,1347 L771,1349.55 L769.38,1351.08 L764.52,1351.08 L762.9,1352.61 L762.9,1355.5 L764.52,1357.2 L769.38,1357.2 L771,1355.5 L771,1352.61 L769.38,1351.08"/></g>
<g><title>680</title><path stroke-width="2" d="M752.1,1372.3 L750.48,1370.6 L745.62,1370.6 L744,1372.3 L744,1380.8 L745.62,1382.5 L750.48,1382.5 L752.1,1380.8 L752.1,1377.4 L750.48,1375.87 L744,1375.87 M757.62,1376.38 L756,1374.85 L756,1372.3 L757.62,1370.6 L762.48,1370.6 L764.1,1372.3 L764.1,1374.85 L762.48,1376.38 L757.62,1376.38 L756,1377.91 L756,1380.8 L757.62,1382.5 L762.48,1382.5 L764.1,1380.8 L764.1,1377.91 L762.48,1376.38 M769.62,1382.5 L774.48,1382.5 L776.1,1380.8 L776.1,1372.3 L774.48,1370.6 L769.62,1370.6 L768,1372.3 L768,1380.8 L769.62,1382.5 M768.97,1380.46 L775.13,1372.64"/></g>
<g><title>R19</title><path stroke-width="2" d="M738.9,1416.5 L738.9,1404.6 L745.38,1404.6 L747,1406.3 L747,1409.7 L745.38,1411.23 L738.9,1411.23 M741.49,1411.23 L747,1416.5 M753.33,1405.79 L755.27,1404.6 L755.27,1416.5 M753.49,1416.5 L757.38,1416.5 M762.9,1414.8 L764.52,1416.5 L769.38,1416.5 L771,1414.8 L771,1406.3 L769.38,1404.6 L764.52,1404.6 L762.9,1406.3 L762.9,1409.7 L764.52,1411.23 L771,1411.23"/></g>
<g><title>1k5</title><path stroke-width="2" d="M742,1431.79 L743.94,1430.6 L743.94,1442.5 M742.16,1442.5 L746.05,1442.5 M751.57,1430.6 L753.19,1430.6 L753.19,1442.5 M759.02,1434.68 L753.19,1439.22 M755.3,1437.65 L759.35,1442.5 M771.67,1430.6 L763.89,1430.6 L763.89,1435.87 L770.05,1435.87 L771.67,1437.4 L771.67,1440.8 L770.05,1442.5 L765.19,1442.5 L763.57,1440.8"/></g>
<g><title>5</title><path stroke-width="2" d="M946.1,1444.6 L938.32,1444.6 L938.32,1449.87 L944.48,1449.87 L946.1,1451.4 L946.1,1454.8 L944.48,1456.5 L939.62,1456.5 L938,1454.8"/></g>
<g><title>U4</title><path stroke-width="2" d="M968.5,1456.1 L968.5,1466.3 L970.12,1468 L974.98,1468 L976.6,1466.3 L976.6,1456.1 M986.33,1468 L986.33,1456.1 L980.5,1463.92 L988.6,1463.92"/></g>
<g><title>6</title><path stroke-width="2" d="M1038.7,1446.3 L1037.08,1444.6 L1032.22,1444.6 L1030.6,1446.3 L1030.6,1454.8 L1032.22,1456.5 L1037.08,1456.5 L1038.7,1454.8 L1038.7,1451.4 L1037.08,1449.87 L1030.6,1449.87"/></g>
<g><title>+12V-D</title><path stroke-width="2" d="M1711.2,956.55 L1718.33,956.55 M1714.76,952.98 L1714.76,960.12 M1725.14,951.79 L1727.09,950.6 L1727.09,962.5 M1725.31,962.5 L1729.19,962.5 M1734.71,952.3 L1736.33,950.6 L1741.19,950.6 L1742.81,952.3 L1742.81,954.85 L1734.71,958.76 L1734.71,962.5 L1742.81,962.5 M1746.71,950.6 L1746.71,956.04 L1750.76,960.8 L1754.81,956.04 L1754.81,950.6 M1750.76,960.8 L1750.76,962.5 M1759.2,956.72 L1766.33,956.72 M1770.71,950.6 L1777.19,950.6 L1778.81,952.3 L1778.81,960.8 L1777.19,962.5 L1770.71,962.5 M1772.5,962.5 L1772.5,950.6"/></g>
<g><title>R20</title><path stroke-width="2" d="M1754.6,1021.9 L1754.6,1010 L1761.08,1010 L1762.7,1011.7 L1762.7,1015.1 L1761.08,1016.63 L1754.6,1016.63 M1757.19,1016.63 L1762.7,1021.9 M1766.6,1011.7 L1768.22,1010 L1773.08,1010 L1774.7,1011.7 L1774.7,1014.25 L1766.6,1018.16 L1766.6,1021.9 L1774.7,1021.9 M1780.22,1021.9 L1785.08,1021.9 L1786.7,1020.2 L1786.7,1011.7 L1785.08,1010 L1780.22,1010 L1778.6,1011.7 L1778.6,1020.2 L1780.22,1021.9 M1779.57,1019.86 L1785.73,1012.04"/></g>
<g><title>22</title><path stroke-width="2" d="M1754.6,1036.4 L1756.22,1034.7 L1761.08,1034.7 L1762.7,1036.4 L1762.7,1038.95 L1754.6,1042.86 L1754.6,1046.6 L1762.7,1046.6 M1766.6,1036.4 L1768.22,1034.7 L1773.08,1034.7 L1774.7,1036.4 L1774.7,1038.95 L1766.6,1042.86 L1766.6,1046.6 L1774.7,1046.6"/></g>
<g><title>J3</title><path stroke-width="2" d="M1852.94,1075 L1858.45,1075 M1857.48,1075 L1857.48,1085.2 L1855.86,1086.9 L1852.62,1086.9 L1851,1085.2 L1851,1083.5 M1863,1076.7 L1864.62,1075 L1869.48,1075 L1871.1,1076.7 L1871.1,1079.25 L1869.48,1080.78 L1866.24,1080.78 M1869.48,1080.78 L1871.1,1082.31 L1871.1,1085.2 L1869.48,1086.9 L1864.62,1086.9 L1863,1085.2"/></g>
<g><title>DIN5-F</title><path stroke-width="2" d="M1906,1120.4 L1912.48,1120.4 L1914.1,1122.1 L1914.1,1130.6 L1912.48,1132.3 L1906,1132.3 M1907.78,1132.3 L1907.78,1120.4 M1919.62,1120.4 L1924.48,1120.4 M1922.05,1120.4 L1922.05,1132.3 M1919.62,1132.3 L1924.48,1132.3 M1930,1132.3 L1930,1120.4 L1938.1,1132.3 L1938.1,1120.4 M1950.1,1120.4 L1942.32,1120.4 L1942.32,1125.67 L1948.48,1125.67 L1950.1,1127.2 L1950.1,1130.6 L1948.48,1132.3 L1943.62,1132.3 L1942,1130.6 M1954.49,1126.52 L1961.61,1126.52 M1974.1,1120.4 L1966,1120.4 L1966,1132.3 M1966,1126.18 L1971.83,1126.18"/></g>
<g><title>IN</title><path stroke-width="2" d="M1857.9,1204.8 L1862.76,1204.8 M1860.33,1204.8 L1860.33,1216.7 M1857.9,1216.7 L1862.76,1216.7 M1868.28,1216.7 L1868.28,1204.8 L1876.38,1216.7 L1876.38,1204.8"/></g>
<g><title>1</title><path stroke-width="2" d="M1870.3,1114.13 L1871.8,1113.18 L1871.8,1122.7 M1870.42,1122.7 L1873.42,1122.7"/></g>
<g><title>4</title><path stroke-width="2" d="M1853.4,1132.4 L1853.4,1122.88 L1848.9,1129.14 L1855.15,1129.14"/></g>
<g><title>2</title><path stroke-width="2" d="M1841.1,1139.84 L1842.35,1138.48 L1846.1,1138.48 L1847.35,1139.84 L1847.35,1141.88 L1841.1,1145.01 L1841.1,1148 L1847.35,1148"/></g>
<g><title>5</title><path stroke-width="2" d="M1855.75,1156.98 L1849.75,1156.98 L1849.75,1161.2 L1854.5,1161.2 L1855.75,1162.42 L1855.75,1165.14 L1854.5,1166.5 L1850.75,1166.5 L1849.5,1165.14"/></g>
<g><title>3</title><path stroke-width="2" d="M1869,1166.54 L1870.25,1165.18 L1874,1165.18 L1875.25,1166.54 L1875.25,1168.58 L1874,1169.8 L1871.5,1169.8 M1874,1169.8 L1875.25,1171.03 L1875.25,1173.34 L1874,1174.7 L1870.25,1174.7 L1869,1173.34"/></g>
<g><title>J4</title><path stroke-width="2" d="M1852.94,1325 L1858.45,1325 M1857.48,1325 L1857.48,1335.2 L1855.86,1336.9 L1852.62,1336.9 L1851,1335.2 L1851,1333.5 M1868.83,1336.9 L1868.83,1325 L1863,1332.82 L1871.1,1332.82"/></g>
<g><title>DIN5-F</title><path stroke-width="2" d="M1910.5,1369.9 L1916.98,1369.9 L1918.6,1371.6 L1918.6,1380.1 L1916.98,1381.8 L1910.5,1381.8 M1912.28,1381.8 L1912.28,1369.9 M1924.12,1369.9 L1928.98,1369.9 M1926.55,1369.9 L1926.55,1381.8 M1924.12,1381.8 L1928.98,1381.8 M1934.5,1381.8 L1934.5,1369.9 L1942.6,1381.8 L1942.6,1369.9 M1954.6,1369.9 L1946.82,1369.9 L1946.82,1375.17 L1952.98,1375.17 L1954.6,1376.7 L1954.6,1380.1 L1952.98,1381.8 L1948.12,1381.8 L1946.5,1380.1 M1958.99,1376.02 L1966.11,1376.02 M1978.6,1369.9 L1970.5,1369.9 L1970.5,1381.8 M1970.5,1375.68 L1976.33,1375.68"/></g>
<g><title>OUT</title><path stroke-width="2" d="M1861.32,1461.7 L1866.18,1461.7 L1867.8,1460 L1867.8,1451.5 L1866.18,1449.8 L1861.32,1449.8 L1859.7,1451.5 L1859.7,1460 L1861.32,1461.7 M1871.7,1449.8 L1871.7,1460 L1873.32,1461.7 L1878.18,1461.7 L1879.8,1460 L1879.8,1449.8 M1883.7,1449.8 L1891.8,1449.8 M1887.75,1449.8 L1887.75,1461.7"/></g>
<g><title>1</title><path stroke-width="2" d="M1870.3,1364.13 L1871.8,1363.18 L1871.8,1372.7 M1870.42,1372.7 L1873.42,1372.7"/></g>
<g><title>4</title><path stroke-width="2" d="M1853.4,1382.4 L1853.4,1372.88 L1848.9,1379.14 L1855.15,1379.14"/></g>
<g><title>2</title><path stroke-width="2" d="M1841.1,1389.84 L1842.35,1388.48 L1846.1,1388.48 L1847.35,1389.84 L1847.35,1391.88 L1841.1,1395.01 L1841.1,1398 L1847.35,1398"/></g>
<g><title>5</title><path stroke-width="2" d="M1855.75,1406.98 L1849.75,1406.98 L1849.75,1411.2 L1854.5,1411.2 L1855.75,1412.42 L1855.75,1415.14 L1854.5,1416.5 L1850.75,1416.5 L1849.5,1415.14"/></g>
<g><title>3</title><path stroke-width="2" d="M1869,1416.54 L1870.25,1415.18 L1874,1415.18 L1875.25,1416.54 L1875.25,1418.58 L1874,1419.8 L1871.5,1419.8 M1874,1419.8 L1875.25,1421.03 L1875.25,1423.34 L1874,1424.7 L1870.25,1424.7 L1869,1423.34"/></g>
</g>
</svg>
</body></html>
